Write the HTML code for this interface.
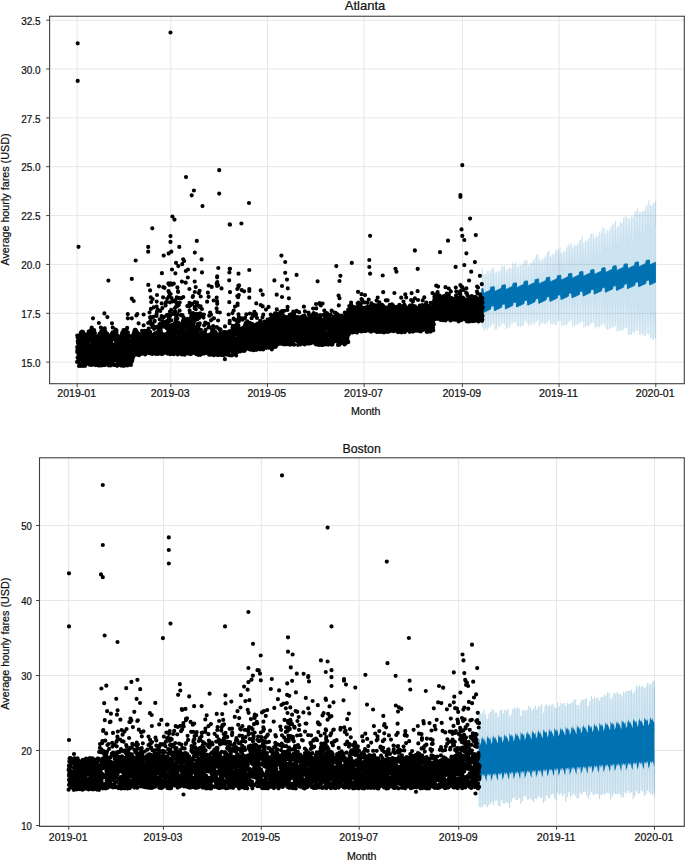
<!DOCTYPE html>
<html><head><meta charset="utf-8"><title>Forecast</title><style>html,body{margin:0;padding:0;background:#fff;overflow:hidden}svg{display:block;position:absolute;left:0;top:0}text{stroke:#111;stroke-width:.22px}</style></head><body>
<svg width="685" height="860" viewBox="0 0 685 860" font-family="'Liberation Sans', sans-serif" fill="#111">
<rect width="685" height="860" fill="#fff"/>
<path d="M77.2 16.25V383.7M170.8 16.25V383.7M267.4 16.25V383.7M364.1 16.25V383.7M462.4 16.25V383.7M559.1 16.25V383.7M655.8 16.25V383.7M49.6 362.1H684.3M49.6 313.3H684.3M49.6 264.4H684.3M49.6 215.6H684.3M49.6 166.7H684.3M49.6 117.9H684.3M49.6 69H684.3M49.6 20.2H684.3" stroke="#e6e6e6" stroke-width="1" fill="none"/>
<path d="M481.8 289L482 268.7L482.8 268.6L483 288.7L483.4 294.1L483.6 274.3L484.4 273.9L484.6 293.4L485 293.2L485.2 274.5L486 274.1L486.2 292.5L486.6 292.4L486.8 271.2L487.5 270.8L487.8 291.7L488.1 291.5L488.4 271.3L489.1 270.9L489.4 290.8L489.7 290.7L490 273.4L490.7 270.1L490.9 287.1L491.3 287L491.5 269.3L492.3 269.1L492.5 286.8L492.9 286.7L493.1 268.2L493.9 268L494.1 286.4L494.5 291.8L494.7 273.1L495.5 272.7L495.7 291.1L496.1 290.9L496.3 271.8L497 271.4L497.3 290.2L497.7 290.1L497.9 271.5L498.6 271.1L498.9 289.4L499.2 289.2L499.5 271L500.2 270.6L500.5 288.5L500.8 288.4L501.1 268.3L501.8 264.9L502 284.8L502.4 284.7L502.6 266.9L503.4 266.8L503.6 284.5L504 284.4L504.2 266L505 265.8L505.2 284.2L505.6 289.5L505.8 270.9L506.6 270.5L506.8 288.8L507.2 288.6L507.4 268.7L508.1 268.3L508.4 288L508.7 287.8L509 268L509.7 267.5L510 287.1L510.3 286.9L510.6 268.8L511.3 268.4L511.6 286.3L511.9 286.1L512.2 264.9L512.9 261.5L513.1 282.5L513.5 282.4L513.7 264.6L514.5 264.4L514.7 282.2L515.1 282.1L515.3 262.8L516.1 262.6L516.3 281.9L516.7 287.2L516.9 267.2L517.7 266.7L517.9 286.5L518.3 286.3L518.5 265.6L519.2 265.2L519.5 285.7L519.8 285.5L520.1 265.6L520.8 265.1L521.1 284.8L521.4 284.6L521.7 265L522.4 264.5L522.6 284L523 283.8L523.2 264.7L524 261.3L524.2 280.2L524.6 280.1L524.8 260.3L525.6 260.1L525.8 279.8L526.2 279.6L526.4 260.6L527.2 260.4L527.4 279.1L527.8 284.4L528 265.6L528.7 265.1L529 283.5L529.4 283.2L529.6 263.8L530.3 263.3L530.6 282.3L530.9 282L531.2 263.3L531.9 262.8L532.2 281.2L532.5 280.9L532.8 260.1L533.5 259.6L533.7 280L534.1 279.7L534.3 261.3L535.1 257.9L535.3 275.9L535.7 275.8L535.9 254.5L536.7 254.3L536.9 275.3L537.3 275.2L537.5 255.3L538.3 255L538.5 274.7L538.9 279.9L539.1 259.6L539.8 259.1L540.1 279L540.4 278.7L540.7 260.9L541.4 260.4L541.7 277.8L542 277.6L542.3 258.8L543 258.3L543.3 276.7L543.6 276.4L543.9 258.1L544.6 257.6L544.8 275.5L545.2 275.3L545.4 257.7L546.2 254.2L546.4 271.5L546.8 271.3L547 252.4L547.8 252.2L548 270.8L548.4 270.7L548.6 251.1L549.4 250.8L549.6 270.2L550 275.4L550.2 257L550.9 256.4L551.2 274.5L551.5 274.3L551.8 254.3L552.5 253.7L552.8 273.4L553.1 273.1L553.4 254.8L554.1 254.3L554.3 272.2L554.7 272L554.9 251.4L555.7 250.9L555.9 271.1L556.3 270.8L556.5 251.4L557.3 247.9L557.5 267L557.9 266.9L558.1 249.9L558.9 249.6L559.1 266.4L559.5 266.2L559.7 247.5L560.4 247.2L560.7 265.8L561 271L561.3 252.9L562 252.4L562.3 270.1L562.6 269.9L562.9 251.5L563.6 250.9L563.9 269L564.2 268.8L564.5 251.8L565.2 251.3L565.4 267.9L565.8 267.7L566 248.6L566.8 248.1L567 266.8L567.4 266.6L567.6 246.7L568.4 243.2L568.6 262.8L569 262.7L569.2 245.8L570 245.5L570.2 262.3L570.6 262.1L570.8 243.4L571.5 243.1L571.8 261.7L572.1 266.9L572.4 247.5L573.1 246.9L573.4 266.1L573.7 265.8L574 244.7L574.7 244.2L575 265L575.3 264.7L575.6 246L576.3 245.4L576.5 263.9L576.9 263.6L577.1 244.7L577.9 244.2L578.1 262.8L578.5 262.5L578.7 243.7L579.5 240.2L579.7 258.8L580.1 258.6L580.3 239.9L581.1 239.6L581.3 258.2L581.7 258.1L581.9 236.5L582.6 236.1L582.9 257.6L583.2 262.9L583.5 243.7L584.2 243.1L584.5 262L584.8 261.8L585.1 240.7L585.8 240.2L586 260.9L586.4 260.7L586.6 240.9L587.4 240.3L587.6 259.8L588 259.5L588.2 238.7L589 238.1L589.2 258.7L589.6 258.4L589.8 237.4L590.6 233.9L590.8 254.6L591.2 254.5L591.4 233.2L592.1 232.8L592.4 253.9L592.8 253.8L593 234.3L593.7 234L594 253.2L594.3 258.4L594.6 238.1L595.3 237.5L595.6 257.5L595.9 257.2L596.2 235.7L596.9 235.1L597.1 256.2L597.5 256L597.7 236.4L598.5 235.8L598.7 255L599.1 254.7L599.3 232.6L600.1 232L600.3 253.8L600.7 253.5L600.9 233.4L601.7 229.8L601.9 249.7L602.3 249.5L602.5 227.9L603.2 227.5L603.5 248.9L603.8 248.8L604.1 229.1L604.8 228.7L605.1 248.2L605.4 253.4L605.7 233.7L606.4 233.1L606.7 252.5L607 252.2L607.3 230.3L608 229.6L608.2 251.3L608.6 251L608.8 231.1L609.6 230.5L609.8 250L610.2 249.7L610.4 227.1L611.2 226.5L611.4 248.8L611.8 248.5L612 227L612.8 223.4L613 244.7L613.4 244.5L613.6 224L614.3 223.6L614.6 244L614.9 243.8L615.2 220.7L615.9 220.3L616.2 243.2L616.5 248.5L616.8 227.6L617.5 227L617.7 247.5L618.1 247.2L618.3 226.2L619.1 225.6L619.3 246.3L619.7 246L619.9 222.2L620.7 221.5L620.9 245L621.3 244.8L621.5 223.4L622.3 222.7L622.5 243.8L622.9 243.5L623.1 220.2L623.8 216.6L624.1 239.7L624.5 239.5L624.7 216.4L625.4 216L625.7 239L626 238.8L626.3 217.5L627 217.1L627.3 238.3L627.6 243.5L627.9 218.2L628.6 217.6L628.8 242.5L629.2 242.2L629.4 220.3L630.2 219.6L630.4 241.2L630.8 240.9L631 217.1L631.8 216.4L632 239.8L632.4 239.5L632.6 217.6L633.4 216.9L633.6 238.4L634 238.1L634.2 215.4L634.9 211.8L635.2 234.1L635.5 233.9L635.8 211L636.5 210.5L636.8 233.2L637.1 233L637.4 208.5L638.1 208.1L638.4 232.3L638.7 237.5L639 212.6L639.7 211.9L639.9 236.4L640.3 236L640.5 212.6L641.3 211.9L641.5 234.9L641.9 234.6L642.1 212L642.9 211.3L643.1 233.5L643.5 233.2L643.7 210.9L644.5 210.2L644.7 232.1L645.1 231.8L645.3 209.4L646 205.8L646.3 227.8L646.6 227.6L646.9 205.1L647.6 204.7L647.9 226.9L648.2 226.7L648.5 200.6L649.2 200.1L649.4 226L649.8 231.2L650 205.5L650.8 204.8L651 230.1L651.4 229.7L651.6 206L652.4 205.3L652.6 228.7L653 228.3L653.2 203.4L654 202.7L654.2 227.2L654.6 226.9L654.8 202.7L655.5 202L655.6 226L655.6 226L655.6 200.5L655.6 200.5L655.6 226L655.6 312.9L655.6 339.5L655.6 339.5L655.6 312.9L655.6 312.9L655.5 337.9L654.8 337.9L654.6 312.9L654.2 312.8L654 339.7L653.2 339.7L653 312.8L652.6 312.8L652.4 338.5L651.6 338.5L651.4 312.7L651 312.7L650.8 337.9L650 337.9L649.8 312.7L649.4 308.1L649.2 334.6L648.5 334.4L648.2 307.8L647.9 307.7L647.6 333.7L646.9 333.5L646.6 307.3L646.3 307.2L646 334.2L645.3 336.7L645.1 309.6L644.7 309.6L644.5 336.2L643.7 336.2L643.5 309.6L643.1 309.6L642.9 334.3L642.1 334.3L641.9 309.6L641.5 309.6L641.3 335.1L640.5 335.1L640.3 309.6L639.9 309.6L639.7 334.5L639 334.5L638.7 309.6L638.4 305L638.1 330.7L637.4 330.5L637.1 304.7L636.8 304.6L636.5 330.9L635.8 330.7L635.5 304.3L635.2 304.3L634.9 331.5L634.2 334L634 306.7L633.6 306.7L633.4 332.2L632.6 332.3L632.4 306.8L632 306.8L631.8 334.5L631 334.6L630.8 306.8L630.4 306.8L630.2 334.7L629.4 334.8L629.2 306.9L628.8 306.9L628.6 334.7L627.9 334.8L627.6 307L627.3 302.4L627 327.8L626.3 327.7L626 302.1L625.7 302.1L625.4 328.3L624.7 328.1L624.5 301.8L624.1 301.7L623.8 328L623.1 330.5L622.9 304.2L622.5 304.3L622.3 330.2L621.5 330.2L621.3 304.4L620.9 304.4L620.7 330.4L619.9 330.4L619.7 304.5L619.3 304.5L619.1 330.7L618.3 330.8L618.1 304.6L617.7 304.6L617.5 331.7L616.8 331.8L616.5 304.8L616.2 300.2L615.9 326.2L615.2 326L614.9 300L614.6 299.9L614.3 327.6L613.6 327.4L613.4 299.7L613 299.7L612.8 325.4L612 327.9L611.8 302.2L611.4 302.2L611.2 327.8L610.4 327.9L610.2 302.4L609.8 302.4L609.6 329L608.8 329.1L608.6 302.6L608.2 302.6L608 329.8L607.3 329.9L607 302.8L606.7 302.8L606.4 328.5L605.7 328.6L605.4 303L605.1 298.4L604.8 324.9L604.1 324.8L603.8 298.3L603.5 298.2L603.2 324.4L602.5 324.3L602.3 298L601.9 298L601.7 323.5L600.9 326L600.7 300.6L600.3 300.6L600.1 327.2L599.3 327.3L599.1 300.8L598.7 300.9L598.5 326.8L597.7 326.9L597.5 301.1L597.1 301.1L596.9 327L596.2 327.1L595.9 301.3L595.6 301.4L595.3 328.8L594.6 328.9L594.3 301.6L594 297.1L593.7 322.3L593 322.2L592.8 297L592.4 296.9L592.1 323.1L591.4 323L591.2 296.8L590.8 296.8L590.6 323.6L589.8 326.2L589.6 299.4L589.2 299.5L589 325.5L588.2 325.6L588 299.7L587.6 299.8L587.4 325.8L586.6 325.9L586.4 300L586 300.1L585.8 326.5L585.1 326.6L584.8 300.3L584.5 300.4L584.2 328.3L583.5 328.4L583.2 300.7L582.9 296.2L582.6 321.2L581.9 321.2L581.7 296.1L581.3 296.1L581.1 323.1L580.3 323.1L580.1 296L579.7 296L579.5 321.9L578.7 324.5L578.5 298.7L578.1 298.7L577.9 325L577.1 325.1L576.9 299L576.5 299.1L576.3 324.1L575.6 324.2L575.3 299.4L575 299.5L574.7 326.1L574 326.2L573.7 299.8L573.4 299.9L573.1 326.3L572.4 326.5L572.1 300.2L571.8 295.7L571.5 320.3L570.8 320.2L570.6 295.6L570.2 295.6L570 321.7L569.2 321.7L569 295.6L568.6 295.6L568.4 321L567.6 323.6L567.4 298.3L567 298.4L566.8 325.1L566 325.2L565.8 298.8L565.4 298.9L565.2 324.8L564.5 325L564.2 299.2L563.9 299.3L563.6 325.5L562.9 325.7L562.6 299.6L562.3 299.7L562 325.8L561.3 326L561 300.1L560.7 295.6L560.4 321.3L559.7 321.3L559.5 295.6L559.1 295.6L558.9 320.8L558.1 320.8L557.9 295.6L557.5 295.7L557.3 322.5L556.5 325.2L556.3 298.4L555.9 298.5L555.7 325.2L554.9 325.3L554.7 298.9L554.3 299L554.1 323.4L553.4 323.6L553.1 299.4L552.8 299.5L552.5 324.6L551.8 324.8L551.5 299.9L551.2 300L550.9 323.9L550.2 324.1L550 300.4L549.6 296L549.4 319.8L548.6 319.8L548.4 296L548 296L547.8 322.6L547 322.6L546.8 296.1L546.4 296.1L546.2 322.5L545.4 325.2L545.2 299L544.8 299.1L544.6 323.5L543.9 323.7L543.6 299.5L543.3 299.6L543 323.1L542.3 323.3L542 300.1L541.7 300.2L541.4 323.5L540.7 323.7L540.4 300.6L540.1 300.8L539.8 326.2L539.1 326.4L538.9 301.2L538.5 296.8L538.3 320.1L537.5 320.1L537.3 296.9L536.9 296.9L536.7 322.1L535.9 322.1L535.7 297L535.3 297.1L535.1 322.7L534.3 325.4L534.1 299.9L533.7 300.1L533.5 322.9L532.8 323.2L532.5 300.5L532.2 300.7L531.9 324.9L531.2 325.2L530.9 301.2L530.6 301.3L530.3 324.4L529.6 324.6L529.4 301.8L529 301.9L528.7 325.9L528 326.2L527.8 302.4L527.4 298L527.2 323L526.4 323L526.2 298.1L525.8 298.2L525.6 320.7L524.8 320.7L524.6 298.4L524.2 298.4L524 323.2L523.2 326L523 301.3L522.6 301.5L522.4 326.1L521.7 326.3L521.4 302L521.1 302.1L520.8 326.5L520.1 326.8L519.8 302.7L519.5 302.8L519.2 326.1L518.5 326.4L518.3 303.4L517.9 303.5L517.7 326.1L516.9 326.3L516.7 304L516.3 299.6L516.1 321.7L515.3 321.8L515.1 299.8L514.7 299.9L514.5 322.3L513.7 322.3L513.5 300.1L513.1 300.2L512.9 321.7L512.2 324.5L511.9 303.1L511.6 303.3L511.3 324.4L510.6 324.7L510.3 303.9L510 304L509.7 327.5L509 327.8L508.7 304.6L508.4 304.8L508.1 327.7L507.4 328L507.2 305.4L506.8 305.5L506.6 328.7L505.8 328.9L505.6 306.1L505.2 301.7L505 324.5L504.2 324.6L504 302L503.6 302L503.4 323.4L502.6 323.5L502.4 302.3L502 302.4L501.8 322.3L501.1 325.1L500.8 305.4L500.5 305.6L500.2 327.1L499.5 327.4L499.2 306.2L498.9 306.4L498.6 326.1L497.9 326.4L497.7 307L497.3 307.2L497 328.8L496.3 329.1L496.1 307.8L495.7 308L495.5 329.8L494.7 330.1L494.5 308.6L494.1 304.2L493.9 323.6L493.1 323.7L492.9 304.5L492.5 304.6L492.3 324.8L491.5 324.9L491.3 304.9L490.9 305L490.7 325L490 327.8L489.7 308.1L489.4 308.3L489.1 327.5L488.4 327.8L488.1 308.9L487.8 309.1L487.5 330L486.8 330.3L486.6 309.8L486.2 310L486 328.3L485.2 328.6L485 310.7L484.6 310.9L484.4 330.6L483.6 330.9L483.4 311.5L483 307.2L482.8 326.5L482 326.6L481.8 307.5Z" fill="#0072B2" fill-opacity="0.2" stroke="#0072B2" stroke-opacity="0.2" stroke-width="0.22" stroke-linejoin="bevel"/>
<path d="M481.8 288.7L482.2 288.6L482.6 288.6L483 288.5L483.4 293.5L483.8 293.3L484.2 293.1L484.6 292.9L485 292.7L485.4 292.5L485.8 292.3L486.2 292.1L486.6 291.9L487 291.7L487.3 291.6L487.7 291.4L488.1 291.2L488.5 291L488.9 290.8L489.3 290.6L489.7 290.4L490.1 290.2L490.5 290L490.9 287.1L491.3 287.1L491.7 287L492.1 286.9L492.5 286.9L492.9 286.8L493.3 286.7L493.7 286.7L494.1 286.6L494.5 291.5L494.9 291.4L495.3 291.2L495.7 291L496.1 290.8L496.5 290.6L496.9 290.4L497.3 290.2L497.7 290L498 289.8L498.4 289.7L498.8 289.5L499.2 289.3L499.6 289.1L500 288.9L500.4 288.7L500.8 288.5L501.2 288.3L501.6 288.1L502 285.2L502.4 285.2L502.8 285.1L503.2 285L503.6 285L504 284.9L504.4 284.8L504.8 284.8L505.2 284.7L505.6 289.6L506 289.5L506.4 289.3L506.8 289.1L507.2 288.9L507.6 288.7L508 288.5L508.3 288.3L508.7 288.1L509.1 287.9L509.5 287.7L509.9 287.6L510.3 287.4L510.7 287.2L511.1 287L511.5 286.8L511.9 286.6L512.3 286.4L512.7 286.2L513.1 283.3L513.5 283.3L513.9 283.2L514.3 283.1L514.7 283.1L515.1 283L515.5 282.9L515.9 282.9L516.3 282.8L516.7 287.7L517.1 287.6L517.5 287.4L517.9 287.2L518.3 287L518.7 286.8L519 286.6L519.4 286.4L519.8 286.2L520.2 286L520.6 285.8L521 285.7L521.4 285.5L521.8 285.3L522.2 285.1L522.6 284.9L523 284.7L523.4 284.5L523.8 284.3L524.2 281.4L524.6 281.4L525 281.3L525.4 281.2L525.8 281.2L526.2 281.1L526.6 281L527 281L527.4 280.9L527.8 285.8L528.2 285.7L528.6 285.5L529 285.3L529.4 285.1L529.7 284.9L530.1 284.7L530.5 284.5L530.9 284.3L531.3 284.1L531.7 283.9L532.1 283.8L532.5 283.6L532.9 283.4L533.3 283.2L533.7 283L534.1 282.8L534.5 282.6L534.9 282.4L535.3 279.5L535.7 279.5L536.1 279.4L536.5 279.3L536.9 279.3L537.3 279.2L537.7 279.1L538.1 279.1L538.5 279L538.9 283.9L539.3 283.7L539.7 283.6L540 283.4L540.4 283.2L540.8 283L541.2 282.8L541.6 282.6L542 282.4L542.4 282.2L542.8 282L543.2 281.9L543.6 281.7L544 281.5L544.4 281.3L544.8 281.1L545.2 280.9L545.6 280.7L546 280.5L546.4 277.6L546.8 277.6L547.2 277.5L547.6 277.4L548 277.4L548.4 277.3L548.8 277.2L549.2 277.1L549.6 277.1L550 282L550.4 281.8L550.7 281.7L551.1 281.5L551.5 281.3L551.9 281.1L552.3 280.9L552.7 280.7L553.1 280.5L553.5 280.3L553.9 280.1L554.3 279.9L554.7 279.8L555.1 279.6L555.5 279.4L555.9 279.2L556.3 279L556.7 278.8L557.1 278.6L557.5 275.7L557.9 275.7L558.3 275.6L558.7 275.5L559.1 275.5L559.5 275.4L559.9 275.3L560.3 275.2L560.7 275.2L561 280.1L561.4 279.9L561.8 279.8L562.2 279.6L562.6 279.4L563 279.2L563.4 279L563.8 278.8L564.2 278.6L564.6 278.4L565 278.2L565.4 278L565.8 277.9L566.2 277.7L566.6 277.5L567 277.3L567.4 277.1L567.8 276.9L568.2 276.7L568.6 273.8L569 273.8L569.4 273.7L569.8 273.6L570.2 273.5L570.6 273.5L571 273.4L571.4 273.3L571.7 273.3L572.1 278.2L572.5 278L572.9 277.9L573.3 277.7L573.7 277.5L574.1 277.3L574.5 277.1L574.9 276.9L575.3 276.7L575.7 276.5L576.1 276.3L576.5 276.1L576.9 276L577.3 275.8L577.7 275.6L578.1 275.4L578.5 275.2L578.9 275L579.3 274.8L579.7 271.9L580.1 271.9L580.5 271.8L580.9 271.7L581.3 271.6L581.7 271.6L582.1 271.5L582.4 271.4L582.8 271.4L583.2 276.3L583.6 276.1L584 275.9L584.4 275.8L584.8 275.6L585.2 275.4L585.6 275.2L586 275L586.4 274.8L586.8 274.6L587.2 274.4L587.6 274.2L588 274.1L588.4 273.9L588.8 273.7L589.2 273.5L589.6 273.3L590 273.1L590.4 272.9L590.8 270L591.2 269.9L591.6 269.9L592 269.8L592.4 269.7L592.8 269.7L593.1 269.6L593.5 269.5L593.9 269.5L594.3 274.4L594.7 274.2L595.1 274L595.5 273.9L595.9 273.7L596.3 273.5L596.7 273.3L597.1 273.1L597.5 272.9L597.9 272.7L598.3 272.5L598.7 272.3L599.1 272.2L599.5 272L599.9 271.8L600.3 271.6L600.7 271.4L601.1 271.2L601.5 271L601.9 268.1L602.3 268L602.7 268L603.1 267.9L603.4 267.8L603.8 267.8L604.2 267.7L604.6 267.6L605 267.6L605.4 272.5L605.8 272.3L606.2 272.1L606.6 272L607 271.8L607.4 271.6L607.8 271.4L608.2 271.2L608.6 271L609 270.8L609.4 270.6L609.8 270.4L610.2 270.2L610.6 270.1L611 269.9L611.4 269.7L611.8 269.5L612.2 269.3L612.6 269.1L613 266.2L613.4 266.1L613.8 266.1L614.1 266L614.5 265.9L614.9 265.9L615.3 265.8L615.7 265.7L616.1 265.7L616.5 270.6L616.9 270.4L617.3 270.2L617.7 270.1L618.1 269.9L618.5 269.7L618.9 269.5L619.3 269.3L619.7 269.1L620.1 268.9L620.5 268.7L620.9 268.5L621.3 268.3L621.7 268.2L622.1 268L622.5 267.8L622.9 267.6L623.3 267.4L623.7 267.2L624.1 264.3L624.5 264.2L624.8 264.2L625.2 264.1L625.6 264L626 264L626.4 263.9L626.8 263.8L627.2 263.8L627.6 268.7L628 268.5L628.4 268.3L628.8 268.2L629.2 268L629.6 267.8L630 267.6L630.4 267.4L630.8 267.2L631.2 267L631.6 266.8L632 266.6L632.4 266.4L632.8 266.3L633.2 266.1L633.6 265.9L634 265.7L634.4 265.5L634.8 265.3L635.1 262.4L635.5 262.3L635.9 262.3L636.3 262.2L636.7 262.1L637.1 262.1L637.5 262L637.9 261.9L638.3 261.9L638.7 266.8L639.1 266.6L639.5 266.4L639.9 266.2L640.3 266.1L640.7 265.9L641.1 265.7L641.5 265.5L641.9 265.3L642.3 265.1L642.7 264.9L643.1 264.7L643.5 264.5L643.9 264.4L644.3 264.2L644.7 264L645.1 263.8L645.5 263.6L645.8 263.4L646.2 260.5L646.6 260.4L647 260.4L647.4 260.3L647.8 260.2L648.2 260.2L648.6 260.1L649 260L649.4 260L649.8 264.9L650.2 264.7L650.6 264.5L651 264.3L651.4 264.2L651.8 264L652.2 263.8L652.6 263.6L653 263.4L653.4 263.2L653.8 263L654.2 262.8L654.6 262.6L655 262.4L655.4 262.3L655.4 282.4L655 282.5L654.6 282.7L654.2 282.9L653.8 283.1L653.4 283.3L653 283.5L652.6 283.7L652.2 283.9L651.8 284L651.4 284.2L651 284.4L650.6 284.6L650.2 284.8L649.8 285L649.4 280L649 280.1L648.6 280.2L648.2 280.2L647.8 280.3L647.4 280.4L647 280.4L646.6 280.5L646.2 280.6L645.8 283.4L645.5 283.6L645.1 283.8L644.7 284L644.3 284.2L643.9 284.4L643.5 284.6L643.1 284.8L642.7 284.9L642.3 285.1L641.9 285.3L641.5 285.5L641.1 285.7L640.7 285.9L640.3 286.1L639.9 286.3L639.5 286.4L639.1 286.6L638.7 286.8L638.3 281.9L637.9 281.9L637.5 282L637.1 282.1L636.7 282.1L636.3 282.2L635.9 282.3L635.5 282.3L635.1 282.4L634.8 285.3L634.4 285.5L634 285.7L633.6 285.8L633.2 286L632.8 286.2L632.4 286.4L632 286.6L631.6 286.8L631.2 287L630.8 287.2L630.4 287.3L630 287.5L629.6 287.7L629.2 287.9L628.8 288.1L628.4 288.3L628 288.5L627.6 288.7L627.2 283.7L626.8 283.8L626.4 283.8L626 283.9L625.6 284L625.2 284L624.8 284.1L624.5 284.2L624.1 284.2L623.7 287.1L623.3 287.3L622.9 287.5L622.5 287.7L622.1 287.9L621.7 288.1L621.3 288.2L620.9 288.4L620.5 288.6L620.1 288.8L619.7 289L619.3 289.2L618.9 289.4L618.5 289.6L618.1 289.7L617.7 289.9L617.3 290.1L616.9 290.3L616.5 290.5L616.1 285.5L615.7 285.6L615.3 285.7L614.9 285.7L614.5 285.8L614.1 285.9L613.8 285.9L613.4 286L613 286.1L612.6 289L612.2 289.1L611.8 289.3L611.4 289.5L611 289.7L610.6 289.9L610.2 290.1L609.8 290.3L609.4 290.5L609 290.6L608.6 290.8L608.2 291L607.8 291.2L607.4 291.4L607 291.6L606.6 291.8L606.2 292L605.8 292.1L605.4 292.3L605 287.4L604.6 287.4L604.2 287.5L603.8 287.6L603.4 287.6L603.1 287.7L602.7 287.8L602.3 287.8L601.9 287.9L601.5 290.8L601.1 291L600.7 291.2L600.3 291.4L599.9 291.6L599.5 291.7L599.1 291.9L598.7 292.1L598.3 292.3L597.9 292.5L597.5 292.7L597.1 292.9L596.7 293L596.3 293.2L595.9 293.4L595.5 293.6L595.1 293.8L594.7 294L594.3 294.2L593.9 289.2L593.5 289.3L593.1 289.3L592.8 289.4L592.4 289.5L592 289.5L591.6 289.6L591.2 289.7L590.8 289.7L590.4 292.6L590 292.8L589.6 293L589.2 293.2L588.8 293.4L588.4 293.6L588 293.8L587.6 294L587.2 294.1L586.8 294.3L586.4 294.5L586 294.7L585.6 294.9L585.2 295.1L584.8 295.3L584.4 295.5L584 295.6L583.6 295.8L583.2 296L582.8 291.1L582.4 291.1L582.1 291.2L581.7 291.3L581.3 291.3L580.9 291.4L580.5 291.5L580.1 291.5L579.7 291.6L579.3 294.5L578.9 294.7L578.5 294.9L578.1 295L577.7 295.2L577.3 295.4L576.9 295.6L576.5 295.8L576.1 296L575.7 296.2L575.3 296.4L574.9 296.5L574.5 296.7L574.1 296.9L573.7 297.1L573.3 297.3L572.9 297.5L572.5 297.7L572.1 297.9L571.7 292.9L571.4 293L571 293L570.6 293.1L570.2 293.2L569.8 293.2L569.4 293.3L569 293.4L568.6 293.4L568.2 296.3L567.8 296.5L567.4 296.7L567 296.9L566.6 297.1L566.2 297.3L565.8 297.4L565.4 297.6L565 297.8L564.6 298L564.2 298.2L563.8 298.4L563.4 298.6L563 298.8L562.6 298.9L562.2 299.1L561.8 299.3L561.4 299.5L561 299.7L560.7 294.7L560.3 294.8L559.9 294.9L559.5 294.9L559.1 295L558.7 295.1L558.3 295.1L557.9 295.2L557.5 295.3L557.1 298.2L556.7 298.3L556.3 298.5L555.9 298.7L555.5 298.9L555.1 299.1L554.7 299.3L554.3 299.5L553.9 299.7L553.5 299.8L553.1 300L552.7 300.2L552.3 300.4L551.9 300.6L551.5 300.8L551.1 301L550.7 301.2L550.4 301.3L550 301.5L549.6 296.6L549.2 296.6L548.8 296.7L548.4 296.8L548 296.8L547.6 296.9L547.2 297L546.8 297L546.4 297.1L546 300L545.6 300.2L545.2 300.4L544.8 300.6L544.4 300.7L544 300.9L543.6 301.1L543.2 301.3L542.8 301.5L542.4 301.7L542 301.9L541.6 302.1L541.2 302.2L540.8 302.4L540.4 302.6L540 302.8L539.7 303L539.3 303.2L538.9 303.4L538.5 298.4L538.1 298.5L537.7 298.5L537.3 298.6L536.9 298.7L536.5 298.7L536.1 298.8L535.7 298.9L535.3 298.9L534.9 301.8L534.5 302L534.1 302.2L533.7 302.4L533.3 302.6L532.9 302.8L532.5 303L532.1 303.1L531.7 303.3L531.3 303.5L530.9 303.7L530.5 303.9L530.1 304.1L529.7 304.3L529.4 304.5L529 304.6L528.6 304.8L528.2 305L527.8 305.2L527.4 300.2L527 300.3L526.6 300.4L526.2 300.4L525.8 300.5L525.4 300.6L525 300.6L524.6 300.7L524.2 300.8L523.8 303.7L523.4 303.9L523 304L522.6 304.2L522.2 304.4L521.8 304.6L521.4 304.8L521 305L520.6 305.2L520.2 305.4L519.8 305.5L519.4 305.7L519 305.9L518.7 306.1L518.3 306.3L517.9 306.5L517.5 306.7L517.1 306.9L516.7 307L516.3 302.1L515.9 302.2L515.5 302.2L515.1 302.3L514.7 302.4L514.3 302.4L513.9 302.5L513.5 302.5L513.1 302.6L512.7 305.5L512.3 305.7L511.9 305.9L511.5 306.1L511.1 306.3L510.7 306.4L510.3 306.6L509.9 306.8L509.5 307L509.1 307.2L508.7 307.4L508.3 307.6L508 307.8L507.6 307.9L507.2 308.1L506.8 308.3L506.4 308.5L506 308.7L505.6 308.9L505.2 303.9L504.8 304L504.4 304.1L504 304.1L503.6 304.2L503.2 304.3L502.8 304.3L502.4 304.4L502 304.5L501.6 307.3L501.2 307.5L500.8 307.7L500.4 307.9L500 308.1L499.6 308.3L499.2 308.5L498.8 308.7L498.4 308.8L498 309L497.7 309.2L497.3 309.4L496.9 309.6L496.5 309.8L496.1 310L495.7 310.2L495.3 310.3L494.9 310.5L494.5 310.7L494.1 305.8L493.7 305.8L493.3 305.9L492.9 306L492.5 306L492.1 306.1L491.7 306.2L491.3 306.2L490.9 306.3L490.5 309.2L490.1 309.4L489.7 309.6L489.3 309.7L488.9 309.9L488.5 310.1L488.1 310.3L487.7 310.5L487.3 310.7L487 310.9L486.6 311.1L486.2 311.2L485.8 311.4L485.4 311.6L485 311.8L484.6 312L484.2 312.2L483.8 312.4L483.4 312.6L483 307.6L482.6 307.7L482.2 307.7L481.8 307.8Z" fill="#0072B2" stroke="#0072B2" stroke-width="1" stroke-linejoin="round"/>
<path d="M77.2 352h0M77.3 350.4h0M77.2 347.1h0M77.1 361.9h0M77.6 337.4h0M77.3 335.6h0M77.6 357.7h0M77.7 341.2h0M78.2 346.2h0M77.7 337h0M78.1 358.1h0M78.3 353.4h0M78 336.4h0M78.2 337.4h0M78 343h0M78 337.9h0M78 361.6h0M78.6 349h0M78.4 360.8h0M78.7 358.5h0M78.5 356h0M79 340.9h0M78.6 358.5h0M78.8 356.3h0M78.8 357.6h0M79.2 337.6h0M79.2 359.3h0M79.4 357.4h0M79.2 358.9h0M79 365.9h0M79.3 344.7h0M79 356.2h0M79.5 358h0M79 356.6h0M79.2 356.9h0M79.5 354.1h0M79.8 339.5h0M80 364.4h0M79.7 365.4h0M79.5 341.1h0M80.1 347h0M79.8 341.9h0M80 342.5h0M80.2 339.2h0M79.8 352.2h0M80.4 344h0M80.2 352h0M80 337.6h0M80.6 344.3h0M80.3 347.8h0M80.3 364h0M80.6 358.7h0M80.4 334.5h0M81.1 350h0M80.5 351.5h0M81.1 347.8h0M80.9 332.6h0M81.1 355.2h0M81.5 347.9h0M80.8 365.8h0M81.4 340.7h0M80.9 363.8h0M81 336.6h0M81.5 343.3h0M81.2 337.4h0M81.7 365.2h0M81.8 358.4h0M81.6 347h0M82.1 337.9h0M81.9 340.2h0M82.2 333.9h0M82.1 337.7h0M82.1 357.5h0M82.5 340.2h0M82 331.5h0M81.9 333.7h0M82.3 349.5h0M82.6 363.4h0M82.1 358.6h0M82.7 359.4h0M82.9 341.2h0M82.4 361.5h0M82.9 339.8h0M83 345.5h0M83.2 334.1h0M82.9 346.7h0M82.9 366h0M83 350.9h0M83 341.1h0M83.1 332.2h0M83.5 360.1h0M83.4 348.3h0M82.9 333.2h0M83.2 357.9h0M83.6 352.4h0M83.3 360.3h0M83.5 349.3h0M83.8 349.3h0M83.8 346.2h0M84 339.9h0M84.2 338.6h0M83.6 358.2h0M83.7 357.6h0M83.8 340.6h0M84.3 364.7h0M84.2 338.4h0M84 342.8h0M84.3 365.3h0M84.1 348.2h0M84.1 340.4h0M84.7 362.6h0M84.5 355.1h0M84.4 334.1h0M84.5 351.4h0M85 365.8h0M84.8 344.3h0M85.2 347.3h0M85.2 357h0M85.3 341.2h0M85 344.6h0M85.2 346.1h0M85.3 364.1h0M85.2 358.5h0M85.3 347.7h0M85.6 339.1h0M85.3 337.5h0M85.5 354.2h0M85.7 361.9h0M86.1 351.5h0M85.8 348.2h0M85.6 345.2h0M86 352.4h0M86 362.9h0M86.2 349.3h0M85.9 350.2h0M85.9 364h0M86.4 345.3h0M86 363.1h0M86.7 341.5h0M86.6 358.2h0M86.6 352.5h0M86.3 361.5h0M86.6 363.1h0M86.8 347.5h0M87.2 351.7h0M86.5 335.5h0M86.8 337.4h0M87 356.2h0M86.8 345.2h0M86.7 334.7h0M87.3 362.6h0M86.9 361.3h0M87.2 343.9h0M87.6 349.9h0M87.7 339h0M87.4 345.5h0M87.7 356.6h0M87.8 334.4h0M87.4 336.5h0M87.8 337.9h0M88 349.7h0M87.5 362.1h0M87.8 355.2h0M87.9 360.1h0M88.4 360.8h0M88.4 335.9h0M88.6 355.2h0M88.2 337.3h0M88.1 353h0M88.7 346.6h0M88.8 346.7h0M88.6 331.6h0M88.3 334h0M88.3 347.2h0M88.8 341.2h0M88.6 359.9h0M89.1 357.5h0M89.1 352h0M89.2 348.8h0M89.2 335.6h0M89.4 337.5h0M89.4 334.2h0M89 339.1h0M89.1 341.1h0M89.8 358h0M89.6 362.5h0M89.5 340h0M89.3 364.6h0M89.7 357.6h0M89.5 357.3h0M90.1 340.5h0M90.2 349.3h0M89.9 353.5h0M90.2 357.3h0M89.9 352.1h0M89.7 332.8h0M90.4 349.3h0M90.1 345h0M90.4 356.1h0M90.1 332.7h0M90.7 330.4h0M90.2 361.8h0M90.7 349.1h0M90.6 337h0M90.5 335.1h0M91.1 347h0M90.7 354.5h0M91.1 349.5h0M91.4 361h0M91.2 365h0M90.7 356.8h0M91.3 332.7h0M91.1 355.1h0M91.1 353.6h0M91.7 358h0M91.7 346.4h0M91.7 361.3h0M91.9 340.7h0M91.4 344.6h0M92 360.2h0M92 350.1h0M91.8 336.9h0M92.3 363.9h0M91.6 338h0M91.7 353.3h0M92.4 351.8h0M92.5 343.9h0M92 346h0M92.5 340.5h0M92.5 336.4h0M92.5 357.8h0M92.4 341.1h0M92.3 348.9h0M92.7 334.1h0M93 355.5h0M92.6 344.3h0M93.1 334.4h0M92.5 358.2h0M93.1 358.4h0M92.9 354.1h0M93.1 364.7h0M92.9 359.6h0M93.1 346.9h0M93 342.8h0M93.3 332.1h0M93.6 343.4h0M93.8 348h0M93.9 350.6h0M94 346.7h0M94 353.6h0M93.6 339.7h0M93.8 344.4h0M94 347.5h0M93.9 346.7h0M94.4 356.5h0M94.3 342h0M94.5 356.9h0M94.3 361.1h0M94.1 330.1h0M94.3 362.3h0M94 352.4h0M94.8 334.1h0M94.4 331.5h0M94.9 333.3h0M95 354.3h0M94.5 336h0M95 339.3h0M95.1 355.5h0M94.9 360.6h0M95.2 362.1h0M95.2 358.8h0M95.5 341.8h0M95.6 347.6h0M95 345.4h0M95.4 336.3h0M95.2 363.1h0M95.7 341.5h0M95.3 357.4h0M95.8 365.1h0M95.4 353.4h0M95.9 348.5h0M96.1 342.1h0M95.6 344.9h0M95.7 342.1h0M96.2 351.8h0M96.1 357.7h0M96.3 350.2h0M95.9 348.1h0M96.2 363.9h0M96.7 357.7h0M96.2 350h0M96.3 360.7h0M96.6 348.7h0M96.4 362.2h0M96.9 360.4h0M96.5 362.9h0M97 339.8h0M97.1 339.4h0M96.6 363.4h0M96.7 354.4h0M97.2 363.5h0M96.9 358.6h0M97.1 352.7h0M97.4 365h0M97.6 362.9h0M97.3 349.4h0M97.2 343h0M97.3 355.6h0M97.4 359.2h0M97.9 353.1h0M97.9 359.2h0M97.6 364.7h0M97.7 352.5h0M97.8 353.5h0M97.6 341.2h0M98.4 354.6h0M97.8 354.5h0M97.9 352.5h0M98.2 346.4h0M98.1 347.9h0M98.1 342.4h0M98.4 355.9h0M98.4 338.2h0M98.6 365.4h0M98.8 339.9h0M98.8 336.6h0M98.9 335.5h0M98.5 361.7h0M98.7 352.8h0M98.7 359.6h0M98.9 344.2h0M99.3 351.6h0M99.1 365h0M99.2 362.5h0M99.1 346.6h0M99.4 363.7h0M99.4 356.2h0M99.6 345h0M99.7 334.7h0M99.9 351.5h0M99.3 336.7h0M99.7 360.1h0M99.6 333.6h0M99.8 365.3h0M100 356.9h0M100.4 344.7h0M100 353.9h0M100.5 341.8h0M100.2 338.4h0M100.5 346.6h0M100.2 347.6h0M100.1 358.8h0M100.2 362.2h0M100.3 350.2h0M100.4 337.1h0M100.9 348.4h0M100.6 356.5h0M100.9 340.5h0M101.2 351.2h0M101.1 339.2h0M101.4 365.3h0M101 333.4h0M101.5 344.2h0M100.9 362.8h0M101 355.3h0M101.3 331.1h0M101.2 354.5h0M101.9 351.9h0M101.8 352h0M102 359.7h0M101.5 356.4h0M101.9 363.8h0M101.7 355.6h0M102.2 356.1h0M101.9 354.5h0M102 332.6h0M101.7 351.2h0M102 346.8h0M102.2 334.4h0M101.9 337.8h0M102.2 359h0M102 340.3h0M102.7 365.2h0M102.8 339.1h0M102.3 336.7h0M102.5 332.6h0M102.7 329.5h0M102.7 352h0M103.2 343h0M103.1 353.6h0M103.2 357.3h0M103 358.5h0M103 329.7h0M103.5 346.4h0M103.7 353.7h0M103.3 350h0M103.5 340.8h0M103.4 332.7h0M103.4 331.3h0M103.9 342.8h0M103.7 335.7h0M103.7 360.6h0M103.6 342.1h0M103.5 344.3h0M104 343.4h0M104.4 333.2h0M104.5 339.7h0M104.5 350.9h0M104.3 347.9h0M104.3 332.8h0M104.5 330.9h0M104.4 356h0M104.6 335.2h0M104.5 361.9h0M104.8 356.3h0M104.4 345.9h0M105 365h0M104.7 336.3h0M104.5 335.8h0M105.2 331.1h0M104.9 339.9h0M105.2 363.9h0M104.9 355h0M104.9 360.1h0M105.1 360.5h0M105.5 357.8h0M105.1 352.3h0M105.4 343.1h0M105.4 349h0M105.4 340.7h0M105.8 335h0M105.9 349.1h0M105.7 347.2h0M105.7 356.4h0M105.8 344.6h0M105.9 360.6h0M106.1 354.7h0M105.8 348.8h0M106.3 354h0M105.9 354.6h0M106.3 346.3h0M106.8 355.4h0M106.7 336.5h0M106.2 345.9h0M106.3 351.2h0M106.4 336.2h0M106.4 353.1h0M106.6 345.9h0M106.5 341.2h0M107.2 333.7h0M107 363.7h0M107 361.2h0M106.8 360.8h0M107 349.8h0M107.2 352.6h0M107 348.5h0M107.4 342.9h0M107.8 354.1h0M107.7 338.7h0M107.2 346.3h0M107.7 361.6h0M107.4 342.9h0M107.6 357.8h0M108.2 352h0M107.8 350h0M107.9 356.8h0M108 353.5h0M107.7 353h0M107.9 351h0M108.2 361.9h0M107.9 358.6h0M108.7 365.3h0M108.3 355.1h0M108.5 349h0M108.2 351.3h0M108.6 358h0M108.8 342.6h0M108.6 362.2h0M108.9 356.4h0M109 363h0M108.6 347.7h0M108.6 336.1h0M109.5 342.1h0M109.1 336.6h0M109.2 341.6h0M108.9 360.8h0M109.4 360.9h0M109.8 361h0M109.4 347.4h0M109.8 348.1h0M109.5 350.1h0M109.8 344h0M109.9 352.6h0M109.7 359.4h0M109.9 359.4h0M109.8 352.6h0M109.9 346.7h0M110.3 343.3h0M110.4 347h0M110.3 353h0M110.2 347.4h0M110 349.6h0M110.5 365.5h0M110.8 347.7h0M110.8 340.3h0M110.7 357.5h0M111 360.6h0M111.1 335.3h0M111 341.8h0M110.7 365.3h0M110.9 355.2h0M111 355.8h0M111.3 336.9h0M111.2 345.2h0M111 343.6h0M111.5 362.7h0M111.5 357h0M111.3 334.7h0M111.8 357.1h0M111.2 343.7h0M111.4 346.6h0M111.3 336.9h0M111.9 363.5h0M111.5 337.5h0M111.7 347.8h0M111.9 348.7h0M112 349.1h0M111.9 333.8h0M112.5 353.7h0M112.5 334.1h0M112.4 363.8h0M112 344.8h0M112.7 364.6h0M112.6 332.4h0M112.8 347.8h0M113 364.4h0M112.5 337.8h0M112.8 363.9h0M112.7 347.6h0M112.6 356.9h0M112.8 356.3h0M113 356.8h0M112.8 356.3h0M113.2 354.8h0M113.4 339.2h0M113.6 356.6h0M113.7 352.6h0M113.6 352h0M113.3 353.6h0M113.8 345.5h0M113.2 364h0M113.9 335.2h0M114 332.2h0M113.5 359.7h0M114 359.9h0M113.6 332.6h0M113.7 355.3h0M113.8 352.8h0M114.2 360.3h0M113.8 338.9h0M114.4 356.9h0M114.2 333.5h0M114.7 345.4h0M114.4 349h0M114.1 358h0M114.3 338.9h0M114.2 358.6h0M114.8 357h0M114.4 364.9h0M114.8 355.7h0M115.2 343.5h0M114.9 344.9h0M115.4 353.3h0M115.1 335.8h0M115.3 331.4h0M115.6 356.5h0M115.2 354.8h0M115.4 345.6h0M115.5 329.5h0M115.5 343.1h0M115.4 348.2h0M115.4 349.5h0M116 336.5h0M116.1 347.4h0M116.1 347.9h0M115.7 347.4h0M116.3 336.3h0M116.3 341.3h0M115.9 337.4h0M116 365.2h0M116.6 337.7h0M116 342.7h0M116.1 331.3h0M116.5 341h0M116.8 360.2h0M116.6 338.5h0M116.5 332.6h0M116.5 330.3h0M116.8 342.4h0M116.9 353.8h0M117.2 344.8h0M117 338.4h0M116.8 336.9h0M117.1 365.8h0M116.9 350.9h0M116.9 347.8h0M117.6 362.9h0M117.1 346.1h0M117.3 350.9h0M117.6 344.8h0M117.6 337.6h0M117.8 335.9h0M117.5 362.8h0M117.9 343.9h0M117.7 345.9h0M118.2 361.4h0M118.1 362.8h0M118.1 351.9h0M118.2 343.2h0M117.8 346.8h0M118.1 364.5h0M118.5 351h0M118.7 350.5h0M118.7 361h0M118.8 351.5h0M118.5 357.9h0M118.4 355.1h0M118.9 348.6h0M118.7 352.9h0M119 354.9h0M118.7 354.2h0M119.1 346.1h0M119.2 353.4h0M119.2 350.7h0M118.9 364h0M119.6 348.9h0M119.3 359.4h0M119.4 343.6h0M119.4 346.4h0M119.5 358h0M119.4 339.4h0M119.6 346h0M119.7 351h0M120 341.8h0M119.7 353.8h0M120.2 351h0M119.8 355.5h0M119.9 346.9h0M119.7 356.1h0M120 353.1h0M119.9 338h0M120.4 360.8h0M119.9 356.4h0M120.5 339.6h0M120.2 343.2h0M120.8 350h0M120.4 347.1h0M121 357.7h0M121 354.1h0M120.7 336.7h0M121.1 343h0M121.1 357.5h0M121.2 363h0M120.7 347.9h0M121.4 353.7h0M120.9 365.5h0M121.1 356.1h0M121.2 350.2h0M121.2 353.5h0M121.2 363.9h0M121.5 361h0M121.7 354.9h0M121.6 343.6h0M121.7 352.1h0M121.5 347.6h0M121.9 365.7h0M122.2 355.4h0M121.9 342.9h0M122.4 351.9h0M121.9 335.5h0M122 333.8h0M121.9 337.2h0M122.4 332.5h0M122.3 360.9h0M122.2 340.4h0M122.3 349.8h0M122.6 350.3h0M122.4 332.3h0M123.1 362.1h0M122.6 346.8h0M122.5 338.7h0M122.6 363.3h0M123.3 363.5h0M122.8 354.3h0M122.7 344.4h0M123 346.7h0M123.6 341.6h0M123.4 356.7h0M123.2 362.3h0M123.5 337.4h0M123.5 344.3h0M123.6 362.5h0M123.5 330h0M123.4 359.7h0M123.8 348.4h0M123.5 356.8h0M123.8 336.8h0M124.2 337.4h0M123.7 341.3h0M124 365.8h0M124.2 361.6h0M124 335.1h0M124.4 358.3h0M124.2 359h0M124.3 359.6h0M124.2 349.3h0M124.4 330.2h0M124.5 347.1h0M125 341.8h0M124.9 363.1h0M124.5 338.1h0M124.6 351.2h0M124.8 331.6h0M125.1 344.1h0M125.2 334.6h0M125.2 332.2h0M125.3 360h0M125 355h0M125.1 349.4h0M125.7 352.2h0M125.1 357.7h0M125.9 330.1h0M125.4 343.1h0M126 348.3h0M125.6 350.3h0M125.5 339.6h0M125.9 338.2h0M125.7 359h0M126.4 339.9h0M126.3 365.1h0M126 341.5h0M125.8 364.8h0M126 359h0M126 344.2h0M126.4 341.8h0M126.8 344.8h0M126.5 354.7h0M126.7 364h0M126.4 347.2h0M126.9 343.9h0M127 354.6h0M126.8 351.1h0M126.6 348.2h0M126.7 350.9h0M127.3 359.4h0M127.4 349.4h0M126.9 328.5h0M126.9 359.8h0M127.4 341.6h0M127.1 362.7h0M127.4 365.4h0M127.1 334.1h0M127.9 344.1h0M128 357.4h0M127.9 332.4h0M127.8 334h0M128.1 359.7h0M127.6 356h0M127.9 343.2h0M127.7 344.5h0M128.1 361.7h0M127.9 346h0M128.4 336.6h0M128.4 347.3h0M128.5 339.4h0M128.6 353.7h0M128.7 354.3h0M128.7 345.1h0M128.9 357.2h0M128.4 338.1h0M128.4 360.3h0M129.1 357.1h0M128.7 354.3h0M128.6 352.3h0M128.8 346.2h0M129.2 361h0M129 364h0M129.6 363.4h0M129.4 354.1h0M129.4 360.8h0M129.1 361.6h0M129.9 336.1h0M129.8 345.2h0M129.6 347.4h0M129.7 351.3h0M129.5 344.4h0M129.7 363.2h0M129.7 353.3h0M130.2 344.7h0M130.3 364.4h0M130.2 362.6h0M129.9 347.5h0M129.9 352.7h0M130.3 360.9h0M130.3 364.3h0M130.2 360.4h0M130.2 345.2h0M130.9 361.3h0M130.5 341.3h0M130.9 358.3h0M130.6 353.3h0M130.7 352.9h0M130.8 350h0M130.9 355.3h0M130.9 364.9h0M131.3 356.5h0M130.8 352.8h0M131.4 341.2h0M131.5 361.9h0M131.2 342h0M131.7 350.1h0M131.8 336.5h0M131.8 359h0M131.9 360.3h0M132 343.4h0M131.6 348.3h0M132.1 350.8h0M131.7 360.5h0M131.9 355.8h0M131.8 346.6h0M132.1 361.1h0M132 350.5h0M131.8 361.7h0M132.3 336.1h0M132.4 359.6h0M132.4 346.5h0M132.6 338.3h0M132.6 341.3h0M132.2 345.1h0M133 339.1h0M133.1 357h0M133 353.8h0M133.2 345.4h0M133.2 357.1h0M133.2 338h0M133.1 339h0M132.8 355.5h0M133.1 335.2h0M133.1 349.3h0M133.4 346h0M133.6 333.8h0M133.6 349.6h0M133.4 341.1h0M133.8 354h0M133.4 335.9h0M133.4 337.1h0M133.8 333.2h0M133.7 338h0M134 342.8h0M133.8 351.1h0M134.3 333.3h0M133.8 335.7h0M133.8 338.3h0M134.6 353h0M134.4 332.2h0M134 338.8h0M134.4 334.2h0M134.5 349.7h0M134.4 331h0M135 349.3h0M134.9 329.8h0M134.4 340.6h0M135.2 339.5h0M135.3 339.4h0M134.6 336.1h0M135.1 340.6h0M135.5 329.9h0M135.6 341h0M134.8 343.9h0M135.2 347h0M135.2 348.1h0M135.4 345.4h0M135.3 336.4h0M135.9 354.6h0M135.4 347.7h0M135.5 342.3h0M135.8 336.1h0M135.5 335h0M136.1 336.4h0M136 350.4h0M135.8 350.9h0M136.2 330.9h0M136.2 347.9h0M136.6 346.5h0M136.6 333.1h0M136 351.9h0M136.4 331.7h0M136.8 354h0M136.2 334.8h0M137 337.5h0M136.8 338.1h0M136.7 346.3h0M137.1 341.6h0M136.6 345.8h0M137.3 353.9h0M136.7 340.1h0M136.9 339.6h0M136.8 348.5h0M137.6 342.4h0M137 346.6h0M137 353.2h0M137.7 337.5h0M137.9 336.7h0M137.2 332.3h0M137.4 345.2h0M137.3 352.9h0M137.8 345.5h0M137.5 338.4h0M138.1 343.5h0M137.5 348.1h0M138.4 340.8h0M138.1 337.5h0M138.3 347.2h0M138.6 344h0M138.7 333.8h0M138.1 349.8h0M138.6 353.7h0M138.6 339.6h0M138.7 350.6h0M138.4 335h0M138.8 355.2h0M139 334.8h0M138.7 334.3h0M139.3 352.4h0M139.3 347h0M138.8 336h0M139.4 341.7h0M138.8 343.9h0M139.5 344.7h0M139.2 339.3h0M139.3 352.6h0M139.1 350.9h0M139.7 352.1h0M139.3 341.8h0M139.7 348.3h0M139.6 341.4h0M139.5 337.3h0M140.1 352.7h0M140.1 353.7h0M139.7 354.5h0M139.8 341.7h0M139.9 341.9h0M140 336.8h0M140.3 335.2h0M140 354.6h0M140.5 351.6h0M140.6 348.3h0M140.8 337.5h0M140.4 341.6h0M140.9 342.6h0M140.6 354.1h0M140.8 336.3h0M140.8 342.3h0M141.2 348.7h0M140.9 334.3h0M140.6 344.3h0M140.8 348.9h0M141.2 351.9h0M141.3 341.3h0M141 347.5h0M141.4 338.6h0M141.3 342.3h0M141.2 344.7h0M141.9 334.2h0M141.2 340.9h0M141.9 341.5h0M141.8 344.6h0M141.4 342.3h0M142.2 339.8h0M141.8 343.7h0M142.1 350h0M141.7 349.9h0M142.1 330.8h0M142.1 340.5h0M142.3 344.2h0M142.4 343.6h0M142.2 346.6h0M142.6 342h0M142.3 343.2h0M142.4 344.2h0M142.9 340.5h0M142.6 348.4h0M142.9 348h0M143.1 348h0M142.9 344.2h0M143.2 341.9h0M143.3 353.3h0M143.4 332.2h0M143 353.3h0M143.5 343.1h0M143.1 341h0M143.7 345.5h0M143.7 343.3h0M143.3 347.6h0M143.3 349.3h0M144 339h0M143.7 346.3h0M143.4 349.5h0M143.6 352.4h0M143.6 347.7h0M143.9 339.2h0M144.2 342.1h0M143.8 348h0M144 342.7h0M144.6 333.8h0M144.2 343.8h0M144.5 350.5h0M144.3 346.6h0M144.2 331.4h0M144.3 338.1h0M144.6 340.9h0M144.7 337.1h0M144.7 347.9h0M144.5 338h0M145.2 354.5h0M144.6 330.8h0M145.2 337.4h0M145.3 337.4h0M144.8 340.7h0M145.2 349.2h0M145.2 340h0M145.7 335.9h0M145.4 335.8h0M145.3 347.8h0M145.5 340.3h0M145.9 348h0M145.6 346.3h0M146 339.8h0M145.8 337.9h0M145.8 339.4h0M145.5 341.4h0M145.7 347.1h0M145.9 334.2h0M146 352.5h0M146.5 333.5h0M146.2 349.2h0M146.5 342.6h0M146.5 349.9h0M146.8 340.8h0M146.3 338h0M147 346.8h0M146.6 338.8h0M147 348.6h0M146.8 341.5h0M146.7 345.6h0M146.8 330.9h0M146.8 332.9h0M146.9 332.9h0M147.3 331.8h0M147.1 349.3h0M146.9 344.8h0M147.3 335.2h0M147.7 331.3h0M147.5 332.6h0M147.6 351.2h0M147.5 352.5h0M147.4 342h0M147.6 338.1h0M147.6 331.7h0M147.9 331.7h0M147.8 338h0M148.1 336.8h0M147.9 350.6h0M147.7 348.6h0M147.9 341.1h0M148.2 336.7h0M148.3 346.1h0M148.6 328.7h0M148.2 350.3h0M148.9 351h0M148.6 340.6h0M148.8 348.8h0M148.9 351.6h0M148.8 342h0M148.5 352.6h0M149.3 331.4h0M148.9 340.7h0M148.9 339.1h0M149 338.1h0M149.3 340.9h0M149.3 348.8h0M149.2 336.4h0M149.2 353.2h0M149.4 340.3h0M149.8 337.3h0M149.5 339h0M149.6 348.5h0M149.8 351.6h0M149.8 348.5h0M149.6 342.4h0M150 348.8h0M149.9 346.9h0M150.2 332.1h0M150.3 336.2h0M150.4 339h0M150.3 349.3h0M150 351.1h0M150.5 351.7h0M150.7 348.3h0M150.1 339.9h0M150.2 349.3h0M150.4 349.5h0M151 351h0M150.9 342.3h0M151.2 337.6h0M151.1 344.2h0M151.3 341.9h0M151.1 353.4h0M151.3 335.3h0M150.9 349.4h0M151.3 347.5h0M151.5 346.7h0M151.2 337.5h0M151.2 344.2h0M151.1 352.2h0M151.2 341.6h0M151.4 342.4h0M151.7 349.6h0M151.6 339.6h0M152 338.3h0M152.3 337.3h0M152 337.4h0M152.1 350h0M152.1 345.1h0M151.8 346h0M152.1 354h0M151.9 337.7h0M152.2 353.9h0M152.1 339.6h0M152.5 337.5h0M152.8 350.7h0M152.3 340.4h0M153 350.9h0M152.4 351.5h0M152.9 334.9h0M153 344.9h0M152.6 345.4h0M153.1 344.4h0M152.7 353.3h0M152.9 349.8h0M152.8 341.4h0M153.1 336.5h0M153.1 340.1h0M153.8 344.4h0M153.6 348.8h0M153.3 349.6h0M153.8 351.9h0M153.7 335.7h0M153.5 340.4h0M153.9 347.8h0M153.6 350.8h0M153.8 353.1h0M153.6 346.4h0M154.4 343.7h0M154 335.1h0M154.4 337.7h0M153.9 345.6h0M154.6 338.4h0M154.5 340.7h0M154.5 337.9h0M154.9 339.5h0M154.4 346.6h0M154.7 352.8h0M154.4 344.7h0M154.9 339h0M154.9 340.4h0M155.2 333.1h0M154.6 339.4h0M155.4 348.3h0M155.3 348h0M154.9 341h0M155.4 333.5h0M155.5 346.7h0M155.6 333.3h0M155.1 333.7h0M155.4 349.1h0M155.8 349.6h0M155.5 350.1h0M155.9 353.9h0M156.1 338.1h0M156.2 351.3h0M156.1 349.6h0M155.7 341.4h0M155.7 341h0M155.8 346.3h0M156.3 351h0M156.1 334.5h0M156.6 335.9h0M156 333.8h0M156.3 341.5h0M156.3 352.3h0M156.7 342.1h0M156.7 350.1h0M156.7 350.6h0M156.6 339.4h0M156.6 348.3h0M156.8 348.6h0M156.8 336.2h0M157 344.3h0M156.9 347.4h0M157 341h0M157.5 348.9h0M157.3 349.8h0M157 335.8h0M157 352h0M157.3 345.5h0M157.2 346.1h0M158 343.7h0M158.1 338.2h0M157.4 333.2h0M158.2 341.6h0M158 336.2h0M158.2 351.7h0M157.9 354h0M158.1 335.9h0M158.4 332.7h0M157.9 348.7h0M158.3 328.5h0M158.2 351.2h0M158.1 350.5h0M158.4 344.4h0M158.2 331.2h0M158.9 332.8h0M159 333.5h0M158.8 344.9h0M159 344.2h0M159 332.2h0M159.1 328.7h0M158.7 345.4h0M159.4 337h0M159.1 338.9h0M159.6 346.2h0M159.5 332.9h0M159.3 336.7h0M159.2 350.3h0M159.8 350.8h0M159.2 338.9h0M159.6 337.7h0M159.5 343.6h0M159.7 335.3h0M159.8 346.1h0M159.8 337h0M160 339h0M160.3 353.4h0M159.9 346.6h0M160.4 350.3h0M160.5 335.8h0M160.6 346.7h0M160 338.6h0M160.5 345.4h0M160.1 352.9h0M160.8 344.5h0M160.4 348.6h0M160.3 336.7h0M160.5 344.7h0M160.8 330.8h0M160.7 339h0M160.6 347.6h0M161.1 341.5h0M160.7 336.4h0M160.8 341.2h0M160.9 345h0M161.6 350.4h0M160.9 350.1h0M161.7 349.9h0M161.8 337.5h0M161.7 336.6h0M161.9 340.1h0M161.8 333.7h0M161.5 344h0M161.7 354.1h0M161.6 334h0M162.2 340.9h0M162.2 350.5h0M162.1 339.4h0M162.3 339.4h0M161.8 337.4h0M162.5 340h0M162.4 339.1h0M162.2 341.5h0M162.6 337.8h0M162.4 342.8h0M162.9 348.4h0M163 353.7h0M162.4 346.9h0M162.4 337.7h0M162.5 349.5h0M163.2 352.1h0M162.9 336.4h0M163 338.1h0M163.3 344.6h0M163.3 345h0M163.6 348.9h0M163.5 345.3h0M163.7 345.6h0M163.5 343.1h0M163.6 349.2h0M163.4 338h0M164 334.5h0M163.4 337.8h0M163.7 345.6h0M163.6 343.5h0M163.8 349.2h0M164 343.3h0M164.1 351.7h0M164.3 343.9h0M164.3 340.9h0M164 348.9h0M163.9 336.3h0M164.5 343.8h0M164.3 341.1h0M164.8 338h0M164.9 348.2h0M164.6 335.9h0M165 346.9h0M164.8 341.8h0M165.1 341.1h0M164.8 349.1h0M165 338.1h0M165 340.3h0M164.8 345.1h0M164.9 342.7h0M165.3 346.8h0M165.5 335.8h0M165.1 345h0M165.1 337.9h0M165.6 334.8h0M165.6 345.9h0M165.8 342.1h0M165.7 338.6h0M165.7 340.1h0M165.6 339.3h0M165.6 343h0M165.8 347.7h0M166.1 350.1h0M166.2 347.8h0M166.5 351.3h0M166.6 353h0M166.2 345.4h0M166.3 342.3h0M166.5 343.5h0M166.2 341.4h0M166.5 334.2h0M166.4 344.6h0M166.6 342h0M167 350.1h0M166.9 334.3h0M167.2 345.4h0M167.2 351.3h0M166.9 343h0M167.4 338.8h0M167.4 336.2h0M167.2 351.9h0M167.5 345.2h0M167.1 339.8h0M167.6 346.3h0M167.5 333.5h0M167.6 353.6h0M167.2 345h0M167.9 350.5h0M167.5 345.6h0M167.6 341.3h0M167.9 334.7h0M167.5 348.5h0M168.2 346.1h0M168.4 339.7h0M168.2 331.2h0M168.5 342.6h0M168.6 340.8h0M168.2 337.3h0M168.4 333.1h0M168.8 344.2h0M168.8 343.1h0M168.9 341.8h0M168.6 341.5h0M168.4 347.3h0M169.1 331.1h0M168.7 346.4h0M168.5 338.3h0M168.8 351.6h0M168.9 339.9h0M168.9 341.9h0M169.2 340.5h0M169.2 334.1h0M169.5 331.9h0M169.2 339.7h0M169.6 329.4h0M169.4 331.8h0M169.8 332.9h0M169.8 349.6h0M170 352.1h0M170.1 354.2h0M170 328.9h0M169.7 336.3h0M170.3 337h0M169.9 343.9h0M170.4 335.7h0M169.9 348.9h0M169.9 333.1h0M170 332.3h0M170.1 338.5h0M170.6 349.5h0M170.3 336.8h0M170.4 338.7h0M170.2 353.1h0M170.3 343.6h0M170.7 331.3h0M170.4 347.4h0M171.3 349.9h0M171 347.3h0M170.8 346.7h0M171.3 343.5h0M171.3 341.2h0M171.5 344.5h0M171.5 337.1h0M171.3 351.8h0M171.6 336.7h0M171.7 342.2h0M171.2 349.2h0M171.8 334h0M171.6 340.3h0M171.9 333.4h0M171.5 337.8h0M172.2 329.7h0M171.9 339.2h0M171.7 340.8h0M171.8 345h0M172.1 348.9h0M172.5 345.6h0M172 332.1h0M172.2 336h0M172.7 352.1h0M172.1 349.6h0M172.8 347.8h0M172.5 336.2h0M172.3 347.1h0M172.6 343.3h0M172.8 344.6h0M173 335.2h0M173.1 339.1h0M173.3 346.9h0M173.4 343.2h0M173.2 344.9h0M173.5 342.8h0M173.2 349.6h0M173.5 350.8h0M173.3 342.7h0M173.4 351.3h0M173.6 351.6h0M173.6 348.7h0M173.8 349.7h0M173.8 335.8h0M173.8 340.5h0M173.5 354.2h0M173.7 343h0M174 341.2h0M173.8 351.7h0M174.4 349.5h0M173.9 346h0M174.6 343.4h0M174.3 342.1h0M174.7 343.4h0M174.6 334.4h0M174.8 337.7h0M174.4 332.1h0M174.5 335.4h0M174.9 337.9h0M174.5 339.3h0M174.8 348.2h0M174.8 350.7h0M174.6 334.4h0M174.8 347.9h0M175.2 349.5h0M175.2 347.3h0M175.4 342.1h0M175 347.6h0M175 351.5h0M175.7 346.1h0M175.3 352.8h0M175.8 333.6h0M175.8 352.3h0M176 352.4h0M175.5 347.6h0M175.6 332.5h0M175.7 343.1h0M176 339.5h0M176 343.2h0M176.1 349.5h0M175.9 333.6h0M176.6 345.9h0M176.1 333.5h0M176.4 337.8h0M176.2 340.1h0M176.3 342.6h0M176.4 349.6h0M176.4 343.3h0M176.8 343.7h0M176.9 341.9h0M176.7 351.2h0M176.7 351.4h0M177.1 348.4h0M177 348.1h0M177.3 353.3h0M177.5 350.7h0M176.9 349.7h0M177.2 341.9h0M177.2 333.4h0M177.6 347.1h0M177.3 354.2h0M177.6 347.6h0M177.2 351.6h0M177.4 347.3h0M177.9 333.7h0M177.6 353h0M178 339.9h0M177.9 331.1h0M177.7 337.4h0M178.3 340.8h0M178.4 340.2h0M177.9 354.5h0M178.2 352.1h0M178.2 333h0M178.8 347.7h0M178.5 349.1h0M178.3 343.2h0M178.3 337.2h0M178.5 350.5h0M178.5 339.6h0M178.7 348.9h0M178.7 339h0M178.7 344.2h0M179.2 337.3h0M178.9 351.3h0M179.1 338.8h0M179.5 345.6h0M179.5 345.7h0M179.3 349.3h0M179.3 341.8h0M179.3 345.4h0M179.3 337.2h0M179.3 335.6h0M179.9 348.8h0M179.8 331.6h0M180.2 336.1h0M179.7 343.8h0M179.8 349.3h0M180.3 347.6h0M180.5 344.2h0M180 352.7h0M180.3 343.3h0M180.1 337.9h0M180 342.6h0M180.8 351.7h0M180.5 340.2h0M180.4 346.9h0M180.6 352h0M180.6 337.3h0M180.4 342h0M180.8 344.7h0M180.8 333.4h0M180.8 346.7h0M181.3 351.7h0M181.1 349h0M181.5 343.5h0M181.1 333.1h0M181.2 333.6h0M181.4 346.2h0M181.6 353.8h0M181.8 337.3h0M181.3 332.1h0M181.9 349h0M181.3 345.5h0M182 352.4h0M182.1 354.4h0M181.9 354.5h0M181.7 331.7h0M182 341.8h0M181.9 348.3h0M181.9 342.8h0M182 336.9h0M182.3 344h0M182.3 347.7h0M182.7 340.8h0M182.1 331.9h0M182.2 350.5h0M182.6 348h0M182.3 341.1h0M183.1 343h0M182.9 348.8h0M183.2 346.4h0M183.2 352h0M183.1 353.4h0M183.1 345.9h0M183.5 338.5h0M182.9 330.2h0M183.3 343.8h0M183.2 346.8h0M183.6 335.4h0M183.8 340.7h0M183.1 338.6h0M183.7 341.2h0M183.9 343.4h0M183.4 350.3h0M184 343.1h0M184 340.3h0M184 342.4h0M183.9 347.1h0M184.3 343.9h0M183.8 353.3h0M184.4 344.1h0M184.2 345.2h0M184 348.4h0M184.8 350.5h0M184.5 349.2h0M184.3 338.9h0M184.7 354.7h0M184.9 349h0M184.6 346h0M184.8 350h0M185 345.2h0M185.2 352.1h0M184.7 339.3h0M185.2 337.8h0M184.9 334.6h0M185.4 334.4h0M185 352.6h0M185.1 332.5h0M185.4 351.2h0M185.8 352.5h0M185.1 349.5h0M185.3 343.8h0M185.5 334.2h0M185.8 348.2h0M185.8 342h0M186.1 340h0M185.9 343.1h0M186.3 335.2h0M186 335.6h0M186.2 339.2h0M186 342.5h0M186 353.5h0M186 337.7h0M186.5 340.4h0M186.2 332.2h0M186.7 345.9h0M186.8 337.2h0M186.9 349.2h0M186.9 335.5h0M187 349.8h0M187.2 345.3h0M186.6 340.8h0M187.1 341.2h0M186.9 341.3h0M187.4 352.9h0M187.4 334.1h0M186.9 345.1h0M187.3 352.2h0M187 340.9h0M187.1 349.1h0M187.8 340.4h0M187.6 333.2h0M187.3 336.8h0M187.9 338.4h0M187.6 333.9h0M187.9 340.7h0M188 344.5h0M187.6 334.1h0M188.3 343.3h0M187.9 331.4h0M188.2 341.4h0M188.2 339.6h0M188.6 344.4h0M188.3 331.7h0M188.6 340.8h0M188.2 346.4h0M188.6 348.2h0M188.5 337.4h0M189 342.6h0M188.6 351.6h0M188.9 333.2h0M188.6 337.7h0M188.8 333.8h0M189.4 352.8h0M188.7 346.5h0M189.3 341.4h0M189 353.7h0M188.9 351h0M189 334.9h0M189.3 337.3h0M189.5 335.3h0M189.3 351.8h0M189.4 336.7h0M189.5 342.1h0M189.7 352.9h0M189.5 343h0M189.8 345.1h0M190 341.1h0M190.2 337.1h0M190.3 342.6h0M190 346.9h0M190.2 335.5h0M190.4 340.1h0M190.1 341.2h0M190.4 353.1h0M190.8 354.1h0M190.6 340.1h0M190.6 334.5h0M190.3 342.6h0M190.8 333.4h0M191.1 347h0M191.1 351.2h0M190.6 338.2h0M190.9 338.3h0M190.7 351.5h0M191.4 341h0M190.9 333h0M191.5 336h0M191.3 353.8h0M191 342.6h0M191.8 334.1h0M191.3 340.4h0M191.4 342.2h0M191.5 339.6h0M191.4 331.8h0M191.6 335h0M192.2 348.2h0M191.7 345.5h0M191.6 336.9h0M192.1 336.4h0M192.1 351h0M192.3 336.7h0M192 333.9h0M192 344.2h0M192.7 345.4h0M192.8 334h0M192.3 353.1h0M192.6 345.5h0M192.6 340.5h0M193.1 341.4h0M192.9 339.3h0M192.7 352.4h0M192.6 348.5h0M193.2 347.8h0M192.9 344.3h0M193.1 331h0M192.9 343.8h0M193.5 334.5h0M193.6 347h0M193.2 347.2h0M193.4 342.1h0M193.6 336.3h0M193.5 333.9h0M193.4 347.5h0M193.6 335.2h0M193.7 350.8h0M193.9 347.8h0M194 336.6h0M194.2 346h0M194.1 336.4h0M193.7 339.5h0M194 351.7h0M194.1 352.5h0M194.6 336.4h0M194.5 343.6h0M194.5 332.5h0M194.2 332.2h0M194.9 343.5h0M194.6 350.1h0M194.6 337.1h0M194.6 335.6h0M195 344.9h0M194.8 350.7h0M194.6 348.6h0M195.2 349.6h0M194.7 343.6h0M194.9 335.5h0M195.3 348.4h0M195.1 343.5h0M195.6 339.6h0M195.5 333.4h0M195.1 344.4h0M195.8 353.8h0M196 349.9h0M195.3 335.7h0M195.9 351.3h0M195.5 350.2h0M195.5 352.4h0M195.9 336h0M196.3 343.5h0M196.4 336.3h0M196.3 347.6h0M196 351.6h0M196.5 335h0M196.5 347.5h0M196.3 347.4h0M196.2 344.4h0M196.3 349.4h0M196.8 335.7h0M196.8 348h0M196.6 346.8h0M196.5 344h0M197.2 343.8h0M196.7 341.6h0M197.2 351.6h0M197.2 332.2h0M197.3 336.8h0M197.1 354.4h0M197.6 349.5h0M197.2 347.5h0M197.4 354h0M197.4 341.8h0M197.7 350.6h0M197.8 335.8h0M197.7 346.9h0M197.6 334.2h0M198 340.7h0M198 339.3h0M197.9 337.8h0M197.8 353.2h0M198.3 341.6h0M198.1 336.6h0M198.6 354.9h0M198 337.1h0M197.9 347.1h0M198.1 338.1h0M198.2 346.6h0M198.2 344.1h0M198.4 349.3h0M198.3 350.7h0M198.4 347.6h0M199.1 344.2h0M198.6 339.6h0M199.1 336.1h0M198.8 337.1h0M199 340.6h0M199 336.9h0M199.1 348.9h0M199.4 345h0M199 350.9h0M199.5 333.8h0M199.4 335.2h0M199.6 342.7h0M199.6 337.9h0M199.9 349.5h0M200 338.6h0M199.7 344.9h0M199.6 351.2h0M199.8 343.1h0M200.2 335.2h0M200.2 354.8h0M199.9 339.5h0M200.2 335.2h0M199.9 349.8h0M200.6 353.4h0M200.7 353h0M200.6 337.7h0M200.3 341.3h0M200.3 352.3h0M200.7 354.6h0M200.8 338.9h0M200.7 335.1h0M200.8 349.5h0M201.1 346.1h0M201 346.5h0M201.2 342.5h0M201.1 341.5h0M201 349.4h0M201.3 348h0M201.6 344.8h0M201.7 335.2h0M201.8 353.8h0M201.8 353.7h0M201.5 347h0M201.5 340.8h0M201.5 339.2h0M202.1 353h0M202 341.7h0M201.9 334h0M201.9 348.4h0M201.8 335h0M202.2 346.1h0M202.2 334.4h0M202.5 334.8h0M202.4 353.1h0M202.2 337.7h0M202.4 350.4h0M202.2 341.7h0M202.6 332.9h0M202.7 349.1h0M202.6 335.9h0M202.5 347.4h0M202.5 344.8h0M203 350.6h0M202.6 350h0M202.8 337.7h0M203.2 337.5h0M203.3 340.6h0M203.1 343h0M203 338.9h0M203.1 337.3h0M203.3 343.9h0M203.5 347.6h0M203.8 351.6h0M203.7 346.8h0M203.5 352h0M204.1 339.5h0M203.7 334.6h0M204 350.8h0M203.9 351.2h0M204.2 339.5h0M203.8 341.1h0M204 349.5h0M204.1 353.6h0M203.9 348.9h0M204.5 349.9h0M204.6 350.8h0M204.2 339.5h0M204.5 343.9h0M204.5 351.9h0M204.6 336h0M204.5 335.2h0M205 331.6h0M205.2 335.5h0M205.1 352.5h0M205.1 338.6h0M205 333.5h0M204.8 347.8h0M204.9 339.4h0M205.1 340.9h0M205 345.9h0M205 342.1h0M205.6 329.8h0M205.2 343.7h0M205.5 345.9h0M205.6 347.4h0M205.8 351.4h0M205.4 347.9h0M206 347.6h0M205.8 338.2h0M205.8 345h0M206.2 339.3h0M205.7 345.9h0M206.5 344.3h0M206.2 346.7h0M206.7 348.1h0M206.4 339.7h0M206.5 347.7h0M206.5 339.9h0M206.5 343.4h0M206.3 344.8h0M206.9 346.8h0M206.4 342.3h0M207 341.4h0M206.7 352.8h0M206.9 342h0M207.2 346h0M206.9 344.3h0M207.2 349.1h0M207.1 346.4h0M207.3 349.5h0M207.2 345.7h0M207.5 342.1h0M207.3 336h0M207.8 338.1h0M207.4 352.5h0M207.4 335.7h0M207.6 343.1h0M207.9 347.7h0M208.1 351.3h0M207.8 336.2h0M207.8 341.6h0M208.4 350.9h0M207.8 335h0M208.1 351.7h0M208.6 350h0M208.3 353.3h0M208.4 344.2h0M208.7 343.3h0M208.6 351.5h0M208.5 348.7h0M208.7 346h0M209 338.6h0M208.6 345.8h0M209.2 342.9h0M209.3 347.8h0M209.1 354.7h0M209.1 347.9h0M208.9 349.3h0M209.4 335.2h0M209.3 345.5h0M209 339.6h0M209.3 344.3h0M209.4 346.7h0M209.7 348.5h0M209.2 351.3h0M209.3 337.6h0M209.8 352.3h0M209.8 342.2h0M209.7 344.6h0M209.8 344h0M209.6 334.7h0M210 337.7h0M210.4 335.8h0M210.4 344.1h0M210.5 348.8h0M210.4 334.4h0M210.1 339.7h0M210.3 349.3h0M210.8 337.7h0M210.3 334.3h0M210.9 337h0M211.1 343.5h0M210.8 340.2h0M210.7 354.7h0M211 337.2h0M210.8 349h0M211 344.6h0M210.9 349.5h0M210.9 353.7h0M210.9 338h0M211.7 346h0M211.1 339.7h0M211.1 334.4h0M211.5 352.2h0M211.7 339.5h0M211.7 337.3h0M211.6 354.2h0M211.8 336.7h0M212.1 348h0M211.7 346.1h0M212 336.6h0M211.7 332.9h0M211.8 343.1h0M212.3 350h0M212.6 341.4h0M212.1 352.4h0M212.8 350.8h0M212.7 347.3h0M212.7 352.6h0M212.8 332.3h0M212.7 349.5h0M213 340.9h0M212.5 354.3h0M212.6 336h0M213.1 339.1h0M212.7 346.5h0M212.7 339.2h0M213.2 331.5h0M213.2 343.3h0M212.9 341.4h0M213.3 344.9h0M213.6 336.6h0M213.2 334h0M213.8 339.8h0M213.9 355.2h0M213.9 348.8h0M213.4 335.7h0M214.1 341.9h0M214 334h0M213.6 329.7h0M214 334.6h0M214.3 333.4h0M214.4 333.5h0M214.4 336h0M214 333.8h0M214.6 354.3h0M214 332.7h0M214.5 342.2h0M214.7 336.1h0M214.2 350h0M214.5 348.6h0M214.8 351.4h0M215 335.3h0M215.2 335.3h0M214.5 352.5h0M214.6 350.2h0M215.4 340.4h0M215.4 334.8h0M215.1 348.5h0M214.9 337.1h0M214.9 340.1h0M215.1 332.4h0M215 336.7h0M215.2 345.9h0M215.2 352.8h0M215.4 351.5h0M215.7 338.4h0M215.7 348.5h0M215.8 333h0M215.5 332.1h0M215.9 333.6h0M216.4 337.1h0M215.7 339.1h0M216.5 339h0M216.3 343.7h0M216 339.4h0M216.7 337.2h0M216.2 352.3h0M216.3 339.5h0M216.8 336.4h0M216.6 333.8h0M216.7 352.4h0M216.4 338.3h0M217.1 345.2h0M216.5 353.8h0M217.2 342.8h0M217 345.5h0M217.2 348.2h0M217.2 342.8h0M217.3 354.3h0M217 351.1h0M217.5 348.8h0M217 352.1h0M217.1 341.2h0M217.2 348.4h0M217.5 354.9h0M217.9 347.9h0M218 337.5h0M218.1 355.1h0M217.9 351.5h0M218 352.9h0M218 337.9h0M217.7 347h0M217.9 341.8h0M218.5 350.1h0M218.1 338.3h0M218.3 343.7h0M218.1 344.7h0M218.1 335.2h0M218.6 350.1h0M218.7 342.5h0M218.4 347.5h0M218.4 340.9h0M219 344.2h0M218.6 347.6h0M219.2 349.5h0M219.2 343.8h0M219.1 353.5h0M219.5 337.6h0M219.4 349.2h0M219.1 341.7h0M219.3 345.4h0M219 352.2h0M219.2 345.5h0M219.4 353h0M219.9 337.9h0M219.5 353.4h0M220.1 349h0M219.5 350h0M220.1 350.6h0M220.3 342.3h0M220.3 354.6h0M219.9 335.4h0M219.7 349.7h0M220.4 343.7h0M219.8 338.8h0M220.3 348.1h0M220.6 342.1h0M220.5 341.2h0M220.5 345.5h0M220.2 338.4h0M220.4 335h0M220.6 345.8h0M221.2 346.9h0M220.5 333.1h0M220.7 336.4h0M221.2 334.9h0M221.3 353.8h0M221.1 354.9h0M221.3 335.7h0M221.4 346.5h0M221.3 334.7h0M221.3 343.5h0M221.5 340.3h0M221.5 349.4h0M221.9 339.6h0M221.5 336.1h0M222 352.9h0M221.9 345.4h0M222 349.3h0M221.8 353.7h0M222.3 334.9h0M222 338h0M222 341.3h0M222.3 344h0M222.1 334.6h0M221.9 334.5h0M222.5 351.3h0M222.1 350.7h0M222.5 351.4h0M222.6 335.3h0M222.7 333h0M222.3 343.9h0M223.1 352.4h0M222.8 339.5h0M223.2 347.7h0M223.1 346.8h0M223.1 344.4h0M223.2 351.2h0M223.5 348.5h0M223.6 352.6h0M223.5 341.8h0M223 348.2h0M223.2 348.1h0M223.7 353.4h0M223.8 334.7h0M223.5 334.6h0M223.5 344.7h0M223.3 355.2h0M223.4 351.2h0M223.7 354.3h0M223.7 334.3h0M223.6 332h0M224 334.4h0M224 353.8h0M223.9 348.9h0M224.2 352.7h0M224.1 352.1h0M224.5 353h0M224.7 343.7h0M224.8 343.3h0M224.4 333.1h0M224.7 351.3h0M225.1 346.1h0M224.6 343.4h0M224.5 334.4h0M224.9 338.3h0M224.8 342.8h0M225.2 353.5h0M224.9 343.9h0M225.2 332.1h0M225.6 339.8h0M225.1 346.6h0M225.7 345.7h0M225.1 340.7h0M225.3 350.2h0M225.6 339.5h0M225.5 340.1h0M225.7 342.7h0M226.1 343.1h0M225.6 338.3h0M225.6 346.6h0M225.9 354.4h0M226 332.7h0M225.8 340.4h0M226.4 334.5h0M226.1 334h0M226.4 340.1h0M226.7 334.7h0M226.3 345h0M226.7 336.6h0M226.8 346.8h0M226.3 347.1h0M226.8 336.8h0M226.7 348.6h0M226.5 354.4h0M226.7 353.2h0M226.7 351.8h0M226.8 341.3h0M226.9 339.8h0M226.8 351.9h0M227 340.5h0M227.1 349.5h0M227.5 337h0M227.5 334.7h0M227.8 332.2h0M227.4 341.9h0M227.7 333.9h0M228 347.5h0M227.7 341.4h0M228.1 340.3h0M227.6 338.2h0M227.9 348.5h0M228.3 344h0M228.2 353.3h0M228 336.2h0M228 351.6h0M227.9 340.1h0M228.7 339.6h0M228.4 335.1h0M228.9 347.3h0M228.7 344.7h0M228.4 338.8h0M229 344.4h0M228.5 351.6h0M228.9 354.9h0M228.9 351.1h0M228.8 336.7h0M228.7 350.9h0M228.7 345h0M229.2 349.5h0M228.8 336.1h0M229.4 341.2h0M229 334.9h0M229.4 337.9h0M229.6 355.2h0M229.4 335.2h0M229.9 346.4h0M229.8 348.2h0M229.8 331h0M230.1 332.4h0M229.6 350.1h0M229.8 350.7h0M230.2 336.7h0M229.7 347.4h0M230.5 334.2h0M229.8 333.7h0M230.4 345.4h0M230.2 335.1h0M230 334.1h0M230.5 333.8h0M230.9 345.4h0M230.3 344.1h0M230.9 344.4h0M230.5 340.4h0M230.6 347.3h0M231.2 350.8h0M230.7 346h0M231 332.2h0M231 340.5h0M231.1 336.6h0M231 342.3h0M231.1 344.5h0M231 337.2h0M231.3 347.2h0M231.6 334.3h0M231.3 349.1h0M231.9 332.9h0M231.4 351h0M231.5 342.3h0M231.8 347.1h0M231.9 345.3h0M232.2 331.9h0M231.7 348.7h0M232 340.4h0M232.1 350.9h0M232.6 339.1h0M231.9 355.4h0M232.1 342.6h0M232.8 349.1h0M232.1 342.9h0M232.8 330.7h0M232.8 340.7h0M232.8 348.2h0M232.9 334.7h0M233.1 342.6h0M232.5 327.8h0M232.6 332.7h0M232.9 329.9h0M233 344.6h0M233.5 331.4h0M232.9 325.8h0M232.9 330.8h0M233 353.5h0M233 329.5h0M233.8 341.4h0M233.6 350.8h0M233.8 343.2h0M233.3 351.5h0M234 345.6h0M233.5 339.4h0M234 332.3h0M233.6 343.2h0M233.7 351.7h0M234 341.7h0M234 344.6h0M234.2 334.7h0M234.2 353.8h0M234.2 351.2h0M234 342h0M234.1 350h0M234.3 349.9h0M234.9 334.7h0M234.3 338.4h0M234.7 345.5h0M235.1 353h0M234.5 341.3h0M234.9 331.5h0M235.3 347.8h0M234.9 342.6h0M235.4 331.6h0M235.4 344.1h0M235.4 347.9h0M235.2 350.9h0M235.7 328.9h0M235.6 325.7h0M235.3 353.9h0M235.3 328h0M235.6 341.8h0M235.3 342.4h0M235.8 352.2h0M235.7 326.1h0M236.1 326.2h0M236 345h0M235.8 331.1h0M236.1 331h0M236 345h0M236.1 325.6h0M236 339h0M236.2 328.3h0M236.3 350.9h0M236.2 355.4h0M236.2 341.1h0M236.7 324.2h0M236.6 327.5h0M236.5 329.5h0M237 342.9h0M237 342.1h0M237.3 325.6h0M236.8 351.3h0M236.9 342.6h0M236.8 338.4h0M237.5 348.9h0M236.9 339.8h0M237.2 348.1h0M237.6 327.4h0M237.2 331.3h0M237.8 341h0M237.6 323.2h0M237.8 334.4h0M237.6 338.6h0M237.5 335h0M237.9 351.9h0M238 351.4h0M238.4 325.4h0M238.4 326.9h0M237.8 351.1h0M237.9 348.4h0M238.2 328h0M238.7 344.2h0M238.8 349.1h0M238.1 343.9h0M238.8 335h0M238.5 337.2h0M238.4 325.9h0M238.9 350.7h0M238.9 328.4h0M239.2 335.2h0M238.7 330.5h0M238.6 342.9h0M239 330h0M238.8 333.6h0M239.5 340.1h0M239.4 346h0M239.1 335.2h0M239.1 335.7h0M239.4 350h0M239.2 336.8h0M239.6 349.2h0M239.4 342.5h0M240.1 332.6h0M239.6 348.2h0M240.2 348.9h0M239.6 331.2h0M239.9 350.5h0M240.3 332.7h0M240 349.4h0M239.8 349h0M240.2 337.6h0M240.4 331.2h0M240.3 346.5h0M240.4 330.3h0M240.7 350.6h0M240.4 351.3h0M240.6 343.8h0M240.4 350.8h0M240.9 336.7h0M240.7 334.9h0M240.5 348.2h0M241.3 343.3h0M241.3 333.4h0M241.3 333.7h0M241.5 334.4h0M241.3 335.2h0M241.6 337.8h0M241.1 337.9h0M241.1 340.8h0M241.6 344.7h0M241.3 330.4h0M241.4 328.8h0M241.7 350.5h0M241.4 329.7h0M242.2 350.6h0M241.5 348.3h0M241.9 343.8h0M241.6 342.7h0M242 340.5h0M242.4 332.7h0M242.1 343.1h0M242.3 346.2h0M242.4 349.3h0M242.2 339h0M242.1 343.3h0M242.5 341.8h0M242.6 328.2h0M242.4 337.8h0M242.5 344.3h0M242.9 344.9h0M243.1 345.3h0M243 343.1h0M243.1 343.1h0M243.4 337.1h0M242.8 345.1h0M243.4 342.3h0M243.4 346.9h0M243.4 333.1h0M243.2 328.1h0M243.4 339.7h0M243.8 350.1h0M243.8 339.1h0M243.7 348.4h0M243.5 329.8h0M243.6 346.2h0M244.1 339.9h0M243.8 339.1h0M244.2 344.9h0M243.9 341.3h0M244.2 350.9h0M244.1 348.2h0M244.6 327.9h0M244.7 338h0M244.1 334.3h0M244.8 343.1h0M244.6 328.4h0M244.3 335.8h0M244.7 325.9h0M244.7 337.9h0M244.6 345.8h0M245.1 343.3h0M245 348.9h0M244.7 326.5h0M245.4 336.5h0M245 326.9h0M245.6 341.2h0M245.6 347.7h0M245.3 349.7h0M245.1 343.6h0M245.8 325.8h0M245.1 327.2h0M245.8 324.2h0M245.8 339.7h0M245.5 324h0M245.6 340.7h0M246.1 347.5h0M245.9 345.8h0M246 340.9h0M245.8 323h0M246 324.5h0M245.9 331.1h0M245.9 348.6h0M246.1 340.2h0M246.6 343.4h0M246.2 337.6h0M246.5 345.9h0M246.7 348.4h0M246.7 326.5h0M247 334.9h0M246.4 343.5h0M247.1 331.5h0M246.7 329.3h0M247.3 333.6h0M247.4 335.7h0M246.7 346.5h0M247.1 325.1h0M247.2 321.3h0M247.2 332.2h0M247.7 329.4h0M247.3 331.8h0M247.8 348.3h0M247.6 344.2h0M248 336h0M247.6 345.1h0M248.1 338h0M247.9 334.4h0M247.8 336.2h0M247.8 334h0M248.1 347.4h0M248.5 332.7h0M248 339.9h0M248.1 345.5h0M248.2 331.9h0M248.5 332.6h0M248.8 340.6h0M248.3 328.2h0M248.8 342.1h0M248.6 331.9h0M248.3 332.8h0M248.8 338.3h0M248.4 334.7h0M248.9 326.3h0M249.2 335.5h0M248.8 339.9h0M248.9 329.4h0M248.8 345.3h0M249.5 334.7h0M249 342.8h0M249.7 332.6h0M249.1 333h0M249.2 345.3h0M249.5 337.2h0M249.7 324.3h0M249.9 335.4h0M249.7 328.6h0M249.8 328.7h0M249.7 322.9h0M250.1 338h0M249.8 349.5h0M250.4 340.4h0M250 348.1h0M250.4 334.3h0M250 342.3h0M250.1 336.8h0M250.7 334.3h0M250.7 330.8h0M250.9 339.7h0M250.8 345.8h0M250.8 349.7h0M250.7 342.4h0M250.5 345.3h0M250.9 329.2h0M250.8 332.4h0M251.2 328.3h0M250.7 328h0M251 327.5h0M251 348.1h0M251.6 345.7h0M251.4 327.8h0M251.1 337h0M251.8 330.5h0M251.1 344.5h0M251.7 335.4h0M252 328.6h0M251.3 333.8h0M252 328.5h0M251.9 326.4h0M251.7 340.1h0M252 346.4h0M252.3 332.3h0M252 348.7h0M252.3 347.3h0M251.9 346.8h0M252 346.6h0M252.1 323.9h0M252.2 336.7h0M252.3 334h0M252.9 340.8h0M253 327.4h0M252.8 326h0M252.7 326.4h0M252.5 348.3h0M253 337.9h0M253.3 350.2h0M253.4 338h0M253.4 333.4h0M253.5 330.6h0M253.4 336h0M253.6 342.4h0M253 338.6h0M253.4 342h0M253.6 349.4h0M253.6 346.3h0M253.9 346.4h0M253.7 332.1h0M253.4 335.8h0M253.8 335.4h0M254.3 335.4h0M253.8 328.9h0M253.8 343.8h0M254.1 342.8h0M254.5 333.8h0M254.4 341.1h0M254.6 331.4h0M254.1 327.9h0M254.2 325.5h0M254.6 349.8h0M254.9 342.8h0M254.7 333h0M254.4 328h0M255.1 343.6h0M255 332.5h0M254.8 335.5h0M255.2 327.3h0M255.3 342.1h0M255.1 332.3h0M254.9 347.7h0M255.4 347.4h0M255.2 346h0M255.3 325.6h0M255.7 329.3h0M255.7 348h0M255.3 336.3h0M255.5 328.8h0M255.3 345.6h0M255.9 341.5h0M255.8 335.8h0M255.9 324.7h0M256.3 334.2h0M256.3 332.7h0M255.8 330.8h0M256.3 328.7h0M256.3 341.1h0M256.4 349.7h0M256.1 325.3h0M256.2 338.2h0M256.7 334.9h0M256.2 326.3h0M256.5 333.8h0M256.5 330.8h0M256.5 344.5h0M257 327.5h0M256.6 346.9h0M256.6 338.4h0M257.4 336.1h0M257.5 324h0M257 349.6h0M257.2 325.9h0M257.3 336.6h0M257.6 327.1h0M257.3 344.2h0M257.8 339.7h0M257.2 330.8h0M257.8 329.3h0M257.4 335.4h0M257.6 330.5h0M257.5 332.5h0M257.7 328.7h0M258.3 339.8h0M257.9 339.3h0M258 345.3h0M258.5 348.4h0M258.1 323.4h0M258.6 346.4h0M258.4 342h0M258.6 337.2h0M258.7 346.6h0M258.6 328.9h0M258.4 332.6h0M258.8 324.1h0M258.9 324.5h0M259.2 342.5h0M258.6 326.1h0M259.2 324.8h0M259.4 327h0M258.8 338.2h0M259 343.7h0M259.2 328.2h0M259.5 324.4h0M259.6 333.7h0M259.1 336.5h0M259.7 348.9h0M259.9 327.9h0M259.4 339.4h0M259.5 330.1h0M259.9 322.1h0M259.4 340.6h0M260 337.8h0M260.1 334.1h0M259.7 341.1h0M260.2 326.7h0M260.4 326.4h0M260.1 341.9h0M260.6 341.8h0M260.4 349.3h0M260.7 334.6h0M260.3 321.4h0M260.8 334.7h0M260.3 320.8h0M260.7 332.1h0M260.6 323.4h0M261 333.8h0M260.7 345.2h0M260.9 336.9h0M261 340.1h0M261.1 327.4h0M261.4 330.5h0M261.3 338.5h0M261.3 327.9h0M261.7 338.8h0M261.3 328.3h0M261.4 332.4h0M261.2 339.4h0M261.8 332.1h0M262 346.2h0M261.4 341.6h0M262.1 345.2h0M262.2 333.9h0M261.5 340.2h0M262.2 331.9h0M261.7 345.1h0M262 328.8h0M262.4 344.4h0M262.1 345.4h0M262 330.5h0M262.2 334.8h0M262.5 342.2h0M262.4 336.1h0M262.7 338.9h0M263 338.6h0M262.9 343.8h0M262.4 347.6h0M263.2 328.4h0M263.1 335.2h0M263.2 342.5h0M263 330.5h0M262.8 338h0M263.2 349.5h0M263.1 345.3h0M263.6 325h0M263.1 331.9h0M263.2 332.9h0M263.6 337.4h0M263.7 344.6h0M263.3 347.3h0M263.6 345.1h0M263.6 329.8h0M263.5 324.4h0M264.1 330.9h0M263.8 336.2h0M263.6 332.4h0M264.3 337.8h0M264.1 343.3h0M264.4 321.6h0M264 345.8h0M264 338.2h0M264.3 346.3h0M264.1 325h0M264.3 339h0M264.8 326.1h0M264.6 346.5h0M264.6 339.1h0M264.5 337.9h0M265 336.4h0M264.7 328.1h0M264.6 323.7h0M265.2 341.7h0M265.3 334.9h0M265.1 333.4h0M265.6 344.8h0M265.5 343.9h0M265.8 342.4h0M265.3 343.6h0M265.4 332.6h0M265.3 345.6h0M266 337.7h0M265.5 346.7h0M265.7 328.4h0M266.2 334.7h0M266 336.4h0M266.3 347.8h0M265.7 335.9h0M266 345.7h0M266.4 345.7h0M266.3 324.4h0M266 344h0M266.8 344.7h0M266.7 347.4h0M266.7 342.5h0M266.8 336.3h0M266.3 325.4h0M266.8 324.8h0M267.2 342h0M266.5 322.9h0M266.6 328.6h0M266.9 332.2h0M267.3 344.3h0M267.5 346.1h0M267.4 323.1h0M266.9 334.3h0M267.6 319.6h0M267.4 336.5h0M267.2 337.2h0M267.5 340.3h0M267.7 331.3h0M268 341.1h0M267.8 341.1h0M267.8 339.7h0M267.8 329.5h0M267.5 327h0M267.8 324h0M268.1 321.7h0M268.4 344.8h0M268 321.6h0M268.2 320h0M267.9 331.2h0M268.4 332.5h0M268.5 330.5h0M268.6 342.4h0M268.5 337.2h0M268.6 347.6h0M268.8 326.9h0M268.9 336h0M268.7 326.2h0M269.2 334.2h0M269.2 337.8h0M269.3 343.5h0M269.3 327.6h0M269.5 326.5h0M269 331.6h0M269.1 339.8h0M269 338.1h0M269.5 330.5h0M269.9 345.8h0M269.8 322.6h0M270 318.8h0M269.4 325.8h0M269.9 334.9h0M269.8 344.9h0M269.7 339.1h0M269.7 337h0M269.9 319h0M270.3 347.9h0M270 328.5h0M270.2 333.9h0M270.1 331.3h0M270.3 327.2h0M270.1 337.5h0M270.8 329.8h0M270.4 322.3h0M270.3 338.1h0M270.9 318.4h0M271 334.5h0M270.4 345h0M271 335h0M270.6 345.3h0M271.1 342.3h0M271.4 327h0M271.2 347.4h0M271.1 331.8h0M271.6 330.9h0M271.4 346.1h0M271.1 344.6h0M271.2 347.8h0M271.9 337.1h0M271.3 320.6h0M271.8 349.5h0M271.9 319.3h0M271.5 343.2h0M271.6 342.1h0M272.1 335.9h0M271.8 319.7h0M272 334.8h0M272.5 321.5h0M272.5 324.3h0M272.6 327.5h0M272.6 330.6h0M272.5 332.4h0M272.5 325.7h0M272.2 329.6h0M272.8 338.1h0M272.4 340.4h0M273 324h0M272.5 322.7h0M273.1 322.5h0M272.7 328.5h0M272.8 341h0M273 326.5h0M273.5 331h0M273.5 324.8h0M273 332h0M273.5 322.8h0M273.3 345.7h0M273.8 339h0M273.6 325.7h0M273.7 343.7h0M273.7 343.4h0M274 341.8h0M273.4 325.7h0M274.1 346h0M274.3 326.1h0M274 346.9h0M274.2 329.4h0M274.4 321.2h0M274.1 332.2h0M273.9 334.1h0M274.2 330.7h0M274 336.3h0M274.4 319h0M274.9 321.5h0M274.9 333.9h0M275 324.3h0M274.6 338.3h0M274.5 346h0M275 331.9h0M274.9 346h0M275.4 318h0M275.3 332.8h0M274.8 333h0M275.3 345.8h0M274.9 325.6h0M275.5 333.2h0M275.7 337.8h0M275.6 321.5h0M275.3 347h0M275.3 338.3h0M275.3 316.9h0M275.3 328.4h0M275.5 325.4h0M275.7 342.6h0M276 339.2h0M275.9 346.5h0M276 337.3h0M275.8 346h0M276.4 330.2h0M276.5 334.3h0M276.1 341.1h0M276.3 325.5h0M276.2 330.7h0M276.4 341.9h0M276.5 340.1h0M276.5 327.2h0M276.6 325.6h0M276.6 330.6h0M277 329.4h0M276.8 330.9h0M277.3 337.3h0M277.2 321.8h0M277.2 334.2h0M277.1 331.7h0M277.4 315.4h0M277.2 317.8h0M277 335.7h0M277.1 335h0M277.3 344.3h0M277.3 337.6h0M277.4 323.2h0M277.5 333.2h0M277.7 330.3h0M277.9 344.3h0M277.7 320.1h0M277.9 336.1h0M277.7 322.4h0M277.9 338.5h0M278.2 342.4h0M278.1 318.2h0M278.4 324.6h0M278.2 337.8h0M278.6 343.3h0M278.8 341.7h0M278.4 325.9h0M278.7 324.8h0M278.9 341.8h0M279.1 341.7h0M278.5 340h0M279.1 339.8h0M279.3 321h0M279.3 337.2h0M279 333.3h0M279.3 338.4h0M278.9 313.8h0M279.6 343.6h0M279.1 325.4h0M279.3 323.8h0M279.1 333.2h0M279.2 326.4h0M279.2 338.5h0M279.8 337.8h0M280 321.3h0M279.5 336.8h0M279.8 314.4h0M280.2 324.8h0M280.1 327.4h0M280 319.6h0M280.2 343.3h0M280.3 322.1h0M279.9 318.4h0M280.4 328.5h0M280.5 316h0M280.4 312h0M280.9 332.8h0M280.4 324.8h0M281 341.1h0M281.1 328.8h0M280.4 320.8h0M280.8 330.4h0M281.2 340.7h0M281.2 321.6h0M281.3 322.6h0M281.2 331.4h0M280.8 314.4h0M280.9 341.9h0M281.2 339.7h0M281.6 314.6h0M281.3 319.9h0M281.2 331.8h0M281.3 325.9h0M282 311.1h0M281.4 337.8h0M281.5 336.2h0M282.2 315.4h0M281.8 317.9h0M282.2 338.1h0M282.2 314.4h0M281.7 343.8h0M281.9 327.7h0M282.6 339.2h0M282.3 342.6h0M282.6 335.7h0M282.7 332h0M282.7 314.9h0M282.8 319.6h0M282.9 320h0M282.8 315.1h0M282.8 333.1h0M282.6 328.7h0M283.3 328.7h0M283 325.1h0M282.8 334.5h0M283.4 331h0M283.5 324.9h0M283 322h0M283.5 320.1h0M283.7 340h0M283.2 330.1h0M283.5 336.4h0M283.9 338.7h0M283.7 339h0M283.3 343.2h0M283.6 329.7h0M283.6 342.9h0M283.7 316.2h0M284.2 343.6h0M284.4 320.8h0M284.5 338.3h0M283.8 329.5h0M284.2 327.9h0M284.1 330.8h0M284.3 316.8h0M284 341.9h0M284.4 334.6h0M284.2 343h0M284.4 344.4h0M284.9 328.2h0M284.6 340.6h0M284.5 335h0M284.9 330.5h0M284.8 329.4h0M284.8 339.2h0M285.4 323.2h0M285.5 328.6h0M284.9 322.9h0M284.9 324h0M285.6 332.6h0M285 332.6h0M285.6 335.3h0M285.8 324.6h0M285.8 325.5h0M285.8 332.3h0M285.8 327.8h0M285.7 323.9h0M285.7 325.2h0M285.7 330.9h0M286 340.1h0M286.2 320.3h0M286.3 328.7h0M286.4 335.9h0M286.5 323.5h0M286.6 332.2h0M286.3 317.8h0M286.7 337.9h0M286.9 344.2h0M286.3 341.9h0M286.7 344.1h0M287.1 336.3h0M286.4 332.7h0M286.9 317h0M286.6 328.7h0M286.9 333.5h0M287.1 323.3h0M286.8 341h0M287.1 335.2h0M286.9 337.8h0M287 334.1h0M287.1 325.7h0M287.6 339.9h0M287.9 335.1h0M287.4 335.4h0M287.3 318.5h0M287.4 323h0M287.8 320.2h0M288.2 321.7h0M288.1 333.3h0M287.7 339.6h0M287.9 342.6h0M288 328.7h0M288.5 344.1h0M288.6 321.8h0M288.1 342.3h0M288.5 341.6h0M288.8 317.7h0M288.4 337.8h0M288.3 338.4h0M288.8 317.1h0M288.8 342.2h0M289 339.9h0M288.8 328.6h0M288.6 324.2h0M289.4 335.1h0M288.8 320.8h0M288.9 323.1h0M289.3 344.5h0M289 321.1h0M289.6 318.5h0M289.4 342.4h0M289.2 328.1h0M289.2 327h0M289.3 340.3h0M290 315.5h0M289.6 329.9h0M289.8 314.8h0M289.6 330.1h0M290 331.3h0M290.2 336.1h0M290 331.5h0M290.4 328h0M290.5 339.2h0M290.2 341.6h0M290.4 339.3h0M290.7 337.6h0M290.3 328.2h0M290.6 344.6h0M290.6 337.1h0M290.5 328.5h0M291.1 343.6h0M290.8 325.4h0M290.6 316.9h0M291 337.5h0M290.6 341.8h0M290.7 327.2h0M291.1 327.7h0M290.9 314.3h0M291 316.3h0M291.3 336.6h0M291.2 341.1h0M291.4 322.3h0M291.6 322.3h0M291.4 317.2h0M291.3 325.5h0M291.6 334h0M291.9 323h0M291.9 343.3h0M291.6 327.6h0M292 322.3h0M292.1 317.7h0M292.2 318.4h0M292.5 337.9h0M292.2 337h0M292.6 329.5h0M292 343.4h0M292.8 328.4h0M292.4 324.7h0M292.7 324.1h0M292.2 342.9h0M292.4 322.4h0M293 324.7h0M293.1 342.2h0M293.1 320.7h0M292.9 335.7h0M293.3 332.7h0M293.3 326.7h0M293.3 311.7h0M292.9 343.1h0M293.3 344h0M293.7 326.2h0M293.3 329.2h0M293.4 336.2h0M293.6 330.5h0M293.8 334.9h0M293.6 344.2h0M294.1 325h0M293.7 315.3h0M293.8 333.5h0M294.1 344.7h0M294.2 335.4h0M294.3 313.7h0M294.5 325h0M294.1 332.6h0M294.5 330h0M294.2 317.7h0M294.2 335.1h0M294.7 323.2h0M294.7 334.2h0M294.9 323.9h0M294.7 340.5h0M294.8 331.2h0M295 329.9h0M294.5 322.7h0M294.5 319.9h0M295.1 322.2h0M295.4 325.5h0M295.1 321.6h0M295.2 318.5h0M295.2 319.9h0M295 335.6h0M295.4 324.3h0M295.1 332.5h0M295.8 337.4h0M295.2 338.6h0M295.5 331.5h0M295.8 340.1h0M295.6 332h0M295.9 337.5h0M295.8 323.7h0M295.8 327h0M296.2 321.5h0M296.2 322.9h0M295.9 332.5h0M296 323.3h0M296.7 317.2h0M296.4 333.4h0M296.2 339.8h0M296.8 329.5h0M296.5 329.2h0M296.3 326.2h0M296.9 325.9h0M296.7 325.3h0M296.5 338.7h0M296.8 330.7h0M297.3 340.1h0M297 324.7h0M296.8 340.4h0M297 326.7h0M297.5 320h0M297.5 317.2h0M297.3 319.4h0M297.3 326.7h0M297.4 321.4h0M297.8 321.2h0M297.6 341.3h0M298 338.8h0M297.6 336.6h0M297.6 321.1h0M297.9 328.6h0M298 344.8h0M298.2 321.7h0M297.9 319h0M298.4 342.3h0M298.5 317.7h0M298.2 332.9h0M298.7 328.4h0M298.3 323.3h0M298.2 317h0M298.5 331.5h0M298.5 323.2h0M298.7 340.1h0M298.9 321.7h0M298.8 341.4h0M299.1 341.3h0M298.8 332.9h0M299.4 329.4h0M299.4 341.7h0M299.5 330.6h0M299.2 337.5h0M299 318.5h0M299.3 334.2h0M299.1 319h0M299.4 319.5h0M299.3 331h0M300 322.7h0M299.3 327.3h0M299.4 341.6h0M300.1 341.7h0M299.9 331.5h0M300 342.8h0M299.7 334.1h0M300.4 336.9h0M300.1 341.3h0M300.5 326.2h0M299.9 320.6h0M300.4 335.5h0M300.6 343.4h0M300.5 331.5h0M300.5 344.4h0M300.8 334.6h0M300.7 331h0M300.7 343.9h0M300.6 341.1h0M301.1 322.3h0M301.3 321.7h0M300.8 342.3h0M300.7 328.3h0M300.8 331.2h0M300.9 343.9h0M301.4 333.5h0M301.5 317h0M301.4 333.2h0M301.6 335.8h0M301.3 341.6h0M301.9 334.2h0M301.9 326.2h0M301.4 336.7h0M301.5 330.3h0M301.7 328.7h0M302.2 320.4h0M302.2 336.7h0M302.2 321.4h0M301.9 332.4h0M302.4 343.2h0M302.3 323.7h0M302.6 317.8h0M302.6 320.4h0M302.2 316.3h0M302.8 320.7h0M302.4 339.6h0M303 318.3h0M303 341.8h0M302.9 333.2h0M302.6 339.4h0M302.6 339.6h0M303.2 338h0M303.3 326h0M302.8 320.6h0M303.1 342.3h0M303.2 317.9h0M303.1 319.6h0M303.6 339.8h0M303.6 337.2h0M303.2 324.9h0M303.5 343.3h0M303.4 320.2h0M303.5 325.6h0M303.9 328.2h0M303.6 317.6h0M304.1 335h0M303.7 322.9h0M304.1 327.5h0M303.9 338.7h0M303.9 343.6h0M304.1 326.6h0M304.4 318.9h0M304.4 315.6h0M304.6 316.1h0M304.7 344.4h0M304.6 328.9h0M304.8 337.3h0M304.8 332.3h0M304.6 325.6h0M305.1 327.8h0M304.9 333.7h0M304.9 338.9h0M305.3 326.6h0M305.3 319.3h0M305.5 318.4h0M305 322.9h0M305.3 332.6h0M305.3 319.3h0M305 333.7h0M305.5 338.9h0M305.2 317.5h0M305.6 333.1h0M305.4 323.1h0M305.8 329h0M306.2 336.8h0M305.9 325.5h0M306 324.9h0M306.4 343.2h0M305.8 324.5h0M306.1 332.3h0M305.9 320h0M306.4 327.3h0M306.2 318.6h0M306.1 324.4h0M306.6 337.4h0M306.2 319.6h0M307 335.8h0M306.8 341.4h0M307.1 333.6h0M306.8 339h0M306.7 339.8h0M307.2 340.4h0M307.2 340.3h0M306.8 337.4h0M307.3 340.8h0M307.1 327.4h0M307.2 321.1h0M307.5 324.8h0M307.6 342.2h0M307.3 324.3h0M307.4 323.7h0M307.4 329.9h0M308 318.7h0M307.6 325.7h0M307.6 343.5h0M307.8 340h0M308.1 335.7h0M307.9 336.6h0M307.9 338.5h0M307.9 324h0M308.3 327.7h0M308.1 335.3h0M308 328.3h0M308.6 326.2h0M308.8 341.7h0M308.2 320.1h0M308.3 321.6h0M308.8 338.1h0M308.6 324.5h0M308.9 331.6h0M308.9 330.7h0M309.3 341.8h0M309.3 328.3h0M309 314.7h0M308.8 343.6h0M309 323.7h0M309 336.7h0M309.1 326.2h0M309.1 331h0M309.3 321.5h0M309.6 333.1h0M309.4 329.4h0M309.3 342.7h0M309.5 334.5h0M309.8 328.9h0M309.6 326.1h0M309.7 341.3h0M309.7 324.3h0M310.2 317.6h0M309.8 331.6h0M310.1 338.4h0M310.6 321.2h0M310.3 329.4h0M310.1 339.9h0M310.6 321.2h0M310.5 321.5h0M310.9 343.2h0M310.7 319.3h0M310.6 321h0M310.8 327.9h0M311.2 329.5h0M310.5 342.1h0M311.3 331.9h0M311 318.9h0M311 317h0M311 336.4h0M311.5 340.5h0M311 336.4h0M311.6 336.4h0M311.7 332.6h0M311.5 319.8h0M311.6 333.8h0M311.3 329.4h0M311.9 323h0M312 334h0M312.1 330.8h0M311.9 320.3h0M312.2 317.5h0M312.3 340.9h0M312.2 339.1h0M312.1 333h0M312.5 334.6h0M312.2 341.8h0M312.6 338.9h0M312.7 330.6h0M312.3 318.6h0M312.9 314.4h0M312.6 325.6h0M312.4 338.6h0M313 329.5h0M312.7 319.1h0M312.8 335.5h0M312.7 315.4h0M313 340.6h0M313.2 319.4h0M313.2 331.3h0M313.1 318.3h0M313.3 342.1h0M313.4 342.3h0M313.5 331.2h0M313.7 315.9h0M313.9 340.6h0M313.6 341h0M313.3 322.3h0M313.4 324.6h0M313.8 325.5h0M313.7 341.3h0M314.2 335.2h0M313.9 330.7h0M314.5 323.8h0M314 335.4h0M314.4 320.3h0M313.9 317.8h0M314.4 339.5h0M314.2 331.6h0M314.8 315.5h0M314.6 315.9h0M314.7 322.6h0M314.6 323h0M314.5 316.8h0M314.6 326.7h0M314.6 333.9h0M315.1 319.3h0M315.4 340.7h0M315.1 337.7h0M315.5 318.9h0M315.5 337.3h0M315.3 314.6h0M315.1 330.3h0M315.8 327.9h0M315.5 343.8h0M315.8 336h0M316 322.9h0M316 321.3h0M316 320.3h0M315.5 343.6h0M315.5 323h0M316.3 325.1h0M315.7 319.9h0M316 315h0M316 319.7h0M316.1 344.5h0M316.6 330.1h0M316.2 314.1h0M316.1 329.1h0M316.8 334.7h0M316.4 317.9h0M316.4 332.1h0M316.7 322.8h0M316.5 341.4h0M317 322.2h0M317 332.1h0M316.9 321.3h0M316.7 344h0M317.3 331.5h0M316.8 332.1h0M316.9 330h0M316.9 334.5h0M317.6 326.8h0M317.2 339.9h0M317.4 332.1h0M317.5 323.5h0M317.6 334.4h0M318 333.6h0M317.8 333.3h0M317.7 343.5h0M317.9 322.4h0M317.9 332h0M318.2 332.4h0M318.3 319h0M318 319.5h0M318.2 324.6h0M317.9 340.6h0M318.7 321.5h0M318.2 336.9h0M318 331h0M318.8 323.9h0M318.4 322.3h0M318.3 330.7h0M318.4 324.9h0M318.5 330.6h0M318.8 344.9h0M319.2 327h0M319 332.5h0M319.1 344.2h0M319.5 344.1h0M319.5 332.5h0M319.5 339.9h0M319.3 338.4h0M319.7 336.1h0M319.3 331.3h0M319.2 343.2h0M319.9 338.6h0M319.3 333.4h0M319.9 326.8h0M320 333.3h0M319.5 335.6h0M319.7 330.7h0M319.7 339.1h0M320 326.4h0M319.9 319h0M319.9 319.9h0M320.1 315.2h0M319.9 315.5h0M320.6 318.7h0M320.4 322.1h0M320.4 318.1h0M320.5 339h0M320.8 325h0M320.7 336.4h0M320.6 321.6h0M320.9 339.9h0M321.3 344.3h0M320.9 328h0M320.8 330.1h0M321.1 341.4h0M321.3 344.9h0M321.5 340.1h0M321 336.5h0M321 329.5h0M321.6 335.8h0M321.1 328.1h0M321.3 319.4h0M321.5 319.6h0M321.6 328.5h0M322 340h0M322.1 338.6h0M321.6 329h0M322.1 328.2h0M321.6 323.9h0M321.7 331.8h0M322.5 328.6h0M322.3 320.1h0M322 343.4h0M322.3 331.8h0M322.2 341.4h0M322.4 334.7h0M322.4 319.9h0M322.4 340.6h0M322.7 321.9h0M322.5 323h0M323 322.6h0M322.9 335.3h0M322.8 345h0M322.7 325.9h0M323.2 320.9h0M322.9 324.8h0M323 336.5h0M323 333.7h0M323.4 336.6h0M323.3 319.6h0M323.5 314.9h0M323.2 335.8h0M323.5 327h0M324 331.5h0M323.8 325.3h0M324.1 333.9h0M323.9 325.2h0M323.9 325.1h0M323.6 339.5h0M324 332.1h0M323.9 324.7h0M323.8 321.9h0M323.9 320.8h0M324.6 338.6h0M324.2 320.2h0M324.8 341.7h0M324.2 331.9h0M324.8 330.6h0M324.3 338.7h0M324.6 337.5h0M324.5 339h0M324.5 332.4h0M325.1 325.8h0M325 336.8h0M325.2 337h0M325.2 338.8h0M324.8 343.7h0M324.9 338.4h0M325.7 333.2h0M325.2 318.1h0M325.2 339.4h0M325.2 316.8h0M325.4 312.6h0M325.5 342.8h0M325.8 338.3h0M325.5 340.2h0M325.8 317.2h0M325.6 316.6h0M326.2 326.8h0M326.1 327.5h0M325.8 333h0M326 344.5h0M326.2 315h0M326.1 328h0M326.4 339.5h0M326.6 314.9h0M326.3 322.4h0M326.4 325.1h0M326.9 313.1h0M326.3 316.4h0M327.1 337.3h0M327.2 342.3h0M326.6 314.9h0M327.2 338.3h0M327.4 327.6h0M327.1 333.1h0M327.4 336.1h0M327.5 336.4h0M327.4 314h0M327.4 327.9h0M327.7 334.2h0M327.1 338h0M327.6 320.6h0M327.4 318.7h0M328 323.7h0M327.4 336.8h0M327.8 344.3h0M328.2 339.9h0M328.2 338.4h0M328.4 337.8h0M328.1 339.6h0M328.3 344.6h0M327.9 336.1h0M327.9 340.3h0M328 340.8h0M328.4 334.5h0M328.5 327h0M328.6 325.1h0M329 330.8h0M328.7 339.7h0M328.5 321.5h0M328.9 333.7h0M329.2 342.4h0M329.2 337h0M329 331.6h0M329 332.7h0M328.9 320.8h0M329.2 332.8h0M329 337.2h0M329.1 337.8h0M329.7 323.6h0M329.5 319.9h0M329.2 334.2h0M329.2 316.3h0M329.6 327.3h0M329.9 332.4h0M329.6 320.7h0M329.8 319.6h0M329.6 339h0M330.2 342.7h0M330 339.2h0M330.4 327h0M330.3 324.5h0M329.9 319.4h0M330.2 334h0M330.5 337.5h0M330.5 320.5h0M330.5 325.2h0M330.3 320.4h0M330.4 330.4h0M331 334.7h0M330.5 340.8h0M330.9 326h0M330.7 341.3h0M330.6 314.5h0M331.2 330.4h0M331.4 332.4h0M331.5 333.4h0M331.4 323.2h0M331.5 344.6h0M331.7 325.6h0M331.8 344.5h0M331.3 332.3h0M331.9 321.1h0M331.5 319.6h0M331.9 320.8h0M331.5 342.6h0M332.2 324.7h0M332.1 342.6h0M332 341h0M332.1 343.6h0M331.9 342.5h0M332 318.8h0M332.4 344.4h0M332.6 327.2h0M332.2 329.8h0M332.5 327.9h0M332.4 324.6h0M332.5 343.6h0M332.3 321.5h0M332.9 322.5h0M333.1 336.9h0M332.6 335.9h0M333.2 334.8h0M333 339.1h0M333.2 334.7h0M333.1 317.9h0M332.8 341.1h0M332.9 333.1h0M333.3 332.7h0M333.4 342h0M333.1 331.9h0M333.6 320.2h0M333.7 335h0M333.6 326.5h0M333.8 316.7h0M333.8 340.5h0M333.5 337.8h0M333.6 338.1h0M333.7 328.5h0M334.3 328.2h0M334.2 329.3h0M334.2 321.6h0M334.2 321h0M334.6 329.4h0M334.6 327.5h0M334.8 316.5h0M334.3 337.3h0M334.3 318.3h0M334.5 321.6h0M334.5 326.7h0M334.9 339.7h0M335.1 338h0M335.2 334.3h0M335.1 328.9h0M335.1 332.2h0M335 321.1h0M334.9 331.5h0M335.2 324.4h0M334.9 325.6h0M335.3 319.9h0M335.4 332.8h0M335.3 334.6h0M335.7 339.6h0M335.6 331.1h0M336 340.5h0M335.6 332.7h0M335.5 328.2h0M335.5 317h0M336 332.9h0M336.3 322.4h0M335.9 322.3h0M336.4 332.1h0M336.4 317.8h0M336.3 324h0M336.2 330h0M336.6 319.2h0M336.7 339.9h0M336.5 319.9h0M336.8 336.4h0M336.6 336.8h0M336.7 313.7h0M337.2 314.7h0M336.9 316.6h0M337.1 327.3h0M337.1 327.7h0M337.2 319.5h0M336.9 341.4h0M337.4 334.1h0M337.1 331.8h0M337.1 326.7h0M337.5 320.5h0M337.7 336.5h0M337.3 321.5h0M337.7 328.2h0M337.6 320.9h0M337.9 320.5h0M337.7 340.5h0M337.6 315h0M338 334h0M338.1 315.1h0M337.8 338.6h0M338 345h0M338.5 322.1h0M338.6 315.6h0M338.4 324.9h0M338.8 336.9h0M338.6 320.4h0M338.5 341.7h0M338.7 316.7h0M338.7 339.3h0M338.5 326.1h0M339 337.8h0M339 337.6h0M339.2 320.1h0M339 317.5h0M338.8 327.4h0M339.2 332.8h0M339 332.2h0M339.2 328.6h0M339.2 337.2h0M339.4 342.7h0M339.5 344.7h0M339.6 325.9h0M339.3 338.8h0M339.3 326.8h0M340 332.7h0M340.1 338.4h0M339.7 334.7h0M339.9 336.4h0M339.7 344.3h0M340.1 340h0M339.8 333.4h0M340.5 338.4h0M340.1 337.3h0M340.6 325.1h0M340.2 317.7h0M340.2 336.8h0M340.2 322.5h0M340.4 324.2h0M340.7 322.7h0M340.4 322.4h0M341 336.2h0M340.6 336.8h0M340.8 338.1h0M340.9 330.4h0M341.3 329h0M340.7 337.2h0M341 339.1h0M341.3 318.7h0M341 329h0M341.1 320.7h0M341.3 315.7h0M341.6 317.7h0M341.5 327.9h0M341.9 342.8h0M341.3 339.6h0M342 326.5h0M341.8 333.7h0M341.9 339.9h0M342.2 317h0M342 319.8h0M341.7 325.8h0M342.2 317.8h0M342.3 318.6h0M341.9 326.8h0M342.4 333.9h0M342 337.5h0M342.1 326.7h0M342.5 323.6h0M342.4 336.4h0M343 331.4h0M342.5 318h0M342.6 335.3h0M342.7 334.1h0M343.2 328.7h0M342.8 337.3h0M343.3 340h0M343.3 329h0M343 340.2h0M343.6 320h0M343 327h0M343.6 321.6h0M343.8 322.9h0M343.9 333h0M343.5 317.6h0M343.7 323.8h0M343.3 327.6h0M343.9 333.9h0M343.9 318.5h0M343.8 337.7h0M344 334.8h0M343.8 332.3h0M343.9 332.5h0M343.9 326.9h0M344.5 343.9h0M344.2 339.5h0M344.4 342.2h0M344.6 340.8h0M344.4 329.3h0M344.3 324.2h0M344.7 331.5h0M345 327.4h0M344.5 339.4h0M344.6 344.5h0M345.3 337h0M345.3 338.4h0M344.7 339.7h0M345.2 317.4h0M345.3 340.9h0M345.3 327.4h0M345 315.4h0M345.7 335.9h0M345.8 322.3h0M345.6 343.5h0M345.4 342.3h0M345.4 323h0M345.9 335.8h0M346 340.5h0M345.9 335.3h0M345.8 339.3h0M346.1 321.3h0M345.9 321h0M345.9 330.3h0M346.1 320.3h0M346.5 320.3h0M346.7 323.8h0M346.7 338.8h0M346.2 323.6h0M346.7 331.2h0M346.8 328.2h0M346.3 325.6h0M346.4 337.3h0M346.9 328.6h0M346.6 332.1h0M346.7 324.2h0M347 334.1h0M347.1 323.3h0M347 313.6h0M347.3 335.5h0M347.4 318.7h0M347.5 337.2h0M347.2 336h0M347.1 340.8h0M347.2 316h0M347.3 341.4h0M347.8 331.3h0M348 329.3h0M348 327.2h0M347.5 340.2h0M348 313.5h0M348.3 342.1h0M347.8 316.3h0M347.9 324.4h0M348.3 314.5h0M348 321.4h0M348.6 323.3h0M348.1 309.9h0M348.1 332h0M348.6 311.1h0M348.8 321.1h0M348.8 328.6h0M348.7 315.5h0M349.1 327.5h0M348.4 316.6h0M348.5 332.7h0M349.2 320.7h0M348.7 334.6h0M348.7 331.1h0M349.2 333.4h0M349.2 315.8h0M349.6 328.8h0M349 310.9h0M349.7 313.5h0M349.5 325.7h0M349.3 306.2h0M350 331h0M350 330.4h0M349.9 321.7h0M349.6 324.5h0M349.6 322.1h0M350 332.7h0M349.7 312.1h0M350.3 323.2h0M350.4 318.7h0M350.1 323.2h0M350.3 331.4h0M350.6 321.8h0M350 312.6h0M350.4 327.8h0M350.5 320.6h0M350.3 330.2h0M350.9 313.8h0M351.1 307.3h0M350.7 324.8h0M350.7 317.4h0M351.2 327.3h0M350.9 312.2h0M351.4 312.1h0M351.5 322.3h0M351 314.1h0M351.3 309.3h0M351.3 311.9h0M351.2 325.9h0M351.4 321.6h0M351.4 317.8h0M351.9 314.4h0M351.4 320.1h0M352 324.7h0M351.5 312.7h0M351.9 314.8h0M351.6 305.6h0M352.3 329.2h0M352.1 308.9h0M351.9 309.8h0M352.2 332.3h0M352.3 318.1h0M352.3 309.7h0M352 328.1h0M352.7 311.5h0M352.5 313.5h0M352.7 332.4h0M352.5 328h0M352.9 324.7h0M352.5 326h0M353 311h0M352.6 312.5h0M353 328.7h0M353.2 318.5h0M353 318.2h0M353.1 307.3h0M353.2 312.2h0M353.4 328.8h0M353.3 320.8h0M353.5 312.9h0M353.7 308.1h0M353.2 325.9h0M353.6 310.4h0M353.7 315.2h0M354.1 318.4h0M354 308h0M353.6 314.2h0M354.1 307.1h0M353.9 316.4h0M354.3 309.7h0M354.5 314.8h0M354 312.5h0M354.1 325.8h0M354.1 318.6h0M354.3 320.1h0M354.8 322.3h0M354.7 316.7h0M354.7 308.4h0M354.8 329.2h0M354.6 320.8h0M355 332h0M354.8 310h0M354.9 322.3h0M355.2 317.6h0M355.4 313.9h0M355 326.8h0M355.3 309.5h0M355.3 326.1h0M355.3 321.2h0M355.6 311.3h0M355.3 321.4h0M355.9 323.4h0M355.5 331.2h0M355.7 329h0M355.4 330.2h0M356.1 327.2h0M356 319.6h0M355.9 316.8h0M355.9 331h0M355.9 319.3h0M355.8 307.9h0M356.4 318.5h0M356.5 332.2h0M356 307.4h0M356.1 322.2h0M356.7 320.5h0M356.7 311.9h0M356.9 329.3h0M357 332.6h0M356.6 330.2h0M357.1 317.8h0M357.1 331h0M356.7 317.5h0M357.4 316h0M356.7 326.1h0M356.9 322h0M357.5 319.8h0M357.5 321.8h0M357.3 321.8h0M357.7 322.1h0M357.2 326.6h0M357.8 323.6h0M358 330.2h0M357.3 323.8h0M357.6 318h0M357.6 317h0M357.6 303.3h0M358.1 320.1h0M357.8 311.7h0M358.3 308.9h0M358 328.2h0M357.9 317h0M358.2 324h0M358.2 320.2h0M358.7 302.5h0M358.7 313.4h0M358.5 321.3h0M358.5 322.8h0M359 321.2h0M358.6 305.1h0M358.9 318h0M358.9 308.3h0M358.7 310.3h0M358.6 315.2h0M359.4 326.7h0M359.2 311.8h0M359 313.7h0M359.1 310.3h0M359 323.1h0M359.1 315.9h0M359.4 326.5h0M359.8 305h0M359.8 309.1h0M359.8 305h0M359.6 321.8h0M359.7 313.7h0M359.4 328.6h0M360 311.9h0M359.6 330.7h0M360.2 331.1h0M360 313.1h0M360.5 327.4h0M360.6 305.3h0M360.2 330.7h0M360.7 310.1h0M360.4 322.3h0M360.8 316.2h0M360.2 314.6h0M360.3 329.9h0M360.8 323.2h0M360.7 313.8h0M360.7 307h0M361 315.7h0M361.3 320.5h0M361.2 331.5h0M361.3 312.2h0M361.1 324.5h0M360.8 313.8h0M361.3 328.1h0M361.2 321.7h0M361.8 319.7h0M361.6 331.1h0M361.6 318.1h0M361.9 330.5h0M361.4 317.8h0M361.9 330h0M362.1 319.3h0M362 317.2h0M362 309.2h0M362.2 331h0M361.8 314.7h0M361.9 313.3h0M362.5 325.6h0M362.4 317.5h0M362 329h0M362 309h0M362.8 318.4h0M362.7 313.4h0M362.6 331.2h0M362.5 330.3h0M362.7 327.5h0M363.1 322.4h0M362.6 329.6h0M362.8 317.9h0M363.3 316.7h0M362.9 329.7h0M363.1 315.8h0M363.5 307.8h0M363.5 317.1h0M363.6 324.2h0M363.5 312.6h0M363.9 330.2h0M363.5 313.4h0M363.5 311.7h0M363.6 318.3h0M363.4 314.2h0M363.9 330.5h0M364 314h0M363.9 317h0M364 310.7h0M363.8 320.2h0M364.1 316.5h0M364.4 314.8h0M364.4 312.8h0M364.7 312.1h0M364.4 327.8h0M364.7 326.5h0M364.3 308.1h0M364.4 312.3h0M364.9 309.2h0M365 316h0M364.9 327.4h0M364.9 331h0M364.7 325h0M365.2 330.4h0M364.7 327.5h0M364.9 311.6h0M365.3 324.1h0M365 318.9h0M365 316.4h0M365.4 314.8h0M365.6 318.9h0M365.8 326.6h0M365.5 313.9h0M365.3 316.8h0M365.8 309.4h0M365.7 314.8h0M366.2 314.5h0M365.8 316.9h0M365.9 327.5h0M366.3 307.6h0M366.1 330.8h0M366.2 308.5h0M366.2 323h0M366.4 307.7h0M366.2 313.9h0M366.4 323.1h0M366.7 308.2h0M366.3 321.4h0M366.3 328h0M367 329.2h0M367 316.9h0M366.9 324.5h0M366.8 312.2h0M366.7 319.8h0M366.7 328.6h0M367.2 326h0M366.9 316.6h0M367.1 306.8h0M367.1 306.9h0M367.4 327.7h0M367.8 319.2h0M367.8 326h0M367.6 320.2h0M367.8 320.7h0M367.5 311.8h0M367.4 319.9h0M367.8 315.5h0M367.8 328.2h0M368.2 308.6h0M367.6 320.4h0M368.4 320.8h0M368.3 320.3h0M368.3 318h0M368.7 318.7h0M368.5 320.7h0M368.8 313.7h0M368.2 306.6h0M368.6 321.3h0M368.2 330.2h0M369 313.9h0M368.4 326.1h0M369.2 325.5h0M368.6 318.4h0M369.3 311h0M368.8 324.2h0M369 330.6h0M369.5 311.1h0M369.5 322h0M369.3 322h0M369.2 306.5h0M369.1 322.9h0M369.3 323.9h0M369.3 307.9h0M369.7 327.9h0M369.6 325.2h0M369.7 309.5h0M369.6 322.9h0M369.7 330.7h0M369.7 311.7h0M370.2 330.4h0M370.4 313.3h0M369.8 308.6h0M369.9 319.9h0M370.6 316.3h0M370.2 328.9h0M370.1 306.8h0M370.5 314h0M370.5 306.2h0M370.9 323.5h0M370.3 307.4h0M370.6 325.6h0M371 315.1h0M371.2 317h0M371 331.7h0M370.8 326.8h0M371.4 304.7h0M371.4 331.2h0M371.5 303.3h0M371.1 305h0M371.1 309.2h0M371.2 311.7h0M371.2 318.4h0M371.3 306.1h0M371.3 321.2h0M371.5 305h0M371.8 315.8h0M371.8 320.1h0M371.8 327.8h0M371.6 312.2h0M372.3 307.9h0M371.7 316.8h0M372.4 320.1h0M371.9 329.4h0M372.1 319.1h0M372.7 324.3h0M372.7 311.8h0M372.2 312.1h0M372.6 330.8h0M372.3 326h0M372.4 325.9h0M372.9 330.7h0M372.7 323.8h0M372.6 315h0M372.8 323.6h0M372.7 315.6h0M372.8 316.1h0M373 314.5h0M372.9 315.7h0M373.2 309.7h0M373.6 310.8h0M373.4 322.8h0M373.4 328.9h0M373.6 326.7h0M373.7 321.7h0M373.7 328.8h0M373.8 328.3h0M373.8 319.8h0M373.6 308.4h0M373.7 323h0M373.7 320.8h0M374.2 324.9h0M374 320.4h0M374.1 328.4h0M374.4 318.7h0M374.7 308.8h0M374.7 311.7h0M374.1 321.7h0M374.3 305.1h0M374.2 308.7h0M374.7 326.4h0M374.8 309.2h0M374.7 326.7h0M375 322.1h0M374.5 320.4h0M374.9 324.8h0M375.1 318.5h0M375.3 331h0M375.3 318.3h0M375.3 319.6h0M375.5 326.4h0M375.3 318.6h0M375.4 331.2h0M375.5 313.2h0M375.6 325.7h0M375.7 325.8h0M375.5 312.1h0M375.8 308h0M376 308.5h0M375.9 320.4h0M375.8 308.7h0M376.3 309.9h0M376.1 319.1h0M375.8 307.3h0M376.6 312.3h0M376.4 330.9h0M376.1 316.6h0M376.2 325.3h0M376.3 322.7h0M376.2 330.8h0M376.7 317.8h0M376.7 314.3h0M376.7 331.8h0M377.2 312.1h0M376.9 311.1h0M377.2 307.8h0M376.9 323.4h0M377.3 314.4h0M376.9 324.2h0M377 325h0M377.3 307.1h0M377.2 318.9h0M377.4 311.4h0M377.7 305.1h0M377.4 327.1h0M377.3 310.9h0M378 310.7h0M377.9 311.4h0M377.9 325.2h0M377.7 322.7h0M377.9 331.9h0M378.2 309.5h0M377.9 307h0M378.5 323.6h0M377.9 326h0M378.4 309.7h0M378.1 308.5h0M378.2 329.8h0M378.5 307h0M378.1 309.5h0M378.9 322.4h0M378.3 318.9h0M378.4 318.8h0M379.1 315.7h0M378.8 324.6h0M378.7 320.5h0M379 311.9h0M379.1 330.9h0M379.5 316.5h0M379 312.8h0M379 326.5h0M379.2 314.5h0M379.7 321h0M379.4 329.1h0M379.2 310h0M379.9 314.7h0M379.4 316.5h0M379.8 323.9h0M379.9 315.8h0M379.8 329h0M380.2 322.8h0M380.4 317.7h0M380 314.8h0M379.9 329.6h0M380.3 329.3h0M380.1 309.5h0M380.4 311.8h0M380.3 325.3h0M380.6 330.3h0M380.8 321.8h0M380.2 332h0M380.5 319.3h0M380.7 319.6h0M380.6 329.8h0M380.8 322.5h0M380.7 320.3h0M380.8 319.4h0M381.3 323.5h0M381.5 330.6h0M381.2 330h0M381 306h0M381.5 323.4h0M381.6 317.8h0M381.7 318.7h0M381.4 305.8h0M381.2 315.4h0M381.8 323.3h0M381.4 322.9h0M381.7 306.5h0M382.1 304.9h0M382.3 311.9h0M381.8 310.4h0M381.8 328.5h0M382 307.6h0M382 329.2h0M382.1 313.5h0M382.4 331.8h0M382.2 312.5h0M382.5 322.2h0M382.6 315.3h0M382.6 326h0M382.5 322.1h0M383 315.6h0M382.7 331.1h0M382.8 315.4h0M383.2 312.3h0M382.9 322.8h0M383.3 306.1h0M383.4 330.8h0M382.8 313.1h0M383.1 329.6h0M383.4 322.3h0M383 326.3h0M383.7 311.8h0M383.3 323.5h0M383.9 309h0M383.7 325.5h0M383.3 327.5h0M384 326.2h0M384.1 330.4h0M383.6 322.6h0M383.9 323.2h0M384.1 309.6h0M384.5 311.8h0M384 332.4h0M384.4 310.2h0M384.7 321.8h0M384.7 313.1h0M384 312.7h0M384.2 321.2h0M384.8 313h0M384.8 328.3h0M384.5 315.5h0M384.6 326.8h0M384.5 320.6h0M384.7 324.6h0M385.2 322.3h0M384.8 318.3h0M385.2 312.5h0M385.3 318.2h0M385.2 311.2h0M385.2 326.6h0M385.1 326h0M385.4 307.7h0M385.5 324.4h0M385.2 327.7h0M385.2 323.5h0M385.9 318.1h0M385.6 316.8h0M385.8 308.9h0M386.1 312.7h0M385.8 312.7h0M386.4 328.8h0M386.1 314.2h0M386.3 326.8h0M386.4 309.1h0M386.4 315.3h0M386.5 325.9h0M386.5 322.5h0M386.3 324.2h0M386.2 310.7h0M386.5 331.5h0M386.8 312.8h0M386.4 318.9h0M386.8 319.9h0M386.7 328.6h0M387.2 317.7h0M387.3 327.3h0M387.4 325.9h0M386.9 326h0M386.9 314.4h0M387.5 307.7h0M387.2 315.8h0M387.4 319.4h0M387.6 312.7h0M387.8 311.7h0M387.6 332h0M387.6 325.4h0M387.9 310.4h0M387.8 318.3h0M388.1 312.6h0M387.8 316.7h0M387.9 329.8h0M387.6 330.8h0M387.8 317.3h0M387.9 329.7h0M388.3 317.8h0M388.1 319.5h0M388.4 323.8h0M388.5 311.9h0M388.9 330h0M388.6 323.7h0M388.5 331.1h0M389 326.8h0M388.5 327h0M389.2 316.5h0M388.6 323.7h0M389.1 328h0M389.4 314.9h0M388.8 322.8h0M389.3 331.4h0M389.3 330.1h0M389.4 331.2h0M389.2 323.3h0M389.8 327.8h0M389.2 325.3h0M389.5 327.6h0M389.3 322.2h0M389.4 324.9h0M389.6 326.8h0M389.7 304.9h0M389.8 324.3h0M390 329.8h0M390.4 307h0M390.1 307.8h0M390.2 327.2h0M390.6 311.5h0M390.1 309.1h0M390.2 320.8h0M390.2 330.9h0M390.5 325h0M390.6 326.5h0M390.4 322.1h0M390.7 313.7h0M391 312.2h0M390.6 317.2h0M391 309.8h0M391.2 315.4h0M391 309.8h0M390.9 308.8h0M391 322.4h0M391.2 328.4h0M391.2 322.1h0M391.3 314.1h0M391.6 311.8h0M391.5 319.3h0M391.4 318.5h0M391.2 330.6h0M391.4 319.6h0M391.9 306.7h0M391.9 316h0M391.8 321.2h0M391.7 327.6h0M392.4 324.5h0M392.4 330.6h0M392.3 323.8h0M392.5 318.3h0M391.9 304.4h0M392.5 329.4h0M392.5 316.9h0M392.3 316.2h0M392.7 314h0M392.6 321.1h0M392.7 317.1h0M393 305.3h0M393.1 325.8h0M393.2 306.8h0M392.8 326.8h0M392.7 315.9h0M392.8 311.3h0M393 316.3h0M392.8 306.4h0M393.3 314.5h0M393.2 319.4h0M393.1 305.6h0M393.3 316.2h0M393.8 310.3h0M393.4 331.2h0M393.9 317.9h0M393.9 330.7h0M394.1 313.1h0M394.1 307.8h0M394 318.7h0M393.8 323.4h0M394.2 323.3h0M394.1 322.3h0M394.4 321.8h0M394.4 324h0M394.1 309.4h0M394.7 313.6h0M394.4 325.2h0M394.2 321h0M394.4 329.3h0M394.9 316.8h0M395 320h0M394.5 322.4h0M395.2 323.8h0M394.7 323.9h0M395.2 318h0M395.1 319.6h0M395 322h0M395.3 325.1h0M395.3 322.3h0M395.3 330.6h0M395.4 324.7h0M395.2 319.7h0M395.9 314.9h0M395.2 314.9h0M395.3 327.1h0M395.7 328.8h0M395.4 312.7h0M395.7 324h0M395.6 326.5h0M396.2 315.2h0M395.8 315.4h0M396.1 329.3h0M396.2 323.4h0M396.2 311.6h0M396.1 322.1h0M396.3 315.7h0M396.5 329.9h0M396.8 306.8h0M396.4 314.9h0M396.9 324.6h0M396.9 313h0M396.9 309h0M397.1 331h0M397.2 324.4h0M397.3 328.7h0M397.2 309.1h0M396.9 326h0M397.2 319h0M397.5 308.8h0M397.6 308.8h0M397.1 323.8h0M397.2 318.8h0M397.4 314.4h0M397.8 319.8h0M397.3 311.6h0M398 326.6h0M397.8 326.2h0M397.7 330.2h0M397.9 324.8h0M397.9 331.6h0M397.9 314.1h0M398.3 307.1h0M397.9 332.1h0M398.1 308.1h0M397.9 310.3h0M398.2 322.6h0M398.1 317.1h0M398.8 315h0M398.3 319.8h0M398.7 307.8h0M398.4 319.9h0M398.4 316h0M398.9 310.8h0M399.1 310.6h0M399 309.8h0M399.4 304.8h0M399.4 324.4h0M399.3 330.6h0M399.4 318.8h0M399.3 320.2h0M399 314.7h0M399.7 318h0M399.6 331.8h0M399.5 309.2h0M399.5 314.6h0M400.1 327.1h0M399.9 307.9h0M400.2 318.6h0M400.2 312.9h0M399.8 324h0M400.1 323.1h0M400 318.8h0M400.2 311h0M400.3 325.7h0M400.3 320.5h0M400.3 310h0M400.7 307h0M400.8 320.2h0M400.3 308.5h0M400.5 320.3h0M400.7 307.7h0M401 324.8h0M400.9 318.2h0M400.7 312.3h0M400.8 312.1h0M401.3 308.8h0M401.2 331.8h0M401.2 312h0M401.4 331.8h0M400.9 320.5h0M401.6 320.8h0M401.2 317.1h0M401.6 314.3h0M401.3 324h0M401.3 325.4h0M401.6 332.3h0M402 314.7h0M402.1 314.3h0M402.1 330.4h0M401.7 329h0M401.7 315h0M402 331.1h0M402 324.8h0M402.2 315.1h0M402.6 312.6h0M402.5 325.3h0M402.2 321.3h0M402.1 321.9h0M402.2 311.5h0M402.4 326h0M402.4 322h0M402.9 325.3h0M402.5 306.2h0M402.5 325.1h0M403 307.9h0M402.7 330.6h0M402.7 318.7h0M402.9 313.6h0M403.3 310.6h0M402.9 323.5h0M403.4 307.1h0M403.3 324.6h0M403.2 323.4h0M403.4 322.1h0M403.5 305.9h0M404 313h0M403.5 317.9h0M403.4 313.5h0M403.6 331.7h0M404.2 316.5h0M404 320.6h0M403.9 308.6h0M404 321h0M404.1 309.2h0M403.9 319.8h0M404.1 305.3h0M404 327.2h0M404.1 308.2h0M404.2 314.1h0M404.9 332.1h0M404.6 330.5h0M404.5 317h0M404.4 304.8h0M405 306.2h0M405.2 318.6h0M404.9 323.6h0M404.9 326.8h0M404.7 310.5h0M405.1 308.5h0M404.9 320.1h0M405.5 330.9h0M405.3 314.2h0M405.3 317.2h0M405.1 316.9h0M405.9 321.7h0M405.6 315.6h0M405.5 322.4h0M406.1 327.6h0M406.1 316.3h0M405.8 316h0M406.3 327.3h0M405.6 314h0M405.7 328.9h0M406.2 312.2h0M406.5 323.5h0M406.3 320.2h0M406 307.1h0M406.5 314.7h0M406.7 328.4h0M406.2 316h0M407 316.2h0M406.6 323.9h0M406.5 314.8h0M406.7 311.6h0M406.8 322.7h0M406.7 330h0M407.2 319.4h0M407.4 323.6h0M406.8 310.7h0M407.5 323.4h0M407.2 329.4h0M407.3 326h0M407.1 317.7h0M407.7 313.7h0M407.9 314.9h0M407.3 327.5h0M408 322.4h0M407.7 322.4h0M407.9 314.8h0M408.1 324.4h0M407.6 308.2h0M408 310.9h0M408.4 330.5h0M407.8 319.8h0M407.9 309h0M408 314.2h0M408 318.3h0M408.3 322.3h0M408.8 319.5h0M408.6 326h0M408.3 317.8h0M408.3 311.1h0M408.4 326h0M408.8 309.8h0M409.2 322.7h0M409 316.1h0M409.3 326.7h0M409.1 320.4h0M409.2 329.3h0M408.8 329h0M409.1 319.7h0M409.6 318.2h0M409.3 329.2h0M409.4 311.4h0M409.6 324.4h0M409.8 326.9h0M409.7 331.8h0M410 319.8h0M409.8 326.1h0M409.7 320h0M410.3 329.1h0M410.3 326.3h0M409.7 328.4h0M410.3 324.6h0M410.1 315.9h0M410 305.6h0M410.3 311h0M410.1 319.7h0M410.5 318.5h0M410.8 310.3h0M410.4 327.4h0M410.9 330.9h0M411 319h0M410.6 326.7h0M411.2 310.3h0M410.7 308.2h0M411.2 315.9h0M410.7 327.1h0M410.9 322.2h0M411 310.3h0M411.3 305.3h0M410.9 319.4h0M411.5 322.1h0M411.7 315.5h0M411.7 312.6h0M411.8 327.3h0M411.7 321.6h0M411.4 307h0M411.7 322.1h0M411.8 315.2h0M411.6 329.2h0M412.1 325.5h0M411.8 314.3h0M412.4 322.1h0M412.3 312.9h0M412.2 310.3h0M412.4 331.5h0M412.7 309.4h0M412.8 310.6h0M412.4 326.9h0M412.9 306.5h0M412.9 317.4h0M412.5 324.3h0M413.1 317.4h0M412.9 310.3h0M413.1 312.8h0M412.5 320h0M412.7 320.9h0M413.1 311.2h0M413 328.5h0M413.4 317.4h0M413.3 331h0M413.5 331.3h0M413.6 306.2h0M413.8 323.3h0M413.4 329.9h0M413.4 313.4h0M413.5 323.1h0M413.4 307.1h0M414.2 326.9h0M413.9 320h0M414 325.4h0M414.2 326.2h0M414.1 321.9h0M414.3 311.2h0M414.1 331h0M414.2 310.6h0M414.2 309.3h0M414.3 307.3h0M414.1 314.9h0M414.9 320h0M414.3 319.3h0M415 306.4h0M414.5 312.6h0M414.6 330h0M414.7 306.5h0M414.8 322.4h0M414.8 320.4h0M415 307h0M414.7 317.7h0M415.4 308.4h0M415.3 310h0M415.3 328.7h0M415.1 315.6h0M415.2 327.8h0M415.5 310.7h0M415.7 320h0M415.4 323.1h0M415.9 324.1h0M415.5 324.5h0M415.9 321.7h0M415.5 309.6h0M416.3 323.2h0M415.8 319.9h0M416.3 315.9h0M416.4 320.2h0M416.6 311.2h0M416.5 324.6h0M416.6 327.4h0M416.6 317.9h0M416.9 322.9h0M416.3 326.5h0M416.9 314.7h0M416.8 324h0M417 317.5h0M417.1 316.8h0M416.6 311.8h0M416.7 330.7h0M416.8 330h0M417 322.2h0M417.4 319.9h0M417.4 326.5h0M417.3 319.9h0M417.1 313.4h0M417.4 329.9h0M417.7 310.3h0M417.6 308.4h0M417.3 321.8h0M417.6 315.8h0M417.8 314.1h0M418.2 315.1h0M417.8 323.2h0M417.7 325.6h0M418.2 316.6h0M418 314.7h0M418.2 321.2h0M418.6 313.6h0M418.2 311.1h0M418.3 313h0M418.1 314.4h0M418.5 326.6h0M418.7 324.7h0M418.4 322.3h0M418.7 322.3h0M418.8 330.3h0M419 311.9h0M419.2 311.1h0M418.8 330.8h0M419.3 330.1h0M419.3 307.6h0M419.1 316h0M419.1 309.8h0M419.4 309.1h0M419.1 330.5h0M419.7 316.3h0M419.7 311.6h0M419.2 318.4h0M419.4 319.7h0M419.6 320h0M419.4 324.7h0M419.8 312.1h0M420.2 312.9h0M420.1 311.4h0M420.3 315.1h0M419.8 305.5h0M420.2 324.1h0M419.9 308.8h0M420.1 308.7h0M420.5 313.9h0M420.1 319.2h0M420.6 331.5h0M420.4 307h0M420.3 331h0M420.7 320h0M421 326.9h0M421.1 327.9h0M421.1 323.6h0M420.8 312.8h0M420.9 321.6h0M421.1 311.6h0M421.5 326.2h0M420.8 311.8h0M421.3 326.4h0M421.3 309.6h0M421.4 318.4h0M421.4 321.2h0M421.8 329.8h0M421.8 312.5h0M421.8 330.6h0M421.6 311.4h0M421.7 309.7h0M422 312.9h0M421.7 312.3h0M422.3 312.6h0M422.3 314.9h0M422.4 314.1h0M422.3 305.2h0M422.1 306.6h0M422.1 309.1h0M422.5 310.4h0M422.7 320h0M422.2 306.8h0M422.5 329.2h0M422.9 326.7h0M423 318.2h0M422.9 329.8h0M422.8 318.7h0M423.2 310.3h0M423 312h0M423.4 309.2h0M423.3 309.6h0M423.1 319.4h0M422.9 328.9h0M423.1 316.7h0M423.7 310.1h0M423.3 328.3h0M423.5 315.5h0M423.3 322.2h0M423.4 307.7h0M423.6 307.2h0M423.9 309h0M423.8 313.6h0M423.8 308.5h0M424 317h0M424.2 322.2h0M424.3 310.2h0M424.4 318.1h0M424.4 306.6h0M424.3 309.6h0M424.4 306.9h0M424.4 327.9h0M424.3 326.9h0M424.5 326.6h0M424.8 328.7h0M424.4 311.3h0M425 310.8h0M424.9 325.1h0M425.2 327.4h0M424.9 309.7h0M425.2 325.5h0M425.1 315.9h0M425.5 310h0M425.4 328.7h0M424.9 320h0M425.6 317.3h0M425.8 314.6h0M425.3 325.1h0M425.2 321.9h0M425.6 324.4h0M425.9 319.1h0M426.1 305.9h0M425.5 319.9h0M425.9 321.4h0M426 326.3h0M425.8 315.8h0M425.8 304.4h0M425.9 327.6h0M426.6 330.2h0M425.9 316.9h0M426.6 318.4h0M426.7 322.2h0M426.2 306.6h0M426.6 316.2h0M426.9 321.2h0M426.4 302.5h0M426.8 323.1h0M426.9 330.6h0M426.6 308.9h0M426.7 331.7h0M426.6 308.4h0M427 324h0M427.5 321.9h0M426.9 321.9h0M427.5 309.6h0M427.1 331.9h0M427.8 316.1h0M427.3 305.6h0M427.4 328.3h0M427.8 307.8h0M427.8 319.1h0M428 325.2h0M428.1 315h0M427.7 328.8h0M428.3 310.2h0M427.6 311.5h0M427.7 307.4h0M428.4 314.1h0M428.4 325.8h0M427.9 314.8h0M428.1 329.8h0M428.7 324.1h0M428.6 307h0M428.5 331.5h0M428.4 319.4h0M428.5 322.8h0M428.3 321.4h0M429 329.7h0M429.1 329.4h0M428.6 313.1h0M428.9 324.6h0M428.7 318.8h0M428.9 327.8h0M429.2 310.7h0M429 314.8h0M429.1 309.5h0M429.8 324.1h0M429.6 326h0M429.7 306.4h0M429.3 313.3h0M429.7 308.7h0M429.7 310.7h0M430.1 322.9h0M430 329.5h0M429.9 311.2h0M429.9 306.1h0M430.4 327.3h0M430.4 309.9h0M429.9 309.4h0M429.9 324.6h0M430.6 316.2h0M430.5 319.6h0M430.5 331.6h0M430.5 313.7h0M430.9 311h0M430.3 315.2h0M430.7 310.5h0M430.5 310.9h0M430.5 310.1h0M431.1 308.3h0M431 315.1h0M431.1 317.1h0M430.9 327.6h0M431 309.1h0M431.6 312h0M431.2 330.2h0M431 308.7h0M431.5 310.3h0M431.8 322.5h0M431.3 323.8h0M431.6 323.1h0M431.4 313.3h0M431.9 315.2h0M431.6 327.1h0M431.8 309.9h0M431.9 307.9h0M431.9 317.9h0M431.9 329.3h0M432.5 323.8h0M432.2 326.2h0M432.2 310.3h0M432.3 321.1h0M432.1 314.9h0M432.5 326.9h0M432.8 318.2h0M432.8 320.5h0M432.9 309.8h0M432.8 327.8h0M433 310.1h0M432.9 323.9h0M432.9 329.1h0M433.2 322.1h0M433.3 330.3h0M433 327.4h0M433.2 315.5h0M433.4 316.6h0M433.5 313.8h0M433.3 307.6h0M433.8 324.4h0M433.4 320.1h0M433.5 303.5h0M433.4 317.9h0M433.6 316.7h0M433.7 307h0M433.8 305.9h0M434.3 313h0M433.6 310.4h0M433.7 316.3h0M434.5 318.2h0M434.2 300.6h0M434.6 304.4h0M434.4 296.8h0M434.7 308.4h0M434.1 305.2h0M434.7 306.9h0M434.7 309h0M434.8 313.9h0M434.3 299.8h0M434.5 312.5h0M435.2 305.1h0M434.8 314.1h0M435.4 317.4h0M434.8 310h0M435.5 313.6h0M435 297.3h0M435.1 306.1h0M435.3 294.8h0M435.4 303h0M435.5 301.9h0M435.2 314.4h0M435.8 309h0M435.8 317h0M435.6 318.9h0M436.1 306.7h0M435.8 306.3h0M435.8 309h0M436.1 299.3h0M435.7 315.5h0M435.7 294.6h0M436.1 301.8h0M436.4 311.7h0M436.6 302.2h0M436.1 297.5h0M436.2 300.6h0M436.4 297h0M436.8 295h0M436.6 301.9h0M436.4 299.5h0M436.7 303.8h0M436.6 295.4h0M436.6 297.4h0M437 298.8h0M437.1 296.9h0M437.4 299.6h0M437.1 297.8h0M437.6 292.2h0M436.9 311.4h0M437.3 295.8h0M437.7 310.2h0M437.6 315.2h0M437.7 297.4h0M437.6 315.6h0M437.6 295.1h0M438.1 306.9h0M437.9 308.8h0M438.2 304.5h0M438.2 317.7h0M437.9 318.8h0M438.4 314.6h0M438.5 318.3h0M438.4 299.8h0M438.4 318.7h0M438.3 303.5h0M438.6 306.5h0M438.6 311.1h0M438.6 307h0M438.8 307.4h0M438.3 308.3h0M439.1 314.3h0M438.7 306.4h0M439.2 298.6h0M438.6 309.5h0M439.1 305.9h0M439.3 317h0M438.9 318.5h0M439.1 316.5h0M439.6 295.5h0M439.6 318h0M439.6 315.7h0M439.3 315.7h0M439.6 298.5h0M439.4 308.6h0M439.6 311.5h0M440 301.4h0M440.2 307.8h0M440.2 317.2h0M440.3 312.3h0M440 308.6h0M440 308h0M440.5 315.2h0M439.8 310.5h0M439.9 298.5h0M440 314.8h0M440 313.7h0M440.7 317.9h0M440.5 319.8h0M440.4 318.7h0M440.4 312.9h0M440.7 317.6h0M440.7 311.1h0M440.8 297.1h0M441.1 317.2h0M441.3 317.8h0M441.1 306.9h0M441.4 313.1h0M441.4 301.2h0M440.9 305.5h0M441.5 300.6h0M441.5 301.7h0M441.2 312.7h0M441.9 316.2h0M441.4 307.7h0M441.4 302.6h0M441.6 308.5h0M442 316.6h0M441.6 298.7h0M441.7 308.5h0M441.8 317.9h0M442.3 306.6h0M441.9 300.7h0M442 314.8h0M441.9 307.5h0M442.4 308.3h0M442.6 300.8h0M442.4 297.6h0M442.5 301.7h0M442.5 310.1h0M442.7 300.7h0M442.4 313.2h0M443.1 302.3h0M443.2 315.4h0M442.8 320.2h0M442.8 320.1h0M442.7 299.7h0M443 307.6h0M443 313.5h0M443.4 318h0M443.5 296.4h0M443.1 318.8h0M443.8 308.3h0M443.6 311.7h0M443.3 308.2h0M443.4 301.8h0M444 308.7h0M444 318h0M443.5 311.5h0M443.6 317.4h0M444 309.7h0M444.4 297.6h0M444.5 296h0M444.5 301.2h0M444.3 315.8h0M444 303.6h0M444.3 319.1h0M444.3 300h0M444.4 297.6h0M444.5 311h0M444.5 307.3h0M444.9 316.8h0M445.1 302.5h0M444.5 319.3h0M444.6 299.2h0M444.8 302.9h0M445.2 310.3h0M445.3 314.6h0M445 308.8h0M445.3 304h0M444.9 317.7h0M445.4 315.7h0M445.3 298.3h0M445.7 317.7h0M445.2 300h0M445.4 320.4h0M445.7 309.8h0M446.1 314.6h0M446 313h0M445.7 304.8h0M446.2 314.4h0M446.1 319h0M446.2 303.1h0M446.1 302.7h0M446.1 303.5h0M446.3 316.7h0M446.5 312.7h0M446.8 297.3h0M446.9 313.8h0M446.7 306.3h0M446.8 293.7h0M447 310.8h0M446.7 311.4h0M447 316.2h0M446.5 297.8h0M447.1 311h0M446.8 294.9h0M447.3 312h0M446.8 303.4h0M447 312h0M447 319.1h0M447.4 300.3h0M447.1 306.6h0M447.2 315h0M447.3 309.9h0M447.8 318.4h0M447.7 312.5h0M448.1 307.9h0M448.2 317.4h0M448.2 307.5h0M448.2 318.5h0M448 309.4h0M447.7 316.3h0M448.2 318.3h0M448.6 301.5h0M448.5 303.3h0M448.2 295.9h0M448.4 305.1h0M448.8 317.3h0M448.9 308h0M448.6 308.8h0M448.3 304.3h0M448.9 314h0M448.8 294.7h0M448.7 307.1h0M448.7 295.8h0M449 316.7h0M449.1 307.3h0M449.2 310.3h0M449.2 312.7h0M449.6 315h0M449.1 318.9h0M449.1 311.5h0M449.7 304.4h0M449.2 314.4h0M449.6 298.8h0M449.3 297.8h0M449.5 314.5h0M450 298.5h0M450 301.6h0M449.9 319h0M450.2 311.7h0M450.2 302.6h0M450 311.8h0M450 316.1h0M449.9 305h0M449.9 303.8h0M450.5 320.5h0M450.7 309.1h0M450.6 299.8h0M450.4 300.1h0M450.9 310h0M450.8 308.7h0M450.6 311.9h0M451 309.5h0M451 299.6h0M450.7 301.9h0M451.3 309.3h0M451.4 309.5h0M450.9 306.3h0M450.9 311h0M451.1 297.9h0M451.7 318.3h0M451.2 298.1h0M451.6 312.3h0M451.4 306h0M451.2 319.2h0M452 299.4h0M452.1 317.9h0M451.5 302.5h0M451.9 304.9h0M451.6 315.5h0M451.8 313.1h0M452.1 316.9h0M451.9 317.9h0M452 310.1h0M452.5 299.4h0M452.1 315.5h0M452.6 313.7h0M452.7 304.6h0M452.3 313.1h0M453 308.5h0M452.7 308.4h0M452.5 299.1h0M453.2 318.7h0M453.1 306.6h0M452.6 310.8h0M453 319.5h0M452.8 301h0M453 305.9h0M453 303.5h0M453.3 309.6h0M453.2 304.9h0M453.7 313.1h0M453.4 310.6h0M453.3 299.5h0M453.9 309.1h0M453.9 303.8h0M453.5 305.9h0M453.7 317.3h0M453.9 316.9h0M454.2 299h0M454.3 317.7h0M454.3 311h0M454.5 315.8h0M454.2 319.5h0M453.9 299.4h0M454.5 298.5h0M454.3 304.9h0M454.2 307.3h0M454.2 310.2h0M454.5 302.4h0M454.3 317.2h0M454.5 308.7h0M454.9 304.4h0M455 319.7h0M455.3 316.1h0M455 306.7h0M454.9 305.1h0M455.3 316h0M455.5 312.2h0M455 314.3h0M455.2 315.4h0M455.3 300.8h0M455.6 300.1h0M455.4 303.7h0M455.6 319.7h0M456.1 308.9h0M455.4 315.1h0M456 318.4h0M456.1 310.1h0M455.5 313.6h0M455.7 305.9h0M456.4 298.3h0M456 295.5h0M456.2 296.7h0M456.4 318.8h0M456.6 309.9h0M456.5 301.7h0M456.2 315.5h0M456.6 308.2h0M456.4 303.3h0M456.7 300.1h0M456.4 306.4h0M456.9 297.3h0M457.2 302.2h0M456.5 314.8h0M457 297.9h0M456.7 315.1h0M456.9 319.2h0M457.1 318.9h0M457.1 302.3h0M457.5 300.3h0M457.3 312h0M457.7 312.1h0M457.6 317.2h0M458 316.7h0M457.9 305.6h0M457.7 303.4h0M458.1 304.6h0M457.9 307h0M457.7 309.5h0M457.9 306.9h0M457.7 310.2h0M458.5 303.7h0M457.8 301.7h0M457.8 300.5h0M458.6 299.7h0M458.6 320.1h0M458.6 321.4h0M458.8 315h0M458.6 310.6h0M458.6 310.4h0M459 319h0M459 318.1h0M459.1 309h0M458.6 302.7h0M458.6 315.8h0M458.8 298.9h0M459.1 319.3h0M459.4 293.7h0M459.1 303.3h0M459.4 304.3h0M459.7 311.5h0M459.7 292.8h0M459.3 317.5h0M459.9 320.5h0M459.8 310.7h0M460.1 305.6h0M459.6 304.7h0M460 298.3h0M459.6 313.9h0M460.3 308h0M459.7 315.8h0M460.3 308.6h0M460 319.3h0M460.1 313.3h0M460.1 310.3h0M460.7 300.7h0M460.8 303.4h0M460.7 305.3h0M460.4 300.3h0M461 299.2h0M460.3 294.2h0M460.9 300.3h0M460.6 297h0M460.6 300.8h0M460.9 304.5h0M460.7 299.1h0M461.3 314h0M461.4 318.1h0M461.1 312.5h0M461.5 318.7h0M461.7 304h0M461.3 313.7h0M461.6 307h0M461.9 316.4h0M461.7 314.2h0M461.6 315.5h0M461.5 318h0M461.7 320h0M461.6 306h0M462 310.7h0M462.1 311h0M462.5 314.5h0M462.1 300.7h0M462.1 318.9h0M462.3 316.2h0M462.7 309.7h0M462.7 318.9h0M462.2 298.2h0M462.9 305.3h0M462.9 312h0M462.5 311.6h0M462.9 297.7h0M463.1 301.5h0M462.9 298.2h0M462.8 298.4h0M463.2 314h0M463 314.3h0M462.9 304.4h0M462.9 312.4h0M463.2 315.3h0M463 315.4h0M463.3 316.8h0M463.6 299.3h0M463.9 309.6h0M463.6 302.8h0M463.3 315.7h0M463.8 307.5h0M464 318.1h0M463.9 298.8h0M464.2 308.9h0M464.3 313.6h0M464.2 306.8h0M463.7 311.7h0M464.2 317.3h0M464.4 311.8h0M463.9 311.4h0M464.4 300.8h0M464.7 306h0M464.9 311.7h0M464.9 304.4h0M464.8 301h0M464.9 319.1h0M464.6 309.5h0M464.9 308.7h0M464.5 309.8h0M465.3 304.4h0M465.4 308.6h0M465 311.8h0M465.3 307.7h0M465.1 308.8h0M465.4 310.3h0M465.1 306.7h0M465.1 307.6h0M465.7 299.8h0M465.7 304.5h0M465.5 318.6h0M465.8 314.5h0M465.4 318.1h0M466 316.9h0M465.8 308.5h0M465.8 314.4h0M466 302.8h0M466.3 303.5h0M466 301.3h0M465.9 303.4h0M466.1 318.8h0M466.7 319.3h0M466.2 301.7h0M466.2 313.8h0M466.8 301.3h0M466.5 320.7h0M466.5 309.9h0M466.8 301.3h0M466.9 321.3h0M466.9 307.3h0M467 316.4h0M467.3 302h0M467.3 312.6h0M467.4 306.5h0M467.2 300.6h0M467.5 295.4h0M467.2 307h0M467.2 316.3h0M467.5 311.1h0M467.6 301.4h0M467.6 304.2h0M468 302.9h0M467.6 321.1h0M468 313.9h0M468.1 304.2h0M468.1 311.5h0M468.2 311.8h0M467.9 300.1h0M468.4 313.4h0M468.4 307.1h0M468.1 303.6h0M468.6 321.3h0M468.1 312.1h0M468.3 304.8h0M468.8 309.1h0M468.8 312.1h0M468.8 314.7h0M468.9 297.8h0M469.2 301.2h0M468.9 314.5h0M468.6 297.3h0M469 308.8h0M469.1 311.1h0M469.1 319.9h0M469.6 315.9h0M468.9 321.5h0M469.5 321.3h0M469.2 302.4h0M469.6 306.3h0M469.2 314.2h0M469.4 303.3h0M469.7 307.5h0M469.8 298.4h0M470 316.5h0M469.6 303h0M469.7 297.4h0M469.7 303.8h0M470.4 315h0M470.4 300.3h0M470.3 315.4h0M470.5 315.4h0M470.3 296.8h0M470 319.4h0M470.4 302.2h0M470.8 311.7h0M470.3 313.8h0M471 298.2h0M471 320.4h0M470.8 311.7h0M471.2 298.1h0M470.7 320.3h0M471.2 312.7h0M471.4 311.3h0M470.9 310.7h0M471.1 316h0M471.3 309.5h0M471 320.6h0M471.1 319.4h0M471.8 319.2h0M471.7 306h0M471.7 296.2h0M471.5 320.2h0M472.1 298.5h0M471.9 319.9h0M471.7 301h0M471.7 312.7h0M471.8 307.7h0M472.4 313.5h0M472.1 321.2h0M472.3 317.7h0M472.4 314.1h0M472.2 316.4h0M472.7 310.6h0M472.8 299.9h0M472.5 320.3h0M472.3 316.1h0M472.8 318.1h0M472.6 306.3h0M473 319h0M472.6 311h0M472.6 297.6h0M472.8 310.1h0M473 302.1h0M473.1 307.1h0M473.5 315.9h0M473.6 320.2h0M473.1 307.1h0M473.7 308.7h0M473.4 310.6h0M473.7 304h0M473.7 313.3h0M473.8 311.9h0M473.4 316.2h0M473.9 300.9h0M473.7 300.2h0M474 318.2h0M473.9 310.1h0M473.7 303.8h0M473.7 304.6h0M474.2 307.8h0M474.1 307.1h0M474.1 300.8h0M474 306.4h0M474.8 319.6h0M474.7 312.3h0M474.3 301.9h0M474.9 305h0M474.4 308.4h0M474.4 321h0M474.8 299.6h0M474.7 311.8h0M475 320.3h0M474.9 314.8h0M474.8 301h0M474.8 298.2h0M475.6 314h0M475.2 313.3h0M475.1 312.7h0M475.1 296.8h0M475.8 318.3h0M475.8 302.3h0M475.7 311.5h0M475.3 306.3h0M476.1 297.6h0M476 316.7h0M476.1 317h0M475.9 314.1h0M476 310.3h0M476 308.9h0M476.4 298.8h0M476.5 316.5h0M475.9 308.5h0M476.5 313.8h0M476 303.8h0M476.1 312.1h0M476.8 313h0M476.7 298.6h0M476.5 319.9h0M476.5 311.3h0M476.9 312.4h0M477.1 304.5h0M477 316.4h0M476.7 311.5h0M476.9 312.7h0M477.3 308.6h0M477.1 304.6h0M477.2 315.8h0M477.5 312.9h0M477.3 312.4h0M477.4 300h0M477.9 318.2h0M477.6 310.7h0M477.8 302.7h0M477.9 317.2h0M477.9 310.8h0M477.6 303.9h0M477.8 299h0M478.1 319.1h0M478.2 315.7h0M478.4 318.1h0M478.3 321.5h0M478.3 312.9h0M478.7 313.2h0M478.4 299.8h0M478.5 304.8h0M478.4 312.2h0M478.6 304h0M478.7 316.1h0M478.4 306h0M478.5 309.8h0M479.1 304.9h0M478.8 306h0M479.3 307.3h0M478.7 298.5h0M479.4 316h0M479.3 319.5h0M479.5 312.6h0M479.1 308.7h0M479.2 318.2h0M479.1 307.3h0M479.7 310h0M479.3 319.5h0M479.6 316.4h0M479.9 320.3h0M479.8 315.9h0M480.2 316.1h0M479.5 302.7h0M480.2 303.4h0M480 320h0M480.3 307.3h0M480.6 305.7h0M480.1 304.7h0M480.1 294.4h0M480.3 318h0M480.6 308.5h0M480.4 297.3h0M480.3 311.8h0M480.5 313.6h0M480.5 296.5h0M480.5 312.5h0M481.1 315.9h0M481 320.2h0M480.7 312.3h0M480.8 312.7h0M481 310.8h0M481.2 306.2h0M481.3 310.6h0M481.2 302h0M481.6 306.1h0M481.3 310.2h0M481.2 313.2h0M481.6 304.8h0M481.8 310.7h0M481.8 313.8h0M481.4 317.7h0M482.2 298h0M482.2 298.9h0M482 320.8h0M481.8 319.7h0M481.8 309.1h0M482 320.4h0M482.1 308.9h0M482.5 315.9h0M482.1 316.5h0M482.7 307.3h0M482.6 302.6h0M482.3 319.7h0M153.2 316.9h0M160.1 327.5h0M159 286.3h0M161.7 303.5h0M161.9 273.2h0M168.2 315.8h0M167.3 326.1h0M158.7 328h0M167.9 323.7h0M165.8 321.9h0M166.9 321h0M167.4 314.9h0M160.5 328.7h0M161.2 325.3h0M156.6 313.9h0M154.7 320.8h0M165.9 303h0M156.5 315.9h0M163.1 297.3h0M165.6 305.4h0M160.3 311h0M150.9 308.9h0M163.3 287.2h0M161.6 316.1h0M159.7 319.3h0M150.9 317h0M166.6 315.3h0M150.8 297.4h0M167.8 327.7h0M152.6 299.1h0M162.5 326.5h0M167 324.2h0M163.8 317.2h0M161.7 303.4h0M156.3 315.2h0M167.2 298.6h0M162.3 308.1h0M164.5 287.8h0M158.8 328.1h0M153.7 307.3h0M156.7 326.8h0M156.6 306.6h0M154.6 321.4h0M166.2 302h0M169 318.2h0M193.5 323.5h0M171.5 298h0M186.8 325.3h0M198.8 293.1h0M194.7 281.6h0M178 291.3h0M171.2 320.4h0M169.4 317.5h0M181 325.2h0M176.2 319.8h0M169.9 311.6h0M179.6 323.9h0M177 306.4h0M198.9 325.1h0M196.1 317.1h0M193 313h0M189.5 302.9h0M185.3 325.5h0M184.2 327.9h0M195.7 287.1h0M192 322.3h0M187.8 277.5h0M169.9 302.3h0M169.5 293.5h0M180.2 328.3h0M169.3 284.8h0M190 326.4h0M190 312.7h0M182.8 321.3h0M176.2 323.9h0M168.9 296.5h0M194.8 302h0M182.9 324.5h0M176.8 297.4h0M192.2 325.2h0M185.9 327.8h0M178.2 322.7h0M183.3 297h0M178.1 291.9h0M181.9 281.6h0M194.8 292h0M195.5 328.3h0M193.1 323h0M168.5 291.1h0M168.4 283.4h0M177 323h0M193.8 322.5h0M198.1 314.4h0M174.3 311.9h0M172.6 301.4h0M195.3 319.5h0M200.7 315.6h0M194.1 316.8h0M195.3 315.8h0M171 329h0M186.9 324.4h0M188.5 323.4h0M190.5 327.3h0M188.8 326.1h0M195.8 309.2h0M170.7 283.3h0M199.6 290.8h0M191 321.3h0M185.8 271h0M173.1 326.8h0M191.2 316.3h0M170.1 315.7h0M168.6 317.6h0M190.3 319.3h0M172.4 327.8h0M181.4 298.2h0M172.4 328.8h0M190.5 305.3h0M199.8 323.3h0M177.4 318.3h0M192.7 297h0M200.9 329.9h0M194.5 319.9h0M191 329.5h0M179.7 302.6h0M182.6 315.4h0M194.8 306.7h0M180.7 315.1h0M177.9 323.2h0M177.4 287.4h0M196.8 305.2h0M187.3 324.2h0M189 329.1h0M185.7 282.7h0M179.4 326h0M199.1 318h0M187.6 318.9h0M176.7 327h0M199.8 306.9h0M176.4 306.2h0M172.7 324.8h0M171.8 284.7h0M168.8 317.5h0M199.3 325.1h0M192 303.9h0M171.2 309.8h0M182.4 315h0M189.4 289h0M200.1 313.4h0M187.9 325.5h0M175.3 300h0M197.4 326.6h0M197.9 329h0M197.1 329.5h0M170.6 294h0M175.9 326.7h0M175.4 273.3h0M196.4 313.9h0M176.3 302.4h0M171.6 328.7h0M188 327.5h0M170.2 327.9h0M186 324.2h0M180.4 326.9h0M183.3 320.1h0M175.6 319.1h0M200.6 306.3h0M173.9 327.3h0M183.8 328.7h0M187.3 306.1h0M195.1 320.3h0M176.6 302.7h0M179.6 310.7h0M200.7 296.5h0M197 302.7h0M178.8 305h0M198.2 305.6h0M176.9 313.3h0M175.7 315h0M176.2 316.2h0M179.1 298.2h0M197.4 315.5h0M189.6 310.6h0M193.8 328.8h0M193.6 317.4h0M171.5 326.1h0M194.7 308.2h0M175 308h0M198.3 328h0M196.8 326.9h0M193.9 326.4h0M169.3 318h0M177.2 314.6h0M183.2 326.8h0M189.5 326.8h0M175.9 328.6h0M197.7 324.1h0M169.1 292.5h0M182.2 264.2h0M200.7 313.9h0M176 262.8h0M174.4 327.8h0M186.8 319.4h0M187.3 319.1h0M174.8 323.2h0M178.7 298h0M193 296.2h0M192.6 320h0M190.1 322h0M173.8 283.7h0M175.1 327.1h0M183.7 317.7h0M175.2 311.7h0M184.2 324.5h0M172.7 314h0M183.9 322.5h0M203.5 317.6h0M209.5 327.3h0M209.3 315.7h0M212.1 329.7h0M213.4 318.3h0M208.6 296.8h0M207.9 292.7h0M213.2 326.1h0M211.7 286.9h0M208.5 327.5h0M205.2 322.5h0M210.1 312.6h0M212.5 330h0M208.2 323.9h0M208.7 285.5h0M207.1 301.7h0M201.9 309h0M203.9 314.5h0M213.7 300.5h0M205.9 323.2h0M211 314.5h0M204.1 325.3h0M211 320.3h0M201.3 316h0M214 318.3h0M209.2 327h0M202 272.4h0M152.4 324.3h0M194.6 315.8h0M166.6 326.9h0M182.8 323.7h0M181.1 329.3h0M187.7 327.1h0M175.5 328.2h0M167.7 325.5h0M151.6 323.8h0M166.8 327.2h0M190 319.5h0M153.8 328.3h0M159.5 324.4h0M160.6 323.5h0M165.7 324h0M166.9 328.3h0M175.8 324.5h0M151.4 324.7h0M186.1 327h0M164.2 326.7h0M162.8 317.1h0M169.8 326.3h0M170.3 325.4h0M185.9 320.3h0M162.8 324.3h0M197.4 319.2h0M198.9 329.5h0M151.3 318h0M190.4 321.3h0M184.9 322.4h0M162.5 321.1h0M189.2 306.3h0M182.1 327.9h0M177.9 326.7h0M169.2 321.2h0M154.5 327.3h0M184.9 324h0M175.8 320.8h0M154.1 328.8h0M157 311.3h0M153.1 326h0M150.3 321h0M185.5 327.4h0M165.4 324.7h0M167.5 315.1h0M237.6 305.2h0M241.7 290.1h0M232.5 313.1h0M235 306.6h0M230 292.2h0M236.8 320.4h0M219.8 312.5h0M239.9 319h0M229.6 323.2h0M244.1 291.3h0M238.8 317.1h0M233.6 318.7h0M233.7 310.5h0M225 326.4h0M242.6 319.7h0M234.5 319.7h0M216.7 327h0M219.8 329.7h0M241.6 318.3h0M238.1 297.2h0M221.5 288.4h0M220.5 329.4h0M256 314.7h0M263.3 314.7h0M251.6 318.2h0M256.3 303.4h0M262.5 317.3h0M249.9 313.5h0M255.7 313.8h0M253.3 316h0M257 318h0M254.4 311.8h0M245.1 317.8h0M252.7 314.4h0M246.3 314.4h0M313.1 308.5h0M299.1 312.2h0M316 304h0M288.9 298.3h0M270.7 314.6h0M319.6 303.2h0M276.4 313.6h0M308.5 312.7h0M331.6 310.6h0M287.6 306.9h0M344.8 312.5h0M322.6 303.5h0M287.4 310h0M313.7 313.1h0M338.8 305.4h0M303.9 306.7h0M276.8 309.4h0M304.9 311.3h0M275 313.3h0M324.3 310.5h0M331.8 311h0M319.1 303.8h0M266 309.6h0M316.3 308.4h0M272.4 315.7h0M320.8 305.5h0M296.6 310.9h0M284.2 310.8h0M334.9 312.5h0M268.6 306.9h0M358 291.8h0M412.9 301.6h0M403.5 301.5h0M351.1 302.7h0M422.7 300.4h0M411.6 293.2h0M361.5 294.2h0M406.2 297.5h0M424.3 297.4h0M417.6 291.2h0M365 295.1h0M376.6 300.6h0M368.7 299.7h0M418 300h0M367.3 302.6h0M362.4 302.4h0M405.3 294.4h0M411.1 300.1h0M430.8 302.8h0M385.8 300.3h0M362 299.5h0M377.7 297.6h0M401.2 297.7h0M387.6 300.3h0M379.4 302.3h0M383.2 292.2h0M361.5 299.1h0M364.6 302.4h0M445.5 287.2h0M477.5 293.3h0M459.3 292.2h0M466.8 293.3h0M455.8 287.6h0M477 291.5h0M460.5 291.2h0M461.7 287h0M477.1 286.5h0M450.8 291.4h0M463.5 289.9h0M456.3 291.6h0M466.2 292.9h0M217.1 301.4h0M217.2 303.8h0M217.3 311.9h0M218.1 285.3h0M217.2 276.4h0M216.7 297.6h0M217.3 282h0M217.2 285.5h0M217.1 286h0M216.7 283.4h0M217.1 277.3h0M218 328.1h0M216.6 308.4h0M218.1 320.5h0M224.9 359.2h0M237.6 303.5h0M239.1 285.4h0M238.5 314.4h0M238.4 286.9h0M238.4 285.7h0M238.8 295h0M238.9 321.2h0M229.4 272.5h0M229.3 302.2h0M229.7 320.9h0M228.6 314.5h0M229.2 280.3h0M77.7 43.3h0M77.7 80.9h0M78.5 246.8h0M170.5 32.5h0M219.2 170.2h0M186 177.1h0M193.9 190.5h0M191.7 195.3h0M219.2 193.6h0M202.5 206.1h0M172.4 216.5h0M174.5 219.6h0M229.7 224.4h0M241.4 223.5h0M152.3 228.3h0M170.5 236.1h0M170.5 241.9h0M196.8 240.9h0M179.3 246.9h0M148.2 246.9h0M148.2 251.7h0M171.3 251.7h0M168.6 253.4h0M163.7 255.6h0M194.8 252.6h0M183.2 259.3h0M184.1 261h0M201.6 259.4h0M178.3 266.1h0M172 269.5h0M188 269.5h0M194.6 269.5h0M218.3 268h0M229.7 268.8h0M135.7 260.5h0M108.4 280.6h0M131.8 278.9h0M148.3 284.9h0M150.1 290.4h0M131.8 298.7h0M133.7 301h0M157 295h0M151.2 302h0M156.7 301.6h0M157.8 309.5h0M104.4 313.4h0M107.4 317.1h0M93 318.3h0M127.8 314.1h0M127.8 318.3h0M131.8 318.3h0M137.3 314.1h0M136.4 315.4h0M143.6 314.5h0M149.5 312.5h0M150.1 317.4h0M98.9 323h0M112 323.3h0M138.6 323.3h0M143.6 325.3h0M148.2 323h0M152.5 327.2h0M91.7 327.5h0M100.9 327.5h0M104.8 328.3h0M112.7 327.5h0M127.2 327.9h0M249 203h0M241.4 223.5h0M230 224.7h0M230 268.8h0M238.5 273.7h0M249.3 270h0M237.3 289h0M237.3 296h0M249.3 289h0M249.3 291h0M249.3 297.7h0M260.7 290.4h0M262.7 294.7h0M260.7 305h0M262.7 306.4h0M281.4 255.6h0M285.2 262h0M285.2 272.8h0M296.6 274.9h0M274.4 280.4h0M287 279.6h0M282 286h0M287.8 288.3h0M276.7 294.7h0M282 297h0M317.6 281.3h0M336.3 266.1h0M340.4 275.8h0M339.5 281h0M338.6 295.6h0M339.5 298.2h0M351.8 262.9h0M370.1 235.8h0M369.3 260h0M369.3 267h0M370.1 273.7h0M382.7 275.5h0M395.5 268.8h0M396.4 271.7h0M394.4 293h0M414.8 250.4h0M417.7 268.8h0M414.8 298.5h0M462.3 165.2h0M460.4 195.2h0M460.4 196.8h0M470.1 218.6h0M461.5 229.4h0M475.8 235.1h0M462.3 235.9h0M464.3 240h0M448 240.7h0M414.9 250.6h0M440 252.2h0M466.4 253.3h0M474.9 262.1h0M464.3 265.1h0M455.6 266.9h0M417.7 269h0M471.2 271.7h0M479.9 275.8h0M469.1 280.5h0M481.8 284.2h0M460.4 285.1h0M462.3 287.2h0M466.4 288.3h0M478 287.5h0M436.2 285.7h0M438.1 286.6h0M448.7 288.5h0M432.5 293.1h0M466.4 293.1h0M414.9 298.3h0" stroke="#000" stroke-width="4.2" stroke-linecap="round" fill="none"/>
<rect x="49.6" y="16.25" width="634.6999999999999" height="367.45" fill="none" stroke="#404040" stroke-width="1.1"/>
<path d="M77.2 383.7v3.4M170.8 383.7v3.4M267.4 383.7v3.4M364.1 383.7v3.4M462.4 383.7v3.4M559.1 383.7v3.4M655.8 383.7v3.4M49.6 362.1h-3.4M49.6 313.3h-3.4M49.6 264.4h-3.4M49.6 215.6h-3.4M49.6 166.7h-3.4M49.6 117.9h-3.4M49.6 69h-3.4M49.6 20.2h-3.4" stroke="#404040" stroke-width="1" fill="none"/>
<text transform="translate(40.6,366.8) scale(1,1.07)" font-size="10.4" text-anchor="end" textLength="19.4" lengthAdjust="spacingAndGlyphs">15.0</text>
<text transform="translate(40.6,317.9) scale(1,1.07)" font-size="10.4" text-anchor="end" textLength="19.4" lengthAdjust="spacingAndGlyphs">17.5</text>
<text transform="translate(40.6,269.1) scale(1,1.07)" font-size="10.4" text-anchor="end" textLength="19.4" lengthAdjust="spacingAndGlyphs">20.0</text>
<text transform="translate(40.6,220.2) scale(1,1.07)" font-size="10.4" text-anchor="end" textLength="19.4" lengthAdjust="spacingAndGlyphs">22.5</text>
<text transform="translate(40.6,171.3) scale(1,1.07)" font-size="10.4" text-anchor="end" textLength="19.4" lengthAdjust="spacingAndGlyphs">25.0</text>
<text transform="translate(40.6,122.5) scale(1,1.07)" font-size="10.4" text-anchor="end" textLength="19.4" lengthAdjust="spacingAndGlyphs">27.5</text>
<text transform="translate(40.6,73.6) scale(1,1.07)" font-size="10.4" text-anchor="end" textLength="19.4" lengthAdjust="spacingAndGlyphs">30.0</text>
<text transform="translate(40.6,24.8) scale(1,1.07)" font-size="10.4" text-anchor="end" textLength="19.4" lengthAdjust="spacingAndGlyphs">32.5</text>
<text transform="translate(76.7,397.2) scale(1,1.07)" font-size="10.4" text-anchor="middle" textLength="38.8" lengthAdjust="spacingAndGlyphs">2019-01</text>
<text transform="translate(170.2,397.2) scale(1,1.07)" font-size="10.4" text-anchor="middle" textLength="38.8" lengthAdjust="spacingAndGlyphs">2019-03</text>
<text transform="translate(266.8,397.2) scale(1,1.07)" font-size="10.4" text-anchor="middle" textLength="38.8" lengthAdjust="spacingAndGlyphs">2019-05</text>
<text transform="translate(363.5,397.2) scale(1,1.07)" font-size="10.4" text-anchor="middle" textLength="38.8" lengthAdjust="spacingAndGlyphs">2019-07</text>
<text transform="translate(461.8,397.2) scale(1,1.07)" font-size="10.4" text-anchor="middle" textLength="38.8" lengthAdjust="spacingAndGlyphs">2019-09</text>
<text transform="translate(558.5,397.2) scale(1,1.07)" font-size="10.4" text-anchor="middle" textLength="38.8" lengthAdjust="spacingAndGlyphs">2019-11</text>
<text transform="translate(655.2,397.2) scale(1,1.07)" font-size="10.4" text-anchor="middle" textLength="38.8" lengthAdjust="spacingAndGlyphs">2020-01</text>
<text transform="translate(365.7,415.1) scale(1,1.07)" font-size="10.6" text-anchor="middle" textLength="29.6" lengthAdjust="spacingAndGlyphs">Month</text>
<text transform="translate(365,10.0) scale(1,1.03)" font-size="13" text-anchor="middle" textLength="40.5" lengthAdjust="spacingAndGlyphs">Atlanta</text>
<text transform="translate(9.2,199.5) rotate(-90)" font-size="10.7" text-anchor="middle" textLength="132" lengthAdjust="spacingAndGlyphs">Average hourly fares (USD)</text>
<path d="M68.7 457.8V826.4M163.4 457.8V826.4M261.3 457.8V826.4M359.2 457.8V826.4M458.7 457.8V826.4M556.6 457.8V826.4M654.5 457.8V826.4M39.5 825.5H684.3M39.5 750.5H684.3M39.5 675.5H684.3M39.5 600.5H684.3M39.5 525.5H684.3" stroke="#e6e6e6" stroke-width="1" fill="none"/>
<path d="M478.6 750L478.8 713.2L479.5 713.2L479.6 749.9L480.2 749.8L480.4 714L481.1 713.9L481.2 749.7L481.8 749.7L482 713.6L482.7 713.6L482.9 749.6L483.4 749.5L483.6 710L484.3 709.9L484.5 749.4L485 749.3L485.2 714.4L485.9 714.4L486.1 749.2L486.6 749.2L486.8 719.1L487.5 719.1L487.7 749.1L488.2 749L488.4 714.4L489.1 714.3L489.3 748.9L489.8 748.9L490 712.1L490.7 712.1L490.9 748.7L491.4 748.7L491.6 709.4L492.3 709.3L492.5 748.6L493 748.5L493.2 710.6L493.9 710.5L494.1 748.4L494.6 748.4L494.8 712.9L495.5 712.8L495.7 748.3L496.3 748.2L496.4 712.9L497.1 712.9L497.3 748.1L497.9 748L498 716.9L498.7 716.9L498.9 747.9L499.5 747.9L499.6 711.2L500.3 711.1L500.5 747.8L501.1 747.7L501.2 709.6L502 709.6L502.1 747.6L502.7 747.5L502.8 713.3L503.6 713.3L503.7 747.4L504.3 747.4L504.4 709.7L505.2 709.7L505.3 747.3L505.9 747.2L506 710.8L506.8 710.8L506.9 747.1L507.5 747L507.7 709L508.4 709L508.5 746.9L509.1 746.9L509.3 716.3L510 716.2L510.1 746.8L510.7 746.7L510.9 714.7L511.6 714.6L511.7 746.6L512.3 746.6L512.5 709.4L513.2 709.3L513.3 746.4L513.9 746.4L514.1 708.1L514.8 708L515 746.3L515.5 746.2L515.7 708.7L516.4 708.7L516.6 746.1L517.1 746.1L517.3 707.1L518 707L518.2 746L518.7 745.9L518.9 708.6L519.6 708.5L519.8 745.8L520.3 745.7L520.5 715.8L521.2 715.7L521.4 745.6L521.9 745.6L522.1 710.6L522.8 710.5L523 745.5L523.5 745.4L523.7 709.9L524.4 709.8L524.6 745.3L525.1 745.2L525.3 711.1L526 711L526.2 745.1L526.8 745.1L526.9 709.8L527.6 709.7L527.8 745L528.4 744.9L528.5 705.9L529.2 705.8L529.4 744.8L530 744.7L530.1 707.5L530.8 707.4L531 744.6L531.6 744.6L531.7 710.5L532.4 710.4L532.6 744.5L533.2 744.4L533.3 708.6L534.1 708.5L534.2 744.3L534.8 744.3L534.9 706L535.7 705.9L535.8 744.1L536.4 744.1L536.5 709.5L537.3 709.4L537.4 744L538 743.9L538.1 706.3L538.9 706.2L539 743.8L539.6 743.8L539.8 707L540.5 706.9L540.6 743.7L541.2 743.6L541.4 704.7L542.1 704.6L542.2 743.5L542.8 743.4L543 712.9L543.7 712.8L543.8 743.3L544.4 743.3L544.6 706.4L545.3 706.3L545.4 743.2L546 743.1L546.2 704L546.9 703.9L547.1 743L547.6 742.9L547.8 706.3L548.5 706.2L548.7 742.8L549.2 742.8L549.4 704.7L550.1 704.6L550.3 742.7L550.8 742.6L551 705.5L551.7 705.4L551.9 742.5L552.4 742.4L552.6 704.2L553.3 704L553.5 742.3L554 742.3L554.2 707.7L554.9 707.6L555.1 742.2L555.6 742.1L555.8 708L556.5 707.9L556.7 742L557.2 742L557.4 702.6L558.1 702.5L558.3 741.9L558.9 741.8L559 706.5L559.7 706.4L559.9 741.7L560.5 741.6L560.6 703.3L561.3 703.2L561.5 741.5L562.1 741.5L562.2 704L562.9 703.9L563.1 741.4L563.7 741.3L563.8 703.1L564.5 702.9L564.7 741.2L565.3 741.1L565.4 705.8L566.2 705.7L566.3 741L566.9 741L567 702.9L567.8 702.8L567.9 740.9L568.5 740.8L568.6 704.2L569.4 704L569.5 740.7L570.1 740.6L570.2 703.4L571 703.2L571.1 740.5L571.7 740.5L571.9 702.6L572.6 702.4L572.7 740.4L573.3 740.3L573.5 699.7L574.2 699.5L574.3 740.2L574.9 740.2L575.1 699.6L575.8 699.5L575.9 740L576.5 740L576.7 705L577.4 704.9L577.5 739.9L578.1 739.8L578.3 705.8L579 705.6L579.2 739.7L579.7 739.7L579.9 702.8L580.6 702.7L580.8 739.6L581.3 739.5L581.5 700.1L582.2 700L582.4 739.4L582.9 739.3L583.1 699.7L583.8 699.6L584 739.2L584.5 739.2L584.7 699.1L585.4 698.9L585.6 739.1L586.1 739L586.3 698.6L587 698.5L587.2 738.9L587.7 738.8L587.9 706.2L588.6 706.1L588.8 738.7L589.3 738.7L589.5 701.1L590.2 701L590.4 738.6L591 738.5L591.1 696.2L591.8 696.1L592 738.4L592.6 738.3L592.7 699.4L593.4 699.2L593.6 738.2L594.2 738.2L594.3 696.9L595 696.8L595.2 738.1L595.8 738L595.9 698.7L596.6 698.5L596.8 737.9L597.4 737.9L597.5 697.8L598.3 697.6L598.4 737.7L599 737.7L599.1 700.9L599.9 700.8L600 737.6L600.6 737.5L600.7 697.7L601.5 697.5L601.6 737.4L602.2 737.4L602.3 697.3L603.1 697.1L603.2 737.3L603.8 737.2L604 694.5L604.7 694.4L604.8 737.1L605.4 737L605.6 696L606.3 695.8L606.4 736.9L607 736.9L607.2 692.4L607.9 692.3L608 736.8L608.6 736.7L608.8 693.3L609.5 693.1L609.6 736.6L610.2 736.5L610.4 699L611.1 698.8L611.3 736.4L611.8 736.4L612 697L612.7 696.9L612.9 736.3L613.4 736.2L613.6 692.6L614.3 692.5L614.5 736.1L615 736L615.2 694.2L615.9 694.1L616.1 735.9L616.6 735.9L616.8 691.9L617.5 691.7L617.7 735.8L618.2 735.7L618.4 694.1L619.1 694L619.3 735.6L619.8 735.6L620 694.3L620.7 694.1L620.9 735.4L621.4 735.4L621.6 696.6L622.3 696.4L622.5 735.3L623.1 735.2L623.2 691.9L623.9 691.8L624.1 735.1L624.7 735.1L624.8 692.9L625.5 692.7L625.7 735L626.3 734.9L626.4 691.3L627.1 691.1L627.3 734.8L627.9 734.7L628 691.1L628.7 690.9L628.9 734.6L629.5 734.6L629.6 690.9L630.4 690.7L630.5 734.5L631.1 734.4L631.2 689.9L632 689.8L632.1 734.3L632.7 734.2L632.8 694.3L633.6 694.1L633.7 734.1L634.3 734.1L634.4 691.5L635.2 691.3L635.3 734L635.9 733.9L636.1 685.5L636.8 685.3L636.9 733.8L637.5 733.7L637.7 687.2L638.4 687L638.5 733.6L639.1 733.6L639.3 685.6L640 685.4L640.1 733.5L640.7 733.4L640.9 687.3L641.6 687.1L641.7 733.3L642.3 733.3L642.5 686L643.2 685.8L643.4 733.2L643.9 733.1L644.1 688.5L644.8 688.3L645 733L645.5 732.9L645.7 686.9L646.4 686.7L646.6 732.8L647.1 732.8L647.3 683.3L648 683.1L648.2 732.7L648.7 732.6L648.9 684.2L649.6 684L649.8 732.5L650.3 732.4L650.5 684.5L651.2 684.3L651.4 732.3L651.9 732.3L652.1 682.2L652.8 682L653 732.2L653.5 732.1L653.7 680.6L654.4 680.4L654.6 732L654.6 732L654.6 686.7L654.6 686.7L654.6 732L654.6 751L654.6 797.8L654.6 797.8L654.6 751L654.6 751L654.4 792.7L653.7 792.7L653.5 751.1L653 751.1L652.8 795.1L652.1 795.1L651.9 751.2L651.4 751.3L651.2 793.5L650.5 793.5L650.3 751.3L649.8 751.4L649.6 792.4L648.9 792.4L648.7 751.5L648.2 751.5L648 790.6L647.3 790.6L647.1 751.6L646.6 751.6L646.4 793.8L645.7 793.8L645.5 751.7L645 751.8L644.8 796L644.1 796L643.9 751.8L643.4 751.9L643.2 791.4L642.5 791.4L642.3 752L641.7 752L641.6 790.4L640.9 790.4L640.7 752.1L640.1 752.1L640 793.6L639.3 793.6L639.1 752.2L638.5 752.3L638.4 793.4L637.7 793.4L637.5 752.4L636.9 752.4L636.8 790.9L636.1 790.9L635.9 752.5L635.3 752.5L635.2 796.2L634.4 796.2L634.3 752.6L633.7 752.7L633.6 798.9L632.8 798.9L632.7 752.7L632.1 752.8L632 792.1L631.2 792.1L631.1 752.9L630.5 752.9L630.4 792.9L629.6 792.9L629.5 753L628.9 753L628.7 790.8L628 790.8L627.9 753.1L627.3 753.2L627.1 793.5L626.4 793.5L626.3 753.3L625.7 753.3L625.5 792.3L624.8 792.3L624.7 753.4L624.1 753.4L623.9 796.6L623.2 796.6L623.1 753.5L622.5 753.6L622.3 797.6L621.6 797.6L621.4 753.6L620.9 753.7L620.7 794.7L620 794.7L619.8 753.8L619.3 753.8L619.1 793.4L618.4 793.4L618.2 753.9L617.7 753.9L617.5 794.1L616.8 794.1L616.6 754L616.1 754.1L615.9 794.1L615.2 794.1L615 754.1L614.5 754.2L614.3 793.2L613.6 793.2L613.4 754.3L612.9 754.3L612.7 796.4L612 796.4L611.8 754.4L611.3 754.4L611.1 799L610.4 799.1L610.2 754.5L609.6 754.6L609.5 793.3L608.8 793.4L608.6 754.7L608 754.7L607.9 792.7L607.2 792.8L607 754.8L606.4 754.8L606.3 792.9L605.6 793L605.4 754.9L604.8 755L604.7 794.8L604 794.8L603.8 755L603.2 755.1L603.1 793.6L602.3 793.6L602.2 755.2L601.6 755.2L601.5 795.1L600.7 795.1L600.6 755.3L600 755.3L599.9 798.7L599.1 798.7L599 755.4L598.4 755.5L598.3 794L597.5 794L597.4 755.6L596.8 755.6L596.6 793.7L595.9 793.8L595.8 755.7L595.2 755.7L595 794.2L594.3 794.3L594.2 755.8L593.6 755.9L593.4 794.7L592.7 794.7L592.6 755.9L592 756L591.8 791.8L591.1 791.8L591 756.1L590.4 756.1L590.2 794.7L589.5 794.7L589.3 756.2L588.8 756.2L588.6 798.7L587.9 798.7L587.7 756.3L587.2 756.4L587 795.6L586.3 795.6L586.1 756.4L585.6 756.5L585.4 791.4L584.7 791.5L584.5 756.6L584 756.6L583.8 792.2L583.1 792.3L582.9 756.7L582.4 756.7L582.2 794.5L581.5 794.5L581.3 756.8L580.8 756.9L580.6 793.2L579.9 793.2L579.7 757L579.2 757L579 797.8L578.3 797.8L578.1 757.1L577.5 757.1L577.4 798.4L576.7 798.4L576.5 757.2L575.9 757.3L575.8 795.4L575.1 795.5L574.9 757.3L574.3 757.4L574.2 793.5L573.5 793.5L573.3 757.5L572.7 757.5L572.6 795.3L571.9 795.4L571.7 757.6L571.1 757.6L571 796.2L570.2 796.3L570.1 757.7L569.5 757.8L569.4 792.2L568.6 792.3L568.5 757.9L567.9 757.9L567.8 796.7L567 796.7L566.9 758L566.3 758L566.2 801.4L565.4 801.4L565.3 758.1L564.7 758.2L564.5 794L563.8 794.1L563.7 758.2L563.1 758.3L562.9 796.2L562.2 796.2L562.1 758.4L561.5 758.4L561.3 793.3L560.6 793.4L560.5 758.5L559.9 758.5L559.7 795L559 795L558.9 758.6L558.3 758.7L558.1 792.7L557.4 792.7L557.2 758.7L556.7 758.8L556.5 800L555.8 800.1L555.6 758.9L555.1 758.9L554.9 798.4L554.2 798.5L554 759L553.5 759L553.3 793.7L552.6 793.8L552.4 759.1L551.9 759.2L551.7 794.5L551 794.6L550.8 759.3L550.3 759.3L550.1 797.7L549.4 797.8L549.2 759.4L548.7 759.4L548.5 797.8L547.8 797.9L547.6 759.5L547.1 759.6L546.9 795.1L546.2 795.2L546 759.6L545.4 759.7L545.3 800.8L544.6 800.9L544.4 759.8L543.8 759.8L543.7 803L543 803.1L542.8 759.9L542.2 759.9L542.1 797.6L541.4 797.7L541.2 760L540.6 760.1L540.5 797.9L539.8 798L539.6 760.1L539 760.2L538.9 796L538.1 796.1L538 760.3L537.4 760.3L537.3 799.1L536.5 799.2L536.4 760.4L535.8 760.4L535.7 798.3L534.9 798.4L534.8 760.5L534.2 760.6L534.1 802L533.3 802.1L533.2 760.7L532.6 760.7L532.4 800.2L531.7 800.2L531.6 760.8L531 760.8L530.8 798L530.1 798.1L530 760.9L529.4 761L529.2 799.2L528.5 799.3L528.4 761L527.8 761.1L527.6 799.7L526.9 799.8L526.8 761.2L526.2 761.2L526 795.8L525.3 795.9L525.1 761.3L524.6 761.3L524.4 796.2L523.7 796.3L523.5 761.4L523 761.5L522.8 801L522.1 801.1L521.9 761.6L521.4 761.6L521.2 803.7L520.5 803.8L520.3 761.7L519.8 761.7L519.6 798.1L518.9 798.2L518.7 761.8L518.2 761.9L518 800.1L517.3 800.2L517.1 761.9L516.6 762L516.4 800L515.7 800L515.5 762.1L515 762.1L514.8 797.5L514.1 797.6L513.9 762.2L513.3 762.2L513.2 798.2L512.5 798.3L512.3 762.3L511.7 762.4L511.6 801.6L510.9 801.7L510.7 762.4L510.1 762.5L510 807.7L509.3 807.8L509.1 762.6L508.5 762.6L508.4 802.8L507.7 802.9L507.5 762.7L506.9 762.7L506.8 801.7L506 801.8L505.9 762.8L505.3 762.9L505.2 803.3L504.4 803.5L504.3 763L503.7 763L503.6 803.1L502.8 803.3L502.7 763.1L502.1 763.1L502 800.1L501.2 800.2L501.1 763.2L500.5 763.3L500.3 806.1L499.6 806.3L499.5 763.3L498.9 763.4L498.7 805.2L498 805.3L497.9 763.5L497.3 763.5L497.1 800.5L496.4 800.6L496.3 763.6L495.7 763.6L495.5 800.8L494.8 801L494.6 763.7L494.1 763.8L493.9 804.9L493.2 805L493 763.9L492.5 763.9L492.3 801.7L491.6 801.8L491.4 764L490.9 764L490.7 803.7L490 803.8L489.8 764.1L489.3 764.2L489.1 804.9L488.4 805L488.2 764.2L487.7 764.3L487.5 807L486.8 807.1L486.6 764.4L486.1 764.4L485.9 804.9L485.2 805.1L485 764.5L484.5 764.5L484.3 804.3L483.6 804.4L483.4 764.6L482.9 764.7L482.7 806.9L482 807L481.8 764.7L481.2 764.8L481.1 807.3L480.4 807.4L480.2 764.9L479.6 764.9L479.5 806.5L478.8 806.7L478.6 765Z" fill="#0072B2" fill-opacity="0.2" stroke="#0072B2" stroke-opacity="0.2" stroke-width="0.45" stroke-linejoin="bevel"/>
<path d="M478.6 741L479 738.8L479.4 740.1L479.8 745.2L480.2 745.1L480.6 742.7L481 743.7L481.4 738.6L481.8 738.5L482.2 736.1L482.6 738.2L483 739.7L483.4 739.9L483.8 737.7L484.2 739L484.6 740.5L485 740.7L485.4 742.1L485.8 743.1L486.2 744.4L486.6 744.4L487 735.5L487.4 736.6L487.8 737.8L488.2 738.8L488.6 736.6L489 737.9L489.4 739.5L489.8 739.7L490.2 737.5L490.6 738.8L491 743.9L491.4 743.8L491.8 741.4L492.2 742.4L492.6 737.3L493 737.2L493.4 734.8L493.8 736.8L494.2 738.4L494.6 738.6L495.1 736.4L495.5 737.7L495.9 739.2L496.3 739.4L496.7 740.8L497.1 741.8L497.5 743.1L497.9 743.1L498.3 734.2L498.7 735.2L499.1 736.5L499.5 737.5L499.9 735.3L500.3 736.6L500.7 738.1L501.1 738.4L501.5 736.2L501.9 737.5L502.3 742.5L502.7 742.5L503.1 740L503.5 741.1L503.9 736L504.3 735.9L504.7 733.5L505.1 735.5L505.5 737.1L505.9 737.3L506.3 735.1L506.7 736.4L507.1 737.9L507.5 738.1L507.9 739.5L508.3 740.5L508.7 741.8L509.1 741.7L509.5 732.9L509.9 733.9L510.3 735.2L510.7 736.2L511.1 734L511.5 735.3L511.9 736.8L512.3 737L512.7 734.9L513.1 736.1L513.5 741.2L513.9 741.2L514.3 738.7L514.7 739.8L515.1 734.6L515.5 734.6L515.9 732.2L516.3 734.2L516.7 735.8L517.1 736L517.5 733.8L517.9 735.1L518.3 736.6L518.7 736.8L519.1 738.2L519.5 739.2L519.9 740.5L520.3 740.4L520.7 731.6L521.1 732.6L521.5 733.9L521.9 734.9L522.3 732.7L522.7 734L523.1 735.5L523.5 735.7L523.9 733.5L524.3 734.8L524.7 739.9L525.1 739.9L525.5 737.4L525.9 738.5L526.3 733.3L526.8 733.3L527.2 730.8L527.6 732.9L528 734.4L528.4 734.7L528.8 732.5L529.2 733.8L529.6 735.3L530 735.5L530.4 736.9L530.8 737.9L531.2 739.2L531.6 739.1L532 730.3L532.4 731.3L532.8 732.6L533.2 733.6L533.6 731.4L534 732.7L534.4 734.2L534.8 734.4L535.2 732.2L535.6 733.5L536 738.6L536.4 738.6L536.8 736.1L537.2 737.2L537.6 732L538 732L538.4 729.5L538.8 731.6L539.2 733.1L539.6 733.4L540 731.2L540.4 732.5L540.8 734L541.2 734.2L541.6 735.6L542 736.6L542.4 737.9L542.8 737.8L543.2 729L543.6 730L544 731.3L544.4 732.3L544.8 730.1L545.2 731.4L545.6 732.9L546 733.1L546.4 730.9L546.8 732.2L547.2 737.3L547.6 737.3L548 734.8L548.4 735.8L548.8 730.7L549.2 730.7L549.6 728.2L550 730.3L550.4 731.8L550.8 732L551.2 729.9L551.6 731.1L552 732.7L552.4 732.9L552.8 734.3L553.2 735.3L553.6 736.6L554 736.5L554.4 727.7L554.8 728.7L555.2 730L555.6 731L556 728.8L556.4 730.1L556.8 731.6L557.2 731.8L557.6 729.6L558 730.9L558.4 736L558.9 736L559.3 733.5L559.7 734.5L560.1 729.4L560.5 729.4L560.9 726.9L561.3 729L561.7 730.5L562.1 730.7L562.5 728.5L562.9 729.8L563.3 731.4L563.7 731.6L564.1 732.9L564.5 734L564.9 735.3L565.3 735.2L565.7 726.4L566.1 727.4L566.5 728.7L566.9 729.7L567.3 727.5L567.7 728.8L568.1 730.3L568.5 730.5L568.9 728.3L569.3 729.6L569.7 734.7L570.1 734.6L570.5 732.2L570.9 733.2L571.3 728.1L571.7 728.1L572.1 725.6L572.5 727.7L572.9 729.2L573.3 729.4L573.7 727.2L574.1 728.5L574.5 730.1L574.9 730.3L575.3 731.6L575.7 732.7L576.1 733.9L576.5 733.9L576.9 725L577.3 726.1L577.7 727.4L578.1 728.3L578.5 726.2L578.9 727.5L579.3 729L579.7 729.2L580.1 727L580.5 728.3L580.9 733.4L581.3 733.3L581.7 730.9L582.1 731.9L582.5 726.8L582.9 726.7L583.3 724.3L583.7 726.4L584.1 727.9L584.5 728.1L584.9 725.9L585.3 727.2L585.7 728.7L586.1 729L586.5 730.3L586.9 731.4L587.3 732.6L587.7 732.6L588.1 723.7L588.5 724.8L588.9 726L589.3 727L589.7 724.9L590.1 726.1L590.5 727.7L591 727.9L591.4 725.7L591.8 727L592.2 732.1L592.6 732L593 729.6L593.4 730.6L593.8 725.5L594.2 725.4L594.6 723L595 725.1L595.4 726.6L595.8 726.8L596.2 724.6L596.6 725.9L597 727.4L597.4 727.6L597.8 729L598.2 730.1L598.6 731.3L599 731.3L599.4 722.4L599.8 723.5L600.2 724.7L600.6 725.7L601 723.5L601.4 724.8L601.8 726.4L602.2 726.6L602.6 724.4L603 725.7L603.4 730.8L603.8 730.7L604.2 728.3L604.6 729.3L605 724.2L605.4 724.1L605.8 721.7L606.2 723.8L606.6 725.3L607 725.5L607.4 723.3L607.8 724.6L608.2 726.1L608.6 726.3L609 727.7L609.4 728.7L609.8 730L610.2 730L610.6 721.1L611 722.2L611.4 723.4L611.8 724.4L612.2 722.2L612.6 723.5L613 725.1L613.4 725.3L613.8 723.1L614.2 724.4L614.6 729.5L615 729.4L615.4 727L615.8 728L616.2 722.9L616.6 722.8L617 720.4L617.4 722.4L617.8 724L618.2 724.2L618.6 722L619 723.3L619.4 724.8L619.8 725L620.2 726.4L620.6 727.4L621 728.7L621.4 728.7L621.8 719.8L622.2 720.8L622.6 722.1L623.1 723.1L623.5 720.9L623.9 722.2L624.3 723.7L624.7 724L625.1 721.8L625.5 723.1L625.9 728.1L626.3 728.1L626.7 725.7L627.1 726.7L627.5 721.6L627.9 721.5L628.3 719.1L628.7 721.1L629.1 722.7L629.5 722.9L629.9 720.7L630.3 722L630.7 723.5L631.1 723.7L631.5 725.1L631.9 726.1L632.3 727.4L632.7 727.4L633.1 718.5L633.5 719.5L633.9 720.8L634.3 721.8L634.7 719.6L635.1 720.9L635.5 722.4L635.9 722.6L636.3 720.5L636.7 721.7L637.1 726.8L637.5 726.8L637.9 724.3L638.3 725.4L638.7 720.3L639.1 720.2L639.5 717.8L639.9 719.8L640.3 721.4L640.7 721.6L641.1 719.4L641.5 720.7L641.9 722.2L642.3 722.4L642.7 723.8L643.1 724.8L643.5 726.1L643.9 726L644.3 717.2L644.7 718.2L645.1 719.5L645.5 720.5L645.9 718.3L646.3 719.6L646.7 721.1L647.1 721.3L647.5 719.2L647.9 720.4L648.3 725.5L648.7 725.5L649.1 723L649.5 724.1L649.9 718.9L650.3 718.9L650.7 716.5L651.1 718.5L651.5 720.1L651.9 720.3L652.3 718.1L652.7 719.4L653.1 720.9L653.5 721.1L653.9 722.5L654.3 723.5L654.3 766L653.9 766.1L653.5 762.4L653.1 763.7L652.7 761.1L652.3 761.2L651.9 762.5L651.5 763.8L651.1 761.3L650.7 761.3L650.3 762.6L649.9 764L649.5 766.4L649.1 766.4L648.7 767.8L648.3 769.1L647.9 761.5L647.5 761.5L647.1 762.9L646.7 764.2L646.3 761.6L645.9 761.7L645.5 763L645.1 764.3L644.7 761.8L644.3 761.8L643.9 768.1L643.5 769.5L643.1 766.9L642.7 766.9L642.3 763.2L641.9 764.6L641.5 762L641.1 762L640.7 763.4L640.3 764.7L639.9 762.1L639.5 762.2L639.1 763.5L638.7 764.8L638.3 767.3L637.9 767.3L637.5 768.6L637.1 770L636.7 762.4L636.3 762.4L635.9 763.7L635.5 765.1L635.1 762.5L634.7 762.5L634.3 763.9L633.9 765.2L633.5 762.6L633.1 762.7L632.7 769L632.3 770.3L631.9 767.8L631.5 767.8L631.1 764.1L630.7 765.4L630.3 762.9L629.9 762.9L629.5 764.2L629.1 765.6L628.7 763L628.3 763L627.9 764.4L627.5 765.7L627.1 768.1L626.7 768.2L626.3 769.5L625.9 770.8L625.5 763.3L625.1 763.3L624.7 764.6L624.3 765.9L623.9 763.4L623.5 763.4L623.1 764.7L622.6 766.1L622.2 763.5L621.8 763.5L621.4 769.9L621 771.2L620.6 768.6L620.2 768.7L619.8 765L619.4 766.3L619 763.7L618.6 763.8L618.2 765.1L617.8 766.4L617.4 763.9L617 763.9L616.6 765.2L616.2 766.6L615.8 769L615.4 769L615 770.4L614.6 771.7L614.2 764.1L613.8 764.2L613.4 765.5L613 766.8L612.6 764.2L612.2 764.3L611.8 765.6L611.4 766.9L611 764.4L610.6 764.4L610.2 770.7L609.8 772.1L609.4 769.5L609 769.5L608.6 765.9L608.2 767.2L607.8 764.6L607.4 764.6L607 766L606.6 767.3L606.2 764.7L605.8 764.8L605.4 766.1L605 767.4L604.6 769.9L604.2 769.9L603.8 771.2L603.4 772.6L603 765L602.6 765L602.2 766.4L601.8 767.7L601.4 765.1L601 765.1L600.6 766.5L600.2 767.8L599.8 765.2L599.4 765.3L599 771.6L598.6 772.9L598.2 770.4L597.8 770.4L597.4 766.7L597 768.1L596.6 765.5L596.2 765.5L595.8 766.8L595.4 768.2L595 765.6L594.6 765.6L594.2 767L593.8 768.3L593.4 770.7L593 770.8L592.6 772.1L592.2 773.4L591.8 765.9L591.4 765.9L591 767.2L590.5 768.5L590.1 766L589.7 766L589.3 767.3L588.9 768.7L588.5 766.1L588.1 766.1L587.7 772.5L587.3 773.8L586.9 771.2L586.5 771.3L586.1 767.6L585.7 768.9L585.3 766.4L584.9 766.4L584.5 767.7L584.1 769L583.7 766.5L583.3 766.5L582.9 767.8L582.5 769.2L582.1 771.6L581.7 771.6L581.3 773L580.9 774.3L580.5 766.7L580.1 766.8L579.7 768.1L579.3 769.4L578.9 766.8L578.5 766.9L578.1 768.2L577.7 769.5L577.3 767L576.9 767L576.5 773.3L576.1 774.7L575.7 772.1L575.3 772.1L574.9 768.5L574.5 769.8L574.1 767.2L573.7 767.3L573.3 768.6L572.9 769.9L572.5 767.3L572.1 767.4L571.7 768.7L571.3 770L570.9 772.5L570.5 772.5L570.1 773.8L569.7 775.2L569.3 767.6L568.9 767.6L568.5 769L568.1 770.3L567.7 767.7L567.3 767.7L566.9 769.1L566.5 770.4L566.1 767.8L565.7 767.9L565.3 774.2L564.9 775.5L564.5 773L564.1 773L563.7 769.3L563.3 770.7L562.9 768.1L562.5 768.1L562.1 769.5L561.7 770.8L561.3 768.2L560.9 768.2L560.5 769.6L560.1 770.9L559.7 773.3L559.3 773.4L558.9 774.7L558.4 776L558 768.5L557.6 768.5L557.2 769.8L556.8 771.2L556.4 768.6L556 768.6L555.6 769.9L555.2 771.3L554.8 768.7L554.4 768.7L554 775.1L553.6 776.4L553.2 773.8L552.8 773.9L552.4 770.2L552 771.5L551.6 769L551.2 769L550.8 770.3L550.4 771.6L550 769.1L549.6 769.1L549.2 770.4L548.8 771.8L548.4 774.2L548 774.2L547.6 775.6L547.2 776.9L546.8 769.3L546.4 769.4L546 770.7L545.6 772L545.2 769.5L544.8 769.5L544.4 770.8L544 772.1L543.6 769.6L543.2 769.6L542.8 775.9L542.4 777.3L542 774.7L541.6 774.7L541.2 771.1L540.8 772.4L540.4 769.8L540 769.9L539.6 771.2L539.2 772.5L538.8 769.9L538.4 770L538 771.3L537.6 772.6L537.2 775.1L536.8 775.1L536.4 776.4L536 777.8L535.6 770.2L535.2 770.2L534.8 771.6L534.4 772.9L534 770.3L533.6 770.4L533.2 771.7L532.8 773L532.4 770.4L532 770.5L531.6 776.8L531.2 778.1L530.8 775.6L530.4 775.6L530 771.9L529.6 773.3L529.2 770.7L528.8 770.7L528.4 772.1L528 773.4L527.6 770.8L527.2 770.8L526.8 772.2L526.3 773.5L525.9 775.9L525.5 776L525.1 777.3L524.7 778.6L524.3 771.1L523.9 771.1L523.5 772.4L523.1 773.8L522.7 771.2L522.3 771.2L521.9 772.6L521.5 773.9L521.1 771.3L520.7 771.3L520.3 777.7L519.9 779L519.5 776.4L519.1 776.5L518.7 772.8L518.3 774.1L517.9 771.6L517.5 771.6L517.1 772.9L516.7 774.3L516.3 771.7L515.9 771.7L515.5 773L515.1 774.4L514.7 776.8L514.3 776.8L513.9 778.2L513.5 779.5L513.1 771.9L512.7 772L512.3 773.3L511.9 774.6L511.5 772.1L511.1 772.1L510.7 773.4L510.3 774.8L509.9 772.2L509.5 772.2L509.1 778.5L508.7 779.9L508.3 777.3L507.9 777.3L507.5 773.7L507.1 775L506.7 772.4L506.3 772.5L505.9 773.8L505.5 775.1L505.1 772.6L504.7 772.6L504.3 773.9L503.9 775.2L503.5 777.7L503.1 777.7L502.7 779L502.3 780.4L501.9 772.8L501.5 772.8L501.1 774.2L500.7 775.5L500.3 772.9L499.9 773L499.5 774.3L499.1 775.6L498.7 773L498.3 773.1L497.9 779.4L497.5 780.7L497.1 778.2L496.7 778.2L496.3 774.5L495.9 775.9L495.5 773.3L495.1 773.3L494.6 774.7L494.2 776L493.8 773.4L493.4 773.5L493 774.8L492.6 776.1L492.2 778.5L491.8 778.6L491.4 779.9L491 781.2L490.6 773.7L490.2 773.7L489.8 775L489.4 776.4L489 773.8L488.6 773.8L488.2 775.2L487.8 776.5L487.4 773.9L487 773.9L486.6 780.3L486.2 781.6L485.8 779L485.4 779.1L485 775.4L484.6 776.7L484.2 774.2L483.8 774.2L483.4 775.5L483 776.9L482.6 774.3L482.2 774.3L481.8 775.7L481.4 777L481 779.4L480.6 779.4L480.2 780.8L479.8 782.1L479.4 774.5L479 774.6L478.6 775.9Z" fill="#0072B2"/>
<path d="M69.1 776h0M68.6 789.7h0M68.9 765.5h0M68.6 769.9h0M69 779.8h0M69 784.8h0M69 775h0M69.3 761.5h0M69.5 766.6h0M69.3 773.1h0M69.2 767.9h0M69.6 758.4h0M69.7 781.8h0M69.6 773.6h0M69.9 765.9h0M70 785.6h0M69.7 771.9h0M69.7 759.5h0M70 776.2h0M69.6 774h0M70 784.5h0M70.2 780.7h0M70.5 774.7h0M70.2 766.6h0M70 786.2h0M70.3 770.9h0M70.5 758.2h0M70.3 782.9h0M70.5 785.7h0M70.4 766.6h0M70.3 782.2h0M70.9 780.8h0M71 777.3h0M70.9 772.9h0M70.8 761.5h0M70.7 775.6h0M71.1 774.5h0M71.4 785.4h0M71.4 784.5h0M71.3 783.9h0M71.2 786.3h0M71.3 758.8h0M71.8 777.9h0M71.4 779.3h0M71.5 773.8h0M71.5 762.8h0M72.1 778.1h0M71.9 779.8h0M72 778.1h0M71.7 776.8h0M72.1 784.3h0M71.9 787.5h0M72.5 761.3h0M72.6 760.1h0M72 782.6h0M72.5 776.4h0M72.2 780.7h0M72.9 771.8h0M72.7 782.3h0M72.8 762.8h0M73.1 767.5h0M73 774.9h0M72.5 783.9h0M73.2 763.1h0M73.2 782.9h0M73 760.7h0M72.9 782h0M73 774.2h0M73.4 763.2h0M73 773.8h0M73.4 784.7h0M73.5 782.7h0M73.7 789.8h0M73.4 777.3h0M73.9 774.4h0M73.6 776.1h0M73.8 759h0M74 774.4h0M74.2 771.3h0M73.9 768h0M74 787.1h0M74.1 771.9h0M74.4 769.8h0M74.2 758.4h0M74.5 760.7h0M74.6 759.6h0M74.6 776.4h0M74.5 779.9h0M74.3 771.2h0M75 767.8h0M74.4 764.3h0M74.6 775.3h0M74.6 766h0M74.6 758.4h0M75.1 761.4h0M74.8 781.9h0M74.8 761.5h0M75.1 762.5h0M75.3 779.7h0M75.3 768.3h0M75.3 764.7h0M75.2 770.5h0M75.6 773h0M75.4 763.8h0M75.5 772.5h0M76 774.1h0M75.6 784.3h0M75.8 789.5h0M76.1 767.3h0M76.4 770.1h0M76.4 771.8h0M75.8 780.2h0M76.3 769.2h0M76 781.9h0M76.5 787.7h0M76.4 761.1h0M76.7 774.3h0M76.5 768.5h0M76.8 771h0M76.6 784.4h0M76.7 782.7h0M76.5 766.4h0M76.7 774.3h0M76.7 777.2h0M77.1 772.2h0M77.2 786.1h0M77.2 773.9h0M77.3 783h0M77.4 789.2h0M77.2 788.7h0M77.2 765.6h0M77.2 768.8h0M77.3 789h0M77.4 783h0M77.4 785.6h0M77.7 773.9h0M77.7 784h0M77.9 761.9h0M77.6 758.3h0M78 772h0M78 760.2h0M77.8 784.9h0M77.8 784.7h0M78.1 763.5h0M78.3 781.2h0M78.4 773.6h0M78.7 769.4h0M78.7 768.3h0M78.9 777.5h0M78.4 762.6h0M78.9 761.5h0M78.4 773.4h0M79 778.5h0M78.6 773.4h0M78.6 772.4h0M78.7 785.7h0M79.4 767.2h0M79.4 761.1h0M79.2 779.8h0M79.1 765.5h0M79.1 767.2h0M79.3 778h0M79.2 764.5h0M79.8 779.4h0M79.9 789.1h0M79.9 774.8h0M79.7 784.7h0M79.5 787.6h0M80.3 789.1h0M80.2 770.2h0M80.3 769.6h0M80.3 782.9h0M80.2 784.9h0M80.5 785.1h0M80.7 783.3h0M80.2 784.6h0M80.1 763.3h0M80.8 788.9h0M80.4 764.8h0M80.9 783.5h0M81 786.5h0M81 769.8h0M81.1 786.7h0M80.9 787.2h0M80.8 769.8h0M81.4 770.2h0M81 781.7h0M81 788.9h0M80.9 773.3h0M81.7 789h0M81.3 780.6h0M81.6 781.1h0M81.5 788.8h0M81.7 766.3h0M81.4 787.8h0M81.5 777.5h0M81.5 765.2h0M81.7 768.6h0M82.3 784.2h0M81.8 773.8h0M82.1 769.6h0M81.8 784.5h0M82.3 786.4h0M82.6 789.7h0M82.5 782.2h0M82.5 766.9h0M82.4 779.3h0M82.6 773.5h0M82.5 761.8h0M83 780h0M82.5 767.3h0M83.1 773.2h0M82.8 771.1h0M83.2 782.9h0M82.9 759.8h0M83.3 771.6h0M83.4 782.2h0M83.2 766.7h0M83 774h0M83.5 786.2h0M83.3 771h0M83.6 776.1h0M83.5 772.1h0M83.8 773.6h0M83.7 763.5h0M83.4 767.7h0M83.6 765.2h0M84.1 763.1h0M83.7 771.4h0M84.2 775.7h0M83.9 789h0M84.3 784.7h0M84.3 788.4h0M84.6 768.7h0M84.5 777.6h0M84.7 782.2h0M84.5 760.8h0M84.7 769.4h0M84.7 775.3h0M84.9 776.5h0M84.9 774.8h0M84.7 775.5h0M85 783.6h0M85.1 785.1h0M85 772.5h0M84.8 763h0M85.3 762.7h0M84.9 787h0M85.2 763.4h0M85.5 771.9h0M85.1 760.2h0M85.7 780.9h0M85.3 767.1h0M85.9 766.2h0M85.9 764.9h0M85.5 784.2h0M85.6 785.9h0M85.5 783.2h0M85.8 785.5h0M86.2 762.7h0M86.1 758.5h0M86.1 774.6h0M86 759.7h0M86.5 784.6h0M86.5 766.9h0M86.2 788.6h0M86.1 778.8h0M86.3 781.4h0M86.6 766.6h0M86.9 761h0M87 784.6h0M86.9 771.9h0M86.8 780.2h0M87.2 767h0M87.1 774.8h0M87 764h0M87 767h0M87.3 784.5h0M87.6 787.4h0M87.2 761.1h0M87.1 770.5h0M87.1 779.3h0M87.4 765.9h0M88 768.2h0M87.3 771.2h0M87.8 780h0M87.7 770.6h0M87.9 772.5h0M87.6 759.2h0M87.9 783.9h0M88.5 789.1h0M88.1 767.1h0M88.4 760.4h0M88.1 763.2h0M88 781h0M88.4 765h0M88.4 772h0M88.3 759.5h0M88.4 765.9h0M88.6 773.1h0M89 765.7h0M89.1 767.8h0M88.6 788.8h0M88.7 761.2h0M89.3 780.9h0M88.7 789.5h0M89.5 772.7h0M89.5 765.2h0M89.7 779.1h0M89.4 774.7h0M89.3 759.5h0M89.2 761.1h0M89.7 779.2h0M89.9 765.9h0M89.6 778.5h0M89.5 759h0M90 762.1h0M89.6 779h0M89.9 773.5h0M90.4 762.3h0M89.9 758.1h0M90 787.4h0M90.3 785.9h0M90.4 762.2h0M90.6 775h0M90.2 775.2h0M90.2 760.7h0M90.7 768.6h0M90.6 772.9h0M90.5 777.9h0M90.8 767.2h0M90.6 785.2h0M90.5 776.8h0M90.8 777.3h0M90.8 769.9h0M90.8 778.2h0M91.3 779.5h0M91.3 767.3h0M91.2 769.6h0M91 768.8h0M91.6 786.4h0M91.6 765.4h0M91.9 759h0M91.4 769.9h0M91.5 773.7h0M91.4 760.5h0M91.5 780.3h0M92.1 782.7h0M91.7 782.9h0M92 762.6h0M92.1 789.2h0M92.3 782.9h0M92.4 758.8h0M92.1 779.8h0M92.3 771.7h0M92.7 789h0M92.2 773.1h0M92.5 772.1h0M92.3 785.4h0M92.4 758.3h0M92.9 778.8h0M92.5 774.3h0M92.6 760.4h0M93.1 764.5h0M92.7 784.3h0M93.4 759.3h0M93.4 784.2h0M92.9 786.7h0M93 778.9h0M93.2 776h0M93.8 768.7h0M93.2 760.1h0M93.4 789.3h0M93.5 789.2h0M93.6 778.8h0M93.8 777.5h0M93.9 777h0M94 774h0M94.2 775.7h0M93.8 781.4h0M93.8 770.3h0M94.3 786.7h0M94.3 788.9h0M94.6 759.6h0M94.6 759.6h0M94.5 768.5h0M94.4 759.8h0M94.2 787.7h0M94.3 777.2h0M94.9 765.8h0M94.8 775.3h0M94.6 775.8h0M95 788.7h0M94.8 775.3h0M95.3 766h0M95.1 773.4h0M95.5 786.6h0M95.2 760.9h0M95.7 776.3h0M95.2 777.2h0M95.1 777.9h0M95.5 786.8h0M95.9 761.5h0M95.5 784.7h0M96.1 772h0M95.9 761.4h0M96.2 778.3h0M96 781.4h0M95.7 784.1h0M96.2 778.2h0M96.4 780.9h0M96.5 767.9h0M95.9 760.7h0M96.2 760.1h0M96.8 776.2h0M96.8 762.7h0M96.1 776.8h0M96.4 766.7h0M96.6 773h0M96.4 781.2h0M96.8 761.9h0M97 762.5h0M97.1 775.1h0M97.1 769.7h0M97 768h0M96.9 789.6h0M97.4 763.4h0M97.6 758.7h0M97.4 760h0M97.1 779.7h0M97.6 779.9h0M97.3 786.6h0M97.7 785.8h0M97.6 776.9h0M97.8 788h0M97.5 785.5h0M97.5 771.4h0M98.1 769.5h0M97.6 764h0M98 759.6h0M98.3 774.6h0M98.3 776.4h0M98.2 760.8h0M98.4 782.2h0M98.7 773.8h0M98.1 760.9h0M98.4 769.7h0M98.3 775.5h0M98.3 758.5h0M98.4 778.3h0M98.9 767.9h0M99.2 759.5h0M98.9 783.6h0M99 766.2h0M99.2 774.2h0M99 789.8h0M99.1 781.3h0M99.4 771.4h0M99.6 769.2h0M99.2 779.4h0M99.3 776.2h0M99.2 751.9h0M99.9 747.9h0M100 787.4h0M99.6 775.6h0M99.5 783.9h0M99.6 759.3h0M99.8 787.9h0M100.2 772.1h0M99.9 775.4h0M100.3 780.4h0M100 772.8h0M100 744.1h0M100.5 768.7h0M100.3 781h0M100.6 770.3h0M100.4 767.1h0M101 775.2h0M100.9 786.7h0M101.1 779.2h0M100.5 771.1h0M100.6 775.1h0M101.3 780.5h0M101.2 751.7h0M101.5 779.2h0M101.4 749.3h0M101.5 781.7h0M101.3 782.3h0M101.5 781.1h0M101 760.7h0M101.6 783.3h0M101.9 773.5h0M101.8 777.4h0M102 785.1h0M102.1 761.7h0M101.5 764.6h0M102.3 743.1h0M101.8 768.6h0M102.3 785.1h0M101.8 752.5h0M102 750.7h0M102.5 775.9h0M102.4 777.6h0M102.1 762.7h0M102.8 768.2h0M102.8 765.7h0M102.4 741.2h0M102.4 786.9h0M102.8 741.3h0M102.8 765.6h0M102.9 768.2h0M103.1 730.9h0M102.8 786.3h0M102.9 764.6h0M102.9 758.5h0M102.8 788.3h0M102.8 788h0M103.5 762.8h0M103.7 751h0M103.3 758.3h0M103.5 776.1h0M103.2 758.4h0M103.3 730.1h0M103.3 767.2h0M103.4 765.9h0M103.7 767h0M103.8 760.1h0M103.7 766h0M103.8 760.8h0M104.3 776.6h0M104.5 763.1h0M104.5 757.9h0M104.2 784.4h0M104.2 753.6h0M104.8 764.9h0M104.2 703.2h0M104.4 759.6h0M104.7 755.4h0M104.8 764h0M104.5 787.1h0M105.1 759.4h0M105.2 759.6h0M104.9 775h0M104.7 784.3h0M104.8 720.2h0M104.8 762.7h0M105.2 758.6h0M105.6 766.6h0M105.1 760.4h0M105.7 787.2h0M105.3 762.4h0M105.5 777.2h0M105.5 788.4h0M105.3 740.6h0M105.7 754.1h0M105.5 783.6h0M105.7 784.5h0M105.7 775.1h0M106.4 753.6h0M105.8 761.8h0M106.3 756.5h0M106.4 771.1h0M106.2 733.4h0M106.5 763.7h0M106.6 780h0M106.4 773.8h0M106.9 768.2h0M106.9 759.6h0M106.4 758.6h0M106.5 768.9h0M107.2 787.4h0M107 751.6h0M107 769.2h0M107 764h0M107.3 761.9h0M107.1 711.2h0M107.1 782.1h0M107 787.1h0M107 787.9h0M107.6 773h0M107.8 762.4h0M107.5 757.7h0M107.7 770.6h0M107.4 745h0M108 760.7h0M107.9 786.7h0M108 786h0M107.9 764.4h0M107.8 787.4h0M108.2 774.4h0M108.1 774.3h0M107.9 759.3h0M108.1 757.7h0M108.4 780.3h0M108.8 769.7h0M108.6 764.8h0M108.2 780.4h0M108.9 764.2h0M108.4 744h0M108.7 758.3h0M108.9 781.3h0M108.7 786.9h0M108.8 779.5h0M109.3 766.4h0M109.3 780.6h0M109 748.9h0M109.2 782.9h0M109.3 777.3h0M109.5 772.6h0M109.2 780.1h0M109.8 764.4h0M109.8 722.2h0M110 781.6h0M109.8 762.5h0M109.7 761.3h0M110.2 783.3h0M109.6 764h0M110 783.3h0M110 763.9h0M110 779.7h0M110.3 781.6h0M110.4 771.8h0M110.2 762.9h0M110.6 779h0M110.5 763.4h0M110.5 721.7h0M110.8 779.5h0M110.3 757.6h0M110.5 768.5h0M110.9 767.7h0M110.6 761.8h0M110.5 783.8h0M111.1 775h0M110.9 713.7h0M111.5 765.2h0M111.1 771.5h0M110.9 772.2h0M111.6 776.9h0M111.4 764.7h0M111.7 755.5h0M111.2 764.9h0M111.3 770.4h0M111.6 768.6h0M111.7 776.3h0M111.6 786.7h0M111.9 753.6h0M112 784.8h0M111.8 754.7h0M112.2 742.9h0M112 779.8h0M112.5 765h0M112 774.7h0M111.9 774.1h0M112.4 765.8h0M112.3 770.6h0M112.7 775.8h0M112.5 746.6h0M113 778h0M112.6 762.9h0M112.6 776.3h0M112.5 762.5h0M113.1 752.6h0M113.2 780.2h0M112.8 776.8h0M113 732.9h0M113.2 764.3h0M113.1 787.4h0M113 786.3h0M113.1 763h0M113.1 785.2h0M113.9 766.1h0M113.4 777.6h0M113.8 768.2h0M113.8 772.6h0M113.7 752.9h0M114 755.8h0M114.2 779.9h0M113.8 778h0M114.4 765.5h0M114.5 744.9h0M113.8 769.4h0M114 775.1h0M114.5 765.3h0M114.5 764.7h0M114.2 786.8h0M114.3 780.9h0M114.8 758.7h0M114.5 754.5h0M114.4 784.4h0M114.5 754h0M115.2 777.9h0M114.9 755.1h0M114.8 783.2h0M114.7 758.8h0M115.2 786.5h0M115.5 758.7h0M115 770.4h0M115.6 762h0M115.6 768.7h0M115.1 757.4h0M115.5 766.1h0M115.9 767.2h0M115.6 764.4h0M115.8 769.2h0M115.5 781.7h0M115.9 786.7h0M115.6 787.2h0M116.3 756h0M116 753.4h0M115.7 766.8h0M116.3 781.7h0M115.9 768.2h0M116.3 698.8h0M116.8 771.4h0M116.7 746.3h0M116.2 770.7h0M116.5 764.9h0M116.9 758.1h0M116.5 777.2h0M116.5 768.7h0M116.9 714.7h0M116.5 741.7h0M116.9 752.4h0M116.7 768.8h0M117.2 759h0M117.4 774.5h0M117.4 763.3h0M117.1 766.8h0M117.4 736.7h0M117.5 757.5h0M117.5 739.8h0M117.4 773.3h0M118 768.9h0M117.7 760.3h0M117.6 710.3h0M117.8 760.6h0M117.8 731.5h0M118.3 764.1h0M117.7 756.2h0M118 768.1h0M118.4 788.1h0M118 772.4h0M118 770.6h0M118.4 770.9h0M118.7 764.5h0M118.2 751.9h0M118.2 759.6h0M118.6 787.3h0M118.5 765.5h0M118.7 756.9h0M119 786.7h0M119.1 779.1h0M119.3 784h0M119 786.7h0M119.2 764h0M118.9 766.5h0M119.4 767.4h0M119.2 758.2h0M119.1 758.2h0M119.1 763.1h0M119.5 764.8h0M119.8 767.5h0M119.5 769.7h0M120.1 739.5h0M119.7 752h0M119.6 767.4h0M119.6 785.9h0M119.8 780.1h0M120 766.3h0M120.3 763.8h0M119.9 759.2h0M120.5 788.3h0M120.1 766.7h0M120.6 782.7h0M120.7 764.4h0M120.3 778.2h0M120.4 769.9h0M120.4 780.3h0M121 749.2h0M120.4 719.7h0M121.1 764h0M121.2 764h0M120.7 777h0M120.8 783.7h0M121.4 771.4h0M121.2 782.3h0M121.6 766.8h0M121.3 784.3h0M121.7 766h0M121.4 788.4h0M121.6 766.8h0M121.8 765.4h0M121.6 787.4h0M121.5 757.8h0M122 756.4h0M121.6 730.1h0M121.9 782.6h0M121.8 787.8h0M121.9 767.1h0M122.1 767.2h0M122.3 785.6h0M122.5 779.4h0M122 741.2h0M122.5 761.3h0M122.5 779.1h0M122.2 765.7h0M122.2 760.1h0M122.6 734.7h0M123.1 751.1h0M122.7 779.4h0M123.1 785.7h0M122.8 785.2h0M123.2 780h0M122.8 779.1h0M122.9 784.1h0M123.6 775.3h0M123.2 763h0M123.4 775.8h0M123.4 766.5h0M123.1 785.1h0M123.2 781.9h0M123.9 761h0M123.8 776.9h0M123.6 741.7h0M123.7 757.7h0M123.5 770.7h0M123.6 774h0M123.8 761.9h0M124.2 765.6h0M124.4 783.9h0M124.5 787.3h0M124.4 784.3h0M124.6 780.1h0M124.8 765.2h0M124.1 751.5h0M124.6 788.3h0M124.9 786.1h0M124.9 750.4h0M124.6 782h0M124.5 788.1h0M124.5 731.6h0M125.1 759.9h0M124.8 769.5h0M125.1 783.5h0M125.2 778.8h0M125.3 778.4h0M125.5 761.7h0M125.4 766.7h0M125.3 773.3h0M125.2 760h0M125.7 775.5h0M125.8 753.1h0M125.9 778.5h0M126 760.4h0M125.8 760.7h0M126.2 771.2h0M125.7 777.1h0M125.8 771.3h0M126.4 778h0M126.4 767.4h0M126.6 729h0M126.3 758.6h0M126.5 765.5h0M126.4 763h0M126.4 787.7h0M126.2 745h0M126.5 761.8h0M126.8 762.5h0M126.8 746.6h0M127 764.4h0M127.1 755.2h0M126.8 778.5h0M127.4 758.7h0M127.1 783.5h0M126.9 781.6h0M127.5 778.5h0M127.6 764.3h0M127.7 772.6h0M127.7 755.9h0M127.5 788.4h0M127.7 787.1h0M127.8 787.4h0M127.7 768.4h0M127.5 783.7h0M127.9 754.5h0M127.9 780.8h0M128.1 775.9h0M128.2 787.2h0M128.3 770h0M128.2 782.2h0M128.6 778.1h0M128.1 751.3h0M128 764.8h0M128.4 768.2h0M128.5 750.3h0M128.6 762h0M128.5 761.2h0M129 783.1h0M128.6 779h0M128.6 764h0M129.1 771.1h0M129 749.2h0M129 766h0M129.1 738h0M128.9 776.6h0M129.1 784.2h0M129.6 767.6h0M129.4 722h0M129.5 774.9h0M129.3 771.3h0M129.8 788.1h0M129.6 768.1h0M130 780.9h0M129.8 786.7h0M130 775.4h0M130 762.9h0M129.9 788.1h0M130 722.2h0M130.4 761.1h0M130 763h0M130.2 754.2h0M130.5 718.6h0M130 761.5h0M130.2 781.3h0M130.5 784.4h0M130.8 759.6h0M130.9 768.6h0M130.9 762.3h0M130.7 764.4h0M130.6 773.1h0M130.6 759.6h0M130.8 747.7h0M130.6 764h0M131.5 762h0M131.1 760.3h0M131.3 761h0M131.7 754.4h0M131.1 756.6h0M131.4 772.3h0M131.8 762.4h0M131.2 771.7h0M131.4 720.4h0M131.7 757h0M131.9 765.9h0M132 771.1h0M131.8 762.7h0M131.7 747.6h0M132.3 760.7h0M131.7 775.8h0M132.2 774.3h0M132.3 743.8h0M132.5 777h0M132.7 765.8h0M132.6 767h0M132.2 785.9h0M132.7 780.6h0M132.8 785h0M132.6 744.2h0M132.8 771.6h0M132.9 727.1h0M133 756.8h0M132.7 782.1h0M133.3 765.7h0M133.2 781.2h0M133.2 745h0M133.3 767.1h0M133.6 760.4h0M133.2 761.7h0M133.6 763.3h0M133.3 783.2h0M133.2 780h0M133.4 770.6h0M133.3 780.7h0M133.9 762.7h0M134 765.3h0M134 777.9h0M134.2 758.8h0M133.8 783.5h0M134.2 776.4h0M134 769.8h0M134.5 759.7h0M134.4 771h0M134.3 787.6h0M134.3 711.8h0M134.4 787h0M134.8 782.5h0M134.8 760.6h0M134.6 767.7h0M134.7 783.7h0M134.5 749.8h0M135.3 752.2h0M134.9 771h0M135.1 784.1h0M135.4 758.2h0M135.1 774.8h0M135.1 762.9h0M135.5 764.6h0M135.2 781.4h0M135.5 752h0M135.6 784.8h0M135.5 760.9h0M135.4 765.2h0M135.5 767.7h0M135.7 786.3h0M135.9 777.1h0M135.7 785.3h0M136.4 785.8h0M136.2 766.4h0M136.2 764h0M135.8 762.8h0M136.5 787.5h0M136.2 765.8h0M136.3 785.1h0M136.8 754h0M136.5 785.8h0M136.4 749.6h0M136.8 742.7h0M136.5 761.4h0M136.7 775.2h0M136.6 698.9h0M136.7 743.8h0M137.3 787.7h0M136.6 787.6h0M137.3 721h0M137.4 772.6h0M137 746.3h0M137.5 768.2h0M137.6 765.1h0M137.8 771.7h0M137.9 744.6h0M137.8 778.8h0M137.3 772h0M137.4 779h0M137.7 753.3h0M137.7 760.6h0M138 783.1h0M137.8 776.7h0M137.9 720.3h0M138 764.6h0M138.3 772.1h0M138 759.4h0M138.4 762.4h0M138.7 766.4h0M138.1 755.8h0M138.5 759.3h0M138.7 763.8h0M138.9 769.6h0M138.8 729.7h0M138.9 780.4h0M139.2 774.1h0M139.3 764.4h0M138.6 770.5h0M138.9 777.5h0M138.8 780.6h0M138.8 766.3h0M139.1 775.3h0M139 748.5h0M139.7 759.2h0M139.8 761.2h0M139.9 783.7h0M140 782.7h0M139.3 770.7h0M140 777.1h0M139.8 770.1h0M139.8 759.8h0M140 703h0M140.1 765.6h0M139.7 774.5h0M140.2 782.5h0M140.1 774h0M139.9 762.3h0M140.4 761.3h0M140.3 782.3h0M140.5 776.3h0M140.5 764.1h0M140.4 752.8h0M140.9 786.5h0M140.6 768.4h0M140.9 756h0M141.2 781.7h0M141.1 776.9h0M140.9 786.3h0M140.9 777.9h0M140.8 759.6h0M141.3 763.8h0M141 732.2h0M141.2 751.5h0M141.4 769.3h0M141.7 767.9h0M141.8 771.3h0M141.2 768.7h0M141.7 779.5h0M141.7 748.2h0M142.1 761h0M141.8 765.7h0M141.8 775.2h0M141.8 754.7h0M142.2 757.8h0M142.1 754.7h0M141.8 736.4h0M142.6 783.3h0M142 767.7h0M142.4 784.7h0M142.3 785.1h0M142.4 783.2h0M142.2 761h0M142.8 743.3h0M142.6 765h0M143.1 777.6h0M143.2 786.6h0M142.7 774.4h0M142.7 765h0M142.8 756h0M143.4 766.4h0M143.3 782.4h0M143.5 731.3h0M143.2 783.9h0M143.5 769.9h0M143.2 767.1h0M143.7 769.3h0M143.2 766.1h0M143.4 772h0M143.8 785.3h0M143.7 768.1h0M143.7 767.3h0M144.1 781.7h0M143.9 781h0M144.4 769.7h0M144.4 772.5h0M144.4 765.4h0M144 781.6h0M144.1 776h0M144.5 776.5h0M144.7 763.9h0M144.5 777.6h0M145 785.6h0M144.5 758.1h0M144.5 767.8h0M144.5 787.1h0M144.9 774.2h0M144.6 751.6h0M145 773.2h0M144.7 780.6h0M145.1 759.7h0M145.5 777.4h0M145.1 763.3h0M145.7 776.5h0M145.4 786.9h0M145.4 775.3h0M145.7 764.9h0M145.7 783.7h0M145.9 769.6h0M145.5 780.7h0M145.8 764.2h0M145.8 777.5h0M145.8 764.6h0M145.6 769.7h0M146.1 775.3h0M146.1 779.5h0M146.6 767.4h0M146.2 777.6h0M146.5 756.8h0M146.3 758.5h0M146.4 770.4h0M146.4 779.5h0M146.3 758h0M146.7 780.8h0M147 773.6h0M146.5 765.5h0M146.6 786.5h0M147.1 783.9h0M146.6 780.2h0M147.3 749.7h0M147.1 787.4h0M146.9 781.8h0M147.5 774.4h0M147.5 782.3h0M147.3 772.2h0M147.3 767.2h0M147.6 761.6h0M147.8 787.6h0M147.4 755.4h0M147.4 755.3h0M147.7 765.8h0M147.5 765.5h0M147.7 758.2h0M148.3 765.3h0M147.7 761.6h0M147.9 761.8h0M148.5 761.9h0M148.4 784.2h0M148.5 745h0M148.7 780.1h0M148.8 757.9h0M148.2 765.5h0M148.3 784.8h0M148.5 736.6h0M149 770.9h0M148.6 785.6h0M148.7 783.1h0M148.6 766.7h0M148.9 758.2h0M149 774.6h0M149 754.4h0M149.6 778.7h0M149 764.9h0M149 767.4h0M149.7 774.3h0M149.6 775.4h0M149.4 760.8h0M149.6 778.4h0M149.9 713.2h0M149.8 787.8h0M149.4 775.8h0M150.2 759.5h0M150.2 754.6h0M149.8 744.2h0M150.3 765.7h0M150 739.7h0M150 787.1h0M150.6 757h0M150.7 755.8h0M150.5 783.3h0M150.3 763.6h0M150.3 769.2h0M150.8 765.1h0M150.7 747.9h0M150.9 780.1h0M150.8 767h0M151.2 743.1h0M151.3 776.6h0M151.3 758.1h0M151.4 781.9h0M150.9 758.6h0M151 783.6h0M151.2 774.2h0M151.2 782.2h0M151.5 761.1h0M151.7 715h0M151.2 747.6h0M151.6 775.3h0M151.8 788h0M152 742.1h0M152.1 764.5h0M151.9 758.9h0M151.6 761.2h0M151.9 726h0M152.3 756.1h0M152.2 771.7h0M152.3 776.4h0M152.6 782.9h0M152.2 760.5h0M152.2 774.3h0M152.7 786.7h0M152.7 760.7h0M152.4 756.5h0M152.4 750.2h0M153 760.8h0M152.8 758.7h0M152.9 761h0M152.8 757.8h0M153.2 780.4h0M153.1 787.3h0M152.8 782h0M153.2 766.2h0M153.3 778.6h0M153.2 769.2h0M153.6 760.5h0M153.8 762.6h0M153.8 769.1h0M153.3 784.3h0M153.3 776.1h0M153.6 780h0M153.6 769.6h0M154.1 764.1h0M153.8 779.4h0M153.7 761.9h0M153.9 779.6h0M154.3 751.7h0M154.2 768.5h0M154.3 756h0M154.3 780h0M154.3 767.2h0M154.3 776.8h0M154.4 753.5h0M154.4 767.3h0M154.8 750.4h0M154.4 774.9h0M154.9 783.3h0M154.9 786.3h0M155.2 758h0M154.7 752.7h0M154.9 758.8h0M155.3 758.3h0M155.2 786.7h0M155.3 772.4h0M155.3 702.9h0M155.1 777.2h0M155.5 765.2h0M155.5 776.4h0M155.3 768.5h0M155.4 767.4h0M155.8 760.1h0M155.5 737.7h0M155.9 779.9h0M156.1 777.8h0M156.4 781.4h0M156.3 762.8h0M156.4 783.1h0M156.3 745.6h0M156.3 740.4h0M156.2 778.4h0M156.1 782.9h0M156.1 759.9h0M156.9 756.7h0M156.9 766.5h0M156.9 783.9h0M156.4 770.5h0M156.8 781.2h0M157.1 769.1h0M157 762.6h0M157 766.7h0M157.4 749.7h0M157.2 758.3h0M157.2 783.8h0M156.9 754h0M157 763.1h0M157.6 768.7h0M157.6 772.4h0M157.5 778h0M157.7 779.4h0M157.9 784.5h0M157.5 778.1h0M157.5 772.8h0M157.7 773.3h0M157.7 765.7h0M158.4 779.4h0M158.3 767.3h0M157.9 762.5h0M158.1 780.8h0M158.4 782.2h0M158.1 765.2h0M158.7 753.6h0M158.3 771.8h0M158.7 768.1h0M158.9 749.6h0M158.8 778.9h0M159 765.9h0M158.9 766.4h0M158.5 772h0M159.2 724.4h0M159.3 787.7h0M158.9 746.2h0M159.3 768.9h0M158.9 772.6h0M159.2 746.9h0M159.1 757.1h0M159.1 761.7h0M159.4 759.4h0M159.9 766.5h0M159.3 752.2h0M160 767.7h0M160.1 779.8h0M159.6 782.2h0M159.5 773.7h0M160.4 758.9h0M160 776.8h0M160.5 787.6h0M160 769.3h0M160.4 764.1h0M160.3 775.7h0M160.5 744.2h0M160.7 760.1h0M160.7 765.8h0M160.7 769.2h0M161 751.7h0M161 781.6h0M160.5 768.9h0M160.6 771.8h0M161 784.6h0M160.8 766h0M160.8 770.7h0M161.3 776.2h0M161.2 784.2h0M161.3 719.9h0M161.5 762.5h0M161 769.1h0M161.4 767.7h0M161.2 757.2h0M161.5 769.6h0M161.4 787.4h0M161.5 788.1h0M162.1 755.8h0M161.7 744.6h0M162.1 765.3h0M162.1 773h0M161.9 781.9h0M161.7 761.4h0M162.1 772.4h0M162.7 760.9h0M162.2 762.6h0M162.4 766h0M162.2 760.1h0M162.9 750.9h0M162.4 776.4h0M162.8 766.3h0M163.1 787.1h0M163.1 744h0M162.6 764h0M163.3 781.6h0M163.1 763.7h0M162.8 783.4h0M163.4 769.1h0M163.5 780.3h0M163.4 768.7h0M163.5 769h0M163 769.5h0M163.5 760.7h0M163.8 771.7h0M163.7 772.9h0M163.4 753.9h0M164.1 752.3h0M164.2 764.3h0M163.5 785.9h0M163.8 736.6h0M164.1 781.7h0M164.4 744.9h0M164.4 782.9h0M164.2 763h0M164.2 762.8h0M164.6 765.4h0M164.8 785.1h0M164.6 762.9h0M164.3 764.2h0M164.7 751.7h0M164.7 766.3h0M164.9 757.2h0M164.6 773.5h0M164.6 769.3h0M165 772.1h0M165.3 763.6h0M165.4 746.1h0M165.4 778.4h0M165.5 764h0M165.1 765.9h0M165.4 781.6h0M165.7 773.2h0M165.7 762.8h0M165.7 774.1h0M165.9 741.7h0M165.6 782.4h0M165.6 770.7h0M165.9 783.8h0M165.5 763.7h0M165.6 761.9h0M166.2 776.5h0M166.4 769.6h0M166.5 766.7h0M166 775.5h0M166.2 756.9h0M166.4 732.5h0M166.7 786.3h0M166.5 773.3h0M166.9 776.3h0M166.6 786.1h0M166.7 768.8h0M166.9 761.4h0M166.7 784.8h0M166.8 760.4h0M167.3 738.6h0M166.8 785.6h0M166.9 759.4h0M167.5 759.9h0M167.2 786.5h0M167.4 788h0M167 724.7h0M167.7 756.4h0M167.5 724.6h0M167.2 786.4h0M167.4 785h0M167.4 760h0M167.5 768.1h0M168 737.7h0M167.8 768.1h0M168.1 761.2h0M168.2 787.2h0M168.1 749.1h0M168.2 753.3h0M168.3 787.7h0M168 784h0M168 787.8h0M168.3 788.2h0M168.5 781.5h0M168.2 762.3h0M168.4 760.2h0M169 785.1h0M168.5 759.8h0M169 733.8h0M169 773h0M168.9 781.1h0M169.3 774.5h0M169.2 775.8h0M169.1 778.8h0M168.8 776h0M169.2 766.8h0M169.7 786.2h0M169.5 788.2h0M169.3 764.3h0M169.4 752.3h0M169.7 731h0M169.8 767.2h0M169.6 766.3h0M169.9 741h0M170 788.2h0M170.2 752.9h0M170.1 772.5h0M170 745.1h0M170.5 786.7h0M170 780.6h0M170.7 761.9h0M170 770.1h0M170.8 775.3h0M170.3 749.4h0M170.9 738.7h0M170.3 772.6h0M170.8 758.9h0M170.4 776h0M170.7 759.5h0M171.2 788.1h0M170.7 767.2h0M171.2 782.1h0M170.8 770h0M170.8 768.5h0M170.8 776.9h0M171.2 778.9h0M171.4 761.2h0M171.4 771.1h0M171.4 784.7h0M171.5 775h0M171.7 768h0M172 762.8h0M171.7 753.9h0M171.6 776.7h0M171.7 739.4h0M172.2 776.3h0M172.2 744.8h0M171.8 754.4h0M172.3 760h0M172.3 777.4h0M172.7 763.8h0M172.4 784.3h0M172.1 752.3h0M172.2 760.6h0M172.8 756.7h0M173 746.4h0M172.8 745.4h0M172.9 780.8h0M172.6 755.9h0M173.3 770.1h0M173.1 734h0M172.8 771.9h0M172.7 771.6h0M173.2 762.8h0M172.8 768.3h0M173.1 764.8h0M173.6 763.7h0M173.1 779.1h0M173.6 746.3h0M173.9 782.7h0M173.7 768.8h0M173.5 767.1h0M174.1 753.7h0M173.4 780.1h0M173.6 753.1h0M174.2 763.3h0M174.4 768.1h0M173.7 755.7h0M173.8 779.6h0M173.9 746.4h0M174 779.8h0M174.5 785.5h0M174.5 753.7h0M174.2 730.9h0M174.7 785.4h0M174.9 766.6h0M175 758.6h0M174.8 774h0M175.2 743.1h0M174.8 778.5h0M174.8 778.5h0M175.4 777.7h0M175.3 748.5h0M175.4 780.8h0M175.3 763.4h0M175.1 752.2h0M175.7 726.2h0M175.1 768.6h0M175.8 785.3h0M175.2 764.9h0M175.3 779.3h0M175.9 784.3h0M175.4 770.5h0M175.5 756h0M176 757.3h0M176.3 758.3h0M176 763.7h0M175.9 759.3h0M176.5 756.7h0M175.9 759.1h0M176.2 778h0M176.3 771.3h0M176.5 748.2h0M176.8 759h0M176.6 751.6h0M176.2 765.9h0M176.8 775.5h0M176.6 784.1h0M177 767.4h0M176.8 756.6h0M176.9 779.7h0M177 761.2h0M177.4 754.7h0M177.3 781.8h0M177 760.5h0M177.2 734.3h0M177.2 769.2h0M177.7 779.2h0M177.2 774.7h0M177.7 787.6h0M177.3 771.9h0M177.7 761h0M177.9 757h0M177.7 760.7h0M178.1 767.4h0M178.1 694.8h0M177.8 727h0M178.5 781h0M177.8 774.3h0M177.9 752h0M178 779.1h0M178.5 766.9h0M178.1 785.8h0M178.7 759h0M178.5 753.2h0M178.9 785.4h0M179 779.2h0M179.1 743.6h0M178.5 780.2h0M178.6 758.2h0M179 778.9h0M179 762.3h0M179.4 761.3h0M179.5 779.6h0M179.1 777.1h0M179.3 778.3h0M179.5 783.7h0M179.8 767.4h0M179.8 769.8h0M179.5 754.6h0M179.9 753.6h0M180 784.1h0M180 786.5h0M179.8 684.2h0M179.5 762.8h0M179.7 763.2h0M180.2 785.5h0M179.8 783.5h0M180.1 752.9h0M180 757.5h0M180 754.5h0M180.3 750h0M180.7 782.1h0M180.9 753.3h0M180.3 725.8h0M180.5 783h0M180.6 764.9h0M180.5 783.1h0M180.5 785.7h0M181.3 755.2h0M181.3 744.6h0M181.2 757.8h0M181 731.2h0M181.3 777.2h0M181.5 783.6h0M181.1 753.2h0M181 768.7h0M181.3 776.8h0M181.6 763.2h0M181.6 775.6h0M181.8 762.7h0M181.8 709h0M181.6 782.3h0M181.8 771.9h0M181.6 780.6h0M182.1 765.8h0M182.1 729.5h0M182.3 763h0M182.4 762.5h0M182.4 767.7h0M182.1 710h0M182.4 747.9h0M182.8 757.2h0M182.8 770.7h0M182.2 779.9h0M182.3 777h0M182.6 777.5h0M182.6 776.5h0M182.8 776.6h0M183.3 762.5h0M182.9 783.3h0M182.9 758.7h0M182.8 759.8h0M183.5 774h0M183.5 775.2h0M183.7 726.4h0M183.3 769.7h0M183.1 773.1h0M183.2 757.4h0M183.7 784.4h0M183.4 756.8h0M183.8 771.6h0M183.4 723.1h0M184 782.8h0M184.1 769h0M184.1 767.3h0M183.8 773.5h0M184.2 782.8h0M184.6 757.3h0M184.3 780.5h0M184.4 748.4h0M184.1 786.5h0M184.8 785.5h0M184.5 780.7h0M184.5 753.3h0M184.4 760.5h0M184.9 766.3h0M185 767.2h0M184.6 784.8h0M184.8 757h0M184.7 748.5h0M184.9 762.5h0M185.3 770.7h0M184.9 760.1h0M185.2 774.5h0M185.5 708.9h0M185.7 755.9h0M185.5 782.7h0M185.2 777.8h0M185.7 778.1h0M185.7 753h0M185.6 761.9h0M185.7 744h0M185.8 783h0M186 718.8h0M186.4 758.1h0M186.2 743h0M186.2 769.7h0M186.2 767.1h0M186 720.1h0M186 782h0M186.4 760.3h0M186.7 769.7h0M186.6 758.3h0M186.4 755.2h0M186.9 765.9h0M186.3 781.3h0M186.7 784.6h0M186.9 774.5h0M187.3 754.1h0M187.1 779.9h0M187 718.3h0M186.9 774h0M187 763h0M187.5 786.9h0M187.7 786.6h0M187.3 759.2h0M187.6 759.3h0M187.6 765.6h0M187.6 735.8h0M187.5 783.9h0M188.1 761h0M187.9 783.2h0M188 763.3h0M188.1 778.4h0M187.6 779h0M188.2 768.4h0M188.2 767h0M187.8 782h0M188 758.3h0M188.3 765.3h0M188.1 739.9h0M188.9 767.3h0M188.7 766.7h0M188.7 784.1h0M188.9 766.4h0M188.5 776.3h0M189 756.3h0M189.2 696.4h0M188.9 771.4h0M189.3 775.7h0M189.2 760.9h0M189 783h0M189.1 779.6h0M189.5 780.7h0M189.1 765.4h0M189.7 787.7h0M189.3 772.5h0M189.2 773.9h0M189.9 785.7h0M190 761.4h0M190.1 763.9h0M190 761h0M189.9 770h0M190.3 787h0M189.9 761.3h0M190.4 769.5h0M190.3 775.8h0M189.9 773.8h0M190.6 784.5h0M190.6 771.5h0M190 777h0M190.5 782.4h0M190.6 776.7h0M190.6 721.9h0M191 774.4h0M190.8 779.4h0M191.1 769.3h0M190.7 767.1h0M191.3 759.6h0M191.3 770.7h0M191.3 785.1h0M190.8 761.4h0M191.1 731.8h0M191.2 766.1h0M191.4 751.1h0M191.2 787.3h0M191.7 780.2h0M191.3 759.4h0M191.6 780.3h0M191.4 778.8h0M191.6 749h0M191.5 746.2h0M191.9 782.5h0M192.2 783.4h0M192 762.9h0M192 777.8h0M192.5 759.8h0M192.4 746.8h0M192.6 752.4h0M192.2 784.4h0M192.3 759.7h0M192.5 768.7h0M192.5 777.7h0M192.8 778h0M192.6 783.9h0M192.4 758.9h0M193.2 731.9h0M193 767.8h0M193.1 751h0M192.9 784.2h0M192.8 724.7h0M193.1 778.8h0M193.2 757.8h0M193.1 752.8h0M193.7 756.5h0M193.5 770.6h0M193.4 742h0M193.5 740.5h0M193.9 740.2h0M193.8 756.7h0M193.9 780h0M193.6 781.7h0M194.2 723.6h0M193.6 771.4h0M193.8 787.1h0M194.4 738.8h0M194.1 706.2h0M194.5 753.6h0M194.7 767.8h0M194.2 778.9h0M194.3 752.1h0M194.9 768.8h0M194.2 786.2h0M194.6 783.7h0M194.8 772.8h0M194.5 764.9h0M194.6 736.1h0M194.6 743.5h0M195.3 755.9h0M195.4 787.2h0M195.3 747.3h0M195.3 767.1h0M195.5 769h0M195.5 771.2h0M195.5 756.2h0M195.5 787.2h0M195.6 785.7h0M195.4 756.5h0M196 778.2h0M195.6 787.5h0M196.1 781.6h0M196 748.4h0M195.9 771.8h0M195.8 787.9h0M195.7 774.6h0M196.3 785.4h0M196.2 766.5h0M195.9 752.2h0M196.4 761.9h0M196.7 732h0M196.2 735.2h0M196.2 776.8h0M196.2 760.8h0M196.5 783.8h0M197.1 756.1h0M196.9 787.5h0M196.5 756h0M197.1 777h0M197.1 777.2h0M196.8 756h0M197.1 773.5h0M197.5 785.7h0M197.6 769.2h0M197.6 772.6h0M197.5 753.6h0M197.7 765.7h0M197.9 778h0M197.6 749.8h0M197.6 770.2h0M197.4 769.3h0M198 787.2h0M197.7 786.9h0M197.9 780.2h0M197.9 768.5h0M198 769.5h0M198.4 771.3h0M198.1 783.8h0M198.1 767.1h0M198.5 767.4h0M198.3 777.4h0M198.6 758.9h0M198.9 782.6h0M198.4 773h0M198.3 787.3h0M198.4 759.3h0M198.5 750h0M198.6 787h0M198.8 741h0M199.1 767.3h0M198.7 754.2h0M199.3 763.2h0M198.8 777.7h0M199.5 760h0M199.5 779.9h0M199.4 752.5h0M199.6 773.4h0M199.8 748.1h0M199.3 777.7h0M200 761h0M199.4 766.8h0M199.4 774.3h0M200.1 777.9h0M199.8 782.5h0M200.2 784.4h0M199.7 738.2h0M200.4 785h0M200.4 772.1h0M200.6 763.1h0M200.6 764.8h0M200.6 780.6h0M200.5 772.9h0M200.6 786.5h0M200.2 778.9h0M200.8 767.1h0M200.9 752.7h0M200.4 739.8h0M201 769.3h0M201 785.6h0M200.6 773.4h0M200.8 761h0M201.2 763.1h0M200.9 776.8h0M201.2 757.5h0M201.5 736.3h0M201.2 779.6h0M201.7 767.9h0M201.5 747.7h0M201.4 770.1h0M201.8 763.8h0M201.4 760.6h0M201.9 760.1h0M201.7 732.8h0M201.6 706.1h0M201.7 782.6h0M202.4 758.8h0M201.8 755.7h0M202.3 780.1h0M202.2 754.8h0M202.6 749.7h0M202.3 756.9h0M202.8 774.8h0M202.3 774.7h0M202.7 770.2h0M202.3 762.7h0M202.8 732.5h0M202.9 742.1h0M202.5 745.8h0M202.5 776.5h0M203 787.7h0M203.4 771.3h0M203.5 762.4h0M203.5 784.2h0M203.1 766.6h0M203.3 759.5h0M203.6 770.4h0M203.8 754.9h0M203.3 785.1h0M203.7 763.6h0M203.7 770.2h0M203.9 779.1h0M203.9 759.5h0M203.9 774.5h0M203.7 777.1h0M203.8 747.7h0M204.3 779.7h0M203.8 760.4h0M204.3 754.1h0M203.9 758.3h0M204.5 787.4h0M204.8 762.5h0M204.1 757.7h0M204.7 782h0M204.3 766.8h0M204.4 751.1h0M204.7 743.4h0M205.1 771.9h0M205.2 779.4h0M205.1 762.9h0M204.7 775.2h0M205.4 779.7h0M205 776.6h0M205.4 728.6h0M205.6 750.3h0M205.5 763.7h0M205.4 758.2h0M205.3 731.8h0M205.3 719.4h0M205.3 770.6h0M206 754.7h0M205.7 780.5h0M205.8 778.6h0M206.3 783.1h0M206.2 775.8h0M205.9 779.1h0M206.4 788.4h0M206.2 762.5h0M206.2 759.6h0M206.6 766.7h0M206.6 760h0M206.6 757.4h0M206.4 758h0M206.5 765.6h0M206.8 765.7h0M206.3 763.2h0M207 763.4h0M206.7 780.8h0M206.6 758.7h0M206.9 782.1h0M206.7 715.3h0M206.8 767.5h0M206.7 785.9h0M207.5 782.2h0M207.1 779.2h0M207.6 754.8h0M207.2 769.6h0M207.5 755.9h0M207.3 744.7h0M207.5 783.9h0M207.8 769.5h0M207.5 781h0M208 763.4h0M207.8 759.4h0M208.1 768.1h0M207.6 756.8h0M208.5 762.9h0M207.8 755.4h0M208.4 757h0M208.2 767h0M208.4 734.2h0M208.4 783.4h0M208.5 744.5h0M208.3 771.5h0M208.5 746.6h0M208.5 726.1h0M209.1 758.7h0M208.7 770.7h0M208.9 788.1h0M208.7 778.2h0M209.2 759.9h0M209.5 788.2h0M208.9 740.6h0M209.4 779.9h0M209.5 759.2h0M209.5 785.7h0M209.5 747.3h0M209.5 782.3h0M209.6 781.2h0M209.8 742.7h0M209.7 756.6h0M209.5 762.6h0M210.2 782.8h0M209.6 785.6h0M210 777.8h0M209.8 765.8h0M209.7 786.7h0M210.1 745h0M209.8 764.2h0M210.4 766.9h0M210.7 786.5h0M210.1 787.9h0M210.4 788.4h0M210.9 724.1h0M210.2 762.4h0M211 779.4h0M210.7 764.6h0M210.7 779h0M210.6 770.5h0M211.3 786.7h0M211.2 779.4h0M210.9 785.1h0M211.1 760.8h0M211 782.2h0M211.5 773.8h0M211 767.4h0M211 753.6h0M211.3 788.3h0M211.6 774.1h0M211.6 780.3h0M211.8 759.6h0M212.1 758.9h0M211.9 771.7h0M212.1 761.7h0M211.7 742.6h0M212.2 743.6h0M212.3 744.5h0M212 768.3h0M211.9 779.4h0M212.2 752.3h0M212.5 780.4h0M212.8 761.1h0M212.1 744.5h0M212.2 768.3h0M212.5 758.8h0M212.5 744.5h0M212.4 779.3h0M212.9 757.6h0M213.1 772.5h0M213.3 769.3h0M213.4 774.7h0M213.2 771.7h0M213 774h0M213.5 773.9h0M213 769.1h0M213 768.9h0M213.5 769.9h0M213.4 772.9h0M213.2 768.3h0M213.5 771.5h0M213.6 764.8h0M213.7 762.6h0M213.6 774.7h0M213.6 776.2h0M213.6 771.6h0M214.2 770.8h0M214.2 750.2h0M214.5 756.8h0M214.2 770.8h0M214.5 760.5h0M214.7 786.1h0M214.6 786.8h0M214.4 769.9h0M214.3 755.6h0M214.4 759.8h0M214.6 733.8h0M215.1 772.1h0M214.8 772.7h0M214.9 774.8h0M214.6 758.6h0M215.2 749.1h0M214.8 760.9h0M215.4 751.5h0M215.3 754.5h0M215.1 775.3h0M215.1 758.6h0M215.8 750.7h0M215.8 778.3h0M215.5 781.9h0M215.8 762.2h0M215.6 752.5h0M216.1 754.6h0M215.7 753.6h0M215.9 782.5h0M216.3 782h0M216.1 760.1h0M215.7 774.3h0M215.9 776.2h0M216.1 741.6h0M215.9 760.8h0M216.1 762.3h0M216.7 713.9h0M216.6 747.9h0M216.3 766.6h0M216.3 773.8h0M216.4 763.8h0M216.8 783h0M217 759.4h0M216.5 751.9h0M217 764.8h0M217.2 787.3h0M216.9 783.1h0M217 736.3h0M217.3 751.6h0M217.3 730h0M217.6 727h0M217.4 752h0M217.1 749.1h0M217.3 751.5h0M217.3 760.7h0M217.6 748.2h0M217.7 758h0M218 783.1h0M217.7 771.9h0M218.1 771.8h0M217.9 780.7h0M218.3 784h0M217.8 779.3h0M218.1 756.1h0M218.6 779.7h0M218.4 756.3h0M218.5 753.2h0M218.1 758.2h0M218.5 757.1h0M218.4 764.9h0M218.6 788h0M219 767.1h0M218.8 742.1h0M219.1 721h0M219.1 773.7h0M218.9 779.8h0M219 739.7h0M219.2 761.6h0M219.3 784.8h0M219.4 768.8h0M219.6 756.6h0M219.4 763.7h0M219.5 769.4h0M219.6 769.4h0M219.9 757.7h0M219.6 784.2h0M220.1 759.6h0M219.6 785.4h0M219.7 782.7h0M220.1 788h0M220.4 772.1h0M220.1 787.6h0M220.2 786h0M220 754.6h0M220.1 780.5h0M220 744.5h0M220.7 781.1h0M220.8 776.4h0M220.3 778.6h0M220.6 765.4h0M220.9 776.2h0M221.1 783.2h0M221.1 764.1h0M220.8 757.6h0M221.2 767.2h0M220.8 767.5h0M220.9 784.2h0M220.9 771.7h0M221.1 774.3h0M221.3 730.6h0M221.1 777.1h0M221.5 759.6h0M221.5 772.9h0M221.2 764.9h0M221.5 779.5h0M221.3 776h0M221.7 751.9h0M221.7 782.2h0M222.3 768.7h0M221.6 727.3h0M222.2 714.1h0M222.2 743.5h0M221.9 740.8h0M222.2 778.5h0M222 769.5h0M222.6 787.5h0M222.8 769.6h0M222.6 779.5h0M222.4 760.1h0M222.8 785.1h0M222.7 725.7h0M222.4 725.2h0M223.2 763.8h0M222.9 775.8h0M222.7 785.6h0M222.8 762.5h0M222.9 784.2h0M223.2 770.7h0M223.2 757.9h0M223.4 771.3h0M223.6 759.2h0M223.3 766.4h0M223.2 719.9h0M223.8 784.4h0M223.8 738.3h0M223.6 763.3h0M224.1 742.5h0M224 759.5h0M223.7 769.9h0M223.7 775.7h0M223.7 734h0M224.5 773.2h0M223.9 757.4h0M224.5 770.6h0M224.1 724.3h0M224.2 781h0M224.2 741.1h0M224.8 785.3h0M224.8 774.4h0M225 757.7h0M224.7 737.7h0M224.4 784.9h0M224.7 760.2h0M224.9 752.2h0M225.2 753.9h0M224.9 760.9h0M225.2 771.2h0M225.2 743.6h0M225.5 763.7h0M225.6 752.8h0M225.5 703.4h0M225.5 774.3h0M225.4 695.3h0M225.8 757.8h0M225.5 732.9h0M225.8 758.9h0M225.9 766.3h0M226 736.4h0M225.8 765.4h0M225.8 782.3h0M226.2 770h0M226 788.3h0M226.3 757.3h0M226.2 769.1h0M226.4 753.9h0M226.2 768.1h0M226.5 764.6h0M226.5 766.9h0M226.5 757.2h0M226.9 765.6h0M226.9 776.1h0M227 770.8h0M227.1 768.5h0M227.2 773.2h0M226.6 777.7h0M226.9 782.5h0M227.3 736.9h0M227.5 742.4h0M227.2 762.8h0M227 768.7h0M227.4 771.7h0M227.1 748.3h0M227.4 771.6h0M227.3 776.4h0M228 746.7h0M227.5 741.5h0M227.9 767.9h0M228.1 769.3h0M227.8 761.9h0M228.1 763.5h0M228 788h0M228.3 763.1h0M228 771.1h0M227.9 778.2h0M227.9 781.1h0M228.6 764.5h0M228.6 763.2h0M228.8 778.8h0M228.8 747.6h0M229 779.1h0M228.8 776.5h0M228.8 755.2h0M229.2 775.9h0M228.7 774.9h0M228.6 758h0M229.1 763.4h0M228.9 785.2h0M229 758.4h0M229.3 777h0M229.3 786.2h0M229.5 777.4h0M229.1 783.1h0M229.3 742.5h0M229.3 765.4h0M230 742h0M229.5 761h0M229.6 756.9h0M229.5 750.4h0M229.7 750.8h0M229.6 728.8h0M230.3 744.9h0M230 778.2h0M230.6 784.2h0M230.1 764.6h0M230.7 786.5h0M230.2 778.8h0M230.3 781.3h0M230.7 749.1h0M230.4 768.4h0M230.9 770.8h0M230.4 762.6h0M231.1 767.1h0M230.6 753.9h0M231.3 758.2h0M231.3 767.8h0M231.1 787.5h0M230.8 776h0M231.2 756.8h0M231.5 749.5h0M231.1 771.4h0M231.6 763.8h0M231.6 773h0M231.3 781.8h0M231.8 771.6h0M231.7 783.9h0M231.3 701.6h0M232 735.1h0M231.9 784.2h0M232.1 787.2h0M232.3 759.7h0M231.7 758.1h0M232 728.7h0M232.1 784.5h0M232.4 756.6h0M232.6 748.9h0M232.2 732.7h0M232.5 781.5h0M232.9 786.2h0M232.4 751.1h0M232.4 781.2h0M233 764.5h0M232.9 781.5h0M233.2 767.3h0M233.2 761.5h0M233.2 775.3h0M232.9 758.9h0M233.1 771.3h0M233.5 783.2h0M233.1 760.6h0M233.1 787.8h0M233.7 783.3h0M233.2 775.5h0M233.4 785.3h0M233.7 776.6h0M233.6 780.3h0M233.6 786.8h0M233.5 784.9h0M234.3 757.1h0M233.6 745h0M234.4 757.2h0M233.8 781.1h0M234 763.8h0M234.4 757.3h0M234.2 760.3h0M234 778.2h0M234.5 771.7h0M234.7 743.6h0M234.9 783.1h0M234.3 773.6h0M234.9 764h0M234.7 767.3h0M235.2 760.7h0M235.2 757.7h0M234.9 775h0M235.1 762.1h0M234.8 716.9h0M235 747.2h0M235.2 748.9h0M235.5 760.6h0M235.3 757.5h0M235.4 771.9h0M235.3 781.2h0M235.2 775.7h0M236 740.4h0M235.4 780.2h0M236.1 747.1h0M235.9 776h0M235.9 770.8h0M235.7 776.2h0M236.4 770.3h0M236.3 751.9h0M236.3 760.5h0M236.6 764.4h0M236.5 782.6h0M236 751.8h0M236.8 785.9h0M236.8 749.5h0M236.7 764.8h0M236.8 780.2h0M236.3 783.7h0M236.5 759.6h0M236.4 738.2h0M237 777.7h0M236.6 767.7h0M236.8 765h0M237.1 755.2h0M237.5 776.9h0M237.3 777.9h0M237.4 740.4h0M237.5 711.2h0M237.2 783.9h0M237.1 785.4h0M237.5 772.7h0M237.8 766.4h0M237.4 761.7h0M237.8 785.5h0M237.7 770.5h0M238.3 758.3h0M237.7 758.2h0M238 779h0M237.8 774.5h0M237.9 754.5h0M238.2 724.8h0M238 771.6h0M238.6 774.8h0M238.7 781h0M238.7 787h0M238.3 765.2h0M238.8 758.8h0M238.9 748.8h0M238.5 763.1h0M238.9 743.2h0M239.2 718.1h0M238.9 764.4h0M239.3 759.3h0M239.3 772.4h0M239.5 787.8h0M239.6 735.6h0M239.1 788.5h0M239.7 774.3h0M239.3 773.6h0M239.9 780.4h0M239.5 784.4h0M239.8 787.2h0M240 787.1h0M239.4 771.7h0M240 774.1h0M239.9 786.4h0M240.2 728.7h0M240 778.4h0M239.8 757.3h0M240.4 767.1h0M240 782.3h0M240.5 707.5h0M240.7 777.5h0M240.7 773.2h0M240.6 762.1h0M240.9 695.2h0M240.9 778.6h0M240.4 769.8h0M240.4 743.3h0M240.9 729.6h0M240.8 766.7h0M241.1 784.4h0M241.2 761.4h0M241.4 774.4h0M240.9 751.4h0M241.4 775.2h0M241.1 756h0M241.2 750.4h0M241.3 785.1h0M241.3 763.3h0M241.8 752.3h0M241.4 763.5h0M242.1 741.3h0M241.8 756.5h0M241.8 763h0M242.2 745.8h0M242 747.9h0M241.7 774.4h0M242.4 769h0M242.4 726.1h0M242.6 758.7h0M242.5 754.4h0M242.2 763.3h0M242.1 783.8h0M242.3 778h0M242.2 735.9h0M242.3 757.7h0M242.6 755.8h0M242.8 787h0M243 738.4h0M243.2 778.8h0M242.8 787.5h0M242.9 755h0M243.4 784.3h0M243.3 776.6h0M243 764.6h0M242.9 776.5h0M243.2 782.6h0M243.8 780.8h0M243.1 766.7h0M243.5 784.9h0M244 769.2h0M244 776.8h0M243.7 775.8h0M243.5 772.4h0M244.1 686.6h0M244.3 783.4h0M244.4 747.6h0M243.9 758.1h0M244 761.3h0M244.6 767.7h0M244.4 786.3h0M244 775.7h0M244.7 756.2h0M244.9 729.9h0M244.2 763.5h0M244.9 765.6h0M244.9 771.9h0M244.8 779.5h0M244.9 763.9h0M244.8 788.1h0M244.9 780.9h0M244.7 749.8h0M245.3 741.6h0M245.4 701.1h0M245.1 750h0M245.5 737.1h0M245.5 776.7h0M245.7 764.5h0M245.3 781.1h0M245.5 759.8h0M245.7 778.5h0M245.9 777.5h0M245.5 761.1h0M245.9 784.3h0M246.1 762.5h0M245.6 762.6h0M246.3 780.4h0M246.1 763.6h0M246.3 764.5h0M246.2 779h0M246.2 778.3h0M246.6 783.4h0M246.2 787.2h0M246.3 759.9h0M246.7 760.2h0M246.5 757.5h0M246.7 767.9h0M247.1 759.8h0M247.1 775.9h0M247.1 769.6h0M246.8 780.3h0M247.1 778.2h0M247.2 788.3h0M246.8 776.6h0M246.9 776.4h0M247.7 756.6h0M247.6 765.7h0M247.7 709.8h0M247.1 760.6h0M247.9 755.5h0M247.3 774.5h0M247.5 783.6h0M247.8 764.8h0M247.7 775.7h0M247.6 689.7h0M248.2 729.6h0M247.8 784.4h0M248.3 731.5h0M247.9 775.3h0M248.6 760.4h0M248.3 778.5h0M248.6 712.8h0M248.7 761.7h0M248.2 758.3h0M248.8 758.9h0M248.8 746.3h0M248.5 777.8h0M248.8 748.2h0M248.5 734.6h0M248.6 755.7h0M249 761.7h0M249.1 760.5h0M249.4 700.2h0M249 756h0M249.6 749.8h0M249.3 771.6h0M249.5 755.1h0M249.1 727.2h0M249.3 760.7h0M249.2 770.9h0M249.6 781.1h0M249.7 739h0M249.9 780.7h0M250.2 755.2h0M250.1 769.8h0M250.3 747.8h0M250.1 776.3h0M250.3 755.4h0M250.4 745.6h0M250 769.1h0M250.2 783.1h0M250.3 750.9h0M250.5 751.3h0M250.6 752.1h0M250.8 775.1h0M250.7 751.3h0M250.5 755.7h0M251.1 776.4h0M250.9 719.1h0M251.2 750.8h0M251.2 782.2h0M251 753.9h0M251.5 757.6h0M251.2 727.8h0M250.9 750.4h0M251.3 759.7h0M251.3 756h0M251.2 785.6h0M251.5 679.7h0M252 781.5h0M251.3 753.2h0M252.1 739.1h0M251.9 750.5h0M251.9 755.1h0M252 746h0M252 733.5h0M252.2 759.4h0M252 775.5h0M251.9 763.4h0M252.5 729.1h0M252.5 772.9h0M252.3 770.9h0M252.2 748.1h0M252.3 753.1h0M253 738.7h0M252.4 788.3h0M253 745.3h0M252.7 764.2h0M253.2 772.4h0M253.1 760.2h0M252.9 734.1h0M253.2 785.1h0M253.2 773.5h0M253.4 746.9h0M252.9 741.3h0M253.7 736.4h0M253.2 770.1h0M253.5 777h0M253.7 747h0M253.8 757.3h0M253.4 785.3h0M254.1 768h0M254.1 784.5h0M253.7 747.2h0M253.7 757.6h0M254 724.2h0M253.9 754.1h0M254.3 752.8h0M254.1 757.5h0M254.5 716.4h0M254.6 718.1h0M254.5 746.6h0M254.7 766.2h0M254.7 732.5h0M254.5 754.5h0M254.4 776.8h0M254.8 714.6h0M255.2 763h0M255 764.3h0M254.8 751.7h0M255.4 774.9h0M255.1 746.2h0M255.5 762.5h0M255.2 761.7h0M255 767.5h0M255.3 749.9h0M255.7 766.5h0M255.7 777.6h0M255.2 773.3h0M255.8 777.6h0M255.5 775.7h0M255.7 755.3h0M255.8 762.5h0M255.5 744.6h0M256.3 757h0M256.3 766.8h0M255.8 749.7h0M255.8 769.5h0M256.3 745.7h0M256.1 774.7h0M256.6 756.6h0M256.2 757.8h0M256.3 715.3h0M256.8 776.1h0M256.8 721.9h0M256.7 760.7h0M256.5 758.2h0M256.4 752.1h0M256.9 773.2h0M257 782.3h0M256.8 759.3h0M257.4 781.8h0M256.9 767.4h0M257.3 739.8h0M257.3 778.9h0M257.3 786.2h0M257.3 774.1h0M257.8 767.8h0M257.2 723.3h0M257.6 754.1h0M257.6 773.5h0M258 750h0M258.1 736.5h0M257.7 763.5h0M258.2 768.9h0M258.4 746.6h0M258.1 753h0M258.2 756h0M258 759.6h0M258.6 775.6h0M258.4 754.4h0M258.5 764.4h0M258.2 785.6h0M258.9 741.2h0M258.7 751.7h0M258.8 762.4h0M258.6 784.3h0M259.2 771.6h0M259.2 775.4h0M258.7 753.1h0M259.4 768.1h0M259.2 764h0M259.2 786.2h0M258.9 757.6h0M259 752.4h0M259.7 755h0M259.6 782.4h0M259.9 755h0M259.2 759.1h0M259.6 750h0M259.5 759h0M259.9 764.3h0M260 774.4h0M259.7 779.5h0M260.3 755.3h0M260.3 757.7h0M260.2 771.3h0M260.3 782.4h0M260.6 753.5h0M260 758.8h0M260.5 773.7h0M260.8 779.6h0M260.3 777h0M260.8 680.3h0M260.8 732.5h0M260.8 770.2h0M261.1 769.8h0M261 782.3h0M260.9 778.1h0M261 757.6h0M260.7 746.5h0M260.8 773h0M261.6 772.3h0M261.5 756h0M261.3 739.9h0M261.5 758.7h0M261.4 755.3h0M261.7 764.4h0M261.9 772h0M261.3 737.2h0M262 781.4h0M262 712.4h0M262 757.5h0M262.2 774.6h0M262.3 774.3h0M262 753.2h0M261.8 755.9h0M262.4 780.6h0M262.1 788h0M262.2 784h0M262.2 740.6h0M262.5 773.8h0M262.5 758.2h0M262.8 788.2h0M262.9 744h0M262.3 783.7h0M263 782.8h0M263.1 762.4h0M263 784.6h0M262.7 758h0M263.2 753.4h0M263.4 786.5h0M262.9 762.8h0M263.5 754.7h0M263.3 759.4h0M263.3 744.1h0M263.3 730.7h0M263.4 721.7h0M263.7 759h0M263.9 780.5h0M263.3 727.3h0M263.9 711.1h0M263.6 750.2h0M264 752.1h0M264 766.1h0M263.9 729.2h0M264.2 756.5h0M263.8 747.1h0M264.4 742.6h0M264.7 782.1h0M264.5 754.4h0M264.4 775.5h0M264.7 780h0M264.9 762.1h0M264.6 750.2h0M265.1 785.8h0M265 761.5h0M264.7 746.7h0M264.7 766.3h0M264.6 753.4h0M265.2 788.2h0M264.7 775.8h0M264.8 741.6h0M265.4 756.7h0M265.7 756.1h0M265.6 778.1h0M265.7 783.3h0M265.3 737.7h0M265.5 781.9h0M266 782.3h0M265.4 781.3h0M265.8 776.2h0M265.6 753.2h0M266 785.1h0M265.8 715.9h0M266.2 766.9h0M266.2 785.9h0M266.1 758.3h0M266.4 764.1h0M266.3 755.2h0M266.1 754.8h0M266.4 773h0M266.6 775h0M266.7 779.1h0M266.9 736h0M267.1 753.1h0M267.2 710.1h0M266.6 742.4h0M266.9 760.9h0M267.1 787.2h0M266.7 762.2h0M266.9 771.6h0M267.5 758.1h0M267.6 774.2h0M267.4 771.3h0M267.5 769h0M267.4 774.5h0M267.8 734.7h0M267.9 758.5h0M267.4 766h0M267.8 762.2h0M267.9 788.3h0M268.2 763.5h0M267.7 784.6h0M267.7 764.2h0M268.1 787.5h0M268.5 748.2h0M267.9 762.7h0M268.5 759.9h0M268.5 772.9h0M268.8 760.5h0M268.2 784.1h0M268.4 767.1h0M269 766.4h0M268.9 779h0M268.6 783.5h0M269 762.1h0M269.1 785.1h0M269 771.9h0M268.7 760.3h0M268.7 757.1h0M269 768.3h0M269.4 782.5h0M269.4 760.9h0M269 741.8h0M269.3 784.4h0M269.7 748.3h0M269.4 759.6h0M269.5 767.7h0M269.9 776.9h0M270.1 730.7h0M269.7 760h0M270.1 773.1h0M269.7 783.7h0M270.1 785.3h0M270.4 759.2h0M270.3 779.3h0M270 760.5h0M270.4 774.2h0M270.3 768.8h0M270.7 768.5h0M270.1 770.2h0M270.2 758.7h0M270.9 779.5h0M270.3 781.9h0M271 786.8h0M270.5 763.9h0M270.6 749.6h0M270.8 689h0M271.1 762.5h0M271.4 762.6h0M271.4 786h0M270.8 751.3h0M270.9 759.1h0M271 769.3h0M271.4 770.6h0M271.6 758h0M271.8 679h0M271.3 765.1h0M271.5 784.2h0M271.7 757.3h0M272.2 774.7h0M271.8 764.6h0M272.3 775.9h0M272 782.3h0M271.8 764h0M272.1 751.1h0M272.4 762.9h0M272.3 786.3h0M272.1 761.7h0M272.6 764.7h0M272.6 757.9h0M272.5 754.8h0M272.5 757.4h0M272.4 759.8h0M272.3 760.9h0M272.6 763.1h0M272.5 773.1h0M272.8 749.5h0M273.2 766.6h0M273.3 756h0M273.1 781.6h0M273.1 770.7h0M273.5 757.1h0M273.2 776.3h0M273.2 772.1h0M273.2 762h0M273.4 764.2h0M273.4 754h0M273.7 778.6h0M273.8 761.5h0M274 772.2h0M273.7 721.6h0M274.3 707.9h0M273.9 788.1h0M274 760.1h0M274.2 747.1h0M274.5 760.8h0M274.4 778.1h0M274.7 783.8h0M274.4 773.8h0M274.3 767.6h0M274.9 773.3h0M274.8 756.3h0M274.9 785.9h0M274.6 763.6h0M274.4 775.9h0M274.8 767.1h0M275.3 779.5h0M275.3 742.8h0M274.9 753.2h0M275.3 781h0M275.6 762.7h0M275.3 781.5h0M275.5 746.8h0M275.6 783.7h0M275.8 772h0M275.9 773.1h0M276 771.7h0M275.5 762.1h0M275.4 735h0M275.8 769.6h0M276.3 769.1h0M275.9 736.4h0M276 762.9h0M275.7 744.2h0M276.5 777.8h0M275.9 766.3h0M276.6 774.8h0M276.4 780h0M276.4 761.1h0M276.6 776.2h0M276.4 783.9h0M276.5 776.9h0M276.7 774.6h0M276.5 759.7h0M277.2 760.4h0M277.2 775.8h0M276.9 750.6h0M277.3 774.8h0M277 759.4h0M277.1 782.7h0M277.4 753.7h0M277.3 757.4h0M277.2 749.4h0M277.1 744.1h0M277.5 786.9h0M277.8 780h0M277.4 760.3h0M278 759.1h0M277.5 778.1h0M277.4 760.1h0M277.6 774.1h0M277.9 699.2h0M278.2 773.7h0M278 760.3h0M278.1 775.7h0M278.1 781.7h0M278.4 774.7h0M278.5 780.3h0M278.5 788.3h0M278.6 757.1h0M278.2 778.8h0M278.8 779.7h0M278.7 759.3h0M278.4 778.1h0M279.1 764.7h0M278.6 778.2h0M279.3 775.8h0M279.1 690.4h0M278.8 780.8h0M278.9 782.5h0M278.9 762.1h0M279.6 786.2h0M279.3 772.4h0M279.5 763h0M279.3 783.6h0M279.9 777.9h0M279.8 761.2h0M279.6 778.6h0M279.7 745h0M279.7 763.5h0M280.1 764.4h0M279.8 781.4h0M280.3 774.1h0M280.1 763.7h0M280.3 726.6h0M279.9 776.5h0M280.4 744.8h0M280.2 760.7h0M280.1 755.6h0M280.5 771.9h0M280.3 758.4h0M280.7 786.2h0M280.4 778.6h0M281.1 757.1h0M280.7 783.7h0M280.7 755.5h0M280.7 767.9h0M281.4 705h0M280.9 750.1h0M281.2 776.1h0M281.6 783.7h0M281.4 780h0M281.4 786.7h0M281.3 763.5h0M281.1 729.8h0M281.2 782.8h0M281.5 781.6h0M281.5 757h0M281.7 773.6h0M281.7 772.8h0M281.8 785.1h0M281.9 771.6h0M281.6 743.7h0M282.4 767.2h0M282 735.3h0M282.5 775.7h0M282.2 746.6h0M282 755.2h0M282.7 744.9h0M282.7 760h0M282.6 777h0M282.8 764.6h0M283 752.4h0M282.9 786.8h0M282.6 779.7h0M283.3 757h0M283 746.2h0M282.8 786.5h0M282.8 777.9h0M283.5 784.6h0M283 776h0M283.1 775h0M283.1 764.6h0M283.8 768.4h0M283.8 765.4h0M283.6 768.9h0M283.9 777.1h0M283.5 703.6h0M283.6 773h0M284.1 751.8h0M283.6 785.1h0M284.1 737.6h0M284.2 771.4h0M284.5 781h0M284.1 763.3h0M284.6 757.4h0M284.1 767h0M284.5 755.5h0M284.1 754.3h0M284.1 760.3h0M284.5 719.9h0M284.3 777.5h0M284.5 783h0M284.5 753.9h0M284.7 783.6h0M284.9 779.1h0M285 777h0M285.1 760.2h0M285.1 759.8h0M285.1 752.3h0M285.3 773.3h0M285.2 767.1h0M285.2 762.8h0M285.5 782.4h0M285.8 731.9h0M285.4 762.9h0M286 727.3h0M285.6 752.1h0M285.7 740.6h0M285.8 708.3h0M285.6 778.3h0M286 772.1h0M286 756.3h0M286.1 777.3h0M286.1 746.2h0M286.1 756.8h0M286.5 765.1h0M286.4 767.4h0M286.7 739.8h0M286.3 769.1h0M286.5 779.4h0M286.9 768.3h0M287 778.7h0M286.6 774.8h0M287.1 779h0M287.1 783.5h0M286.8 703h0M287.2 683.4h0M287.3 741.3h0M287.5 713h0M287.1 694.8h0M287.5 721h0M287.8 730.8h0M287.4 756.1h0M287.7 751.5h0M288 773.2h0M287.3 786.8h0M288 754.4h0M288.1 759.3h0M288 786h0M288.1 753.1h0M288.2 750.2h0M288.4 735.6h0M287.7 771.7h0M288.1 776.6h0M288.5 763.9h0M288.3 727.4h0M288.1 730.3h0M288.1 764.4h0M288.2 722.9h0M288.3 757.6h0M288.7 754.4h0M288.7 781.3h0M288.9 738.1h0M289.1 747.7h0M289 749.7h0M288.9 769.5h0M288.7 741h0M288.9 782.1h0M289.4 753.6h0M289.3 695.8h0M289.4 768.3h0M289.6 777.8h0M289.1 787.8h0M289.8 729.1h0M289.9 779.1h0M289.6 770.4h0M289.8 777.2h0M289.8 769.1h0M289.6 728.5h0M290.3 707.4h0M289.9 749h0M289.9 775.7h0M290.3 777.1h0M290.3 719.9h0M290.5 766h0M290.2 757.9h0M290.7 720.8h0M290.3 762.4h0M290.4 757.3h0M290.2 763.4h0M290.4 759.6h0M290.7 736.2h0M290.6 758h0M290.7 749.7h0M291.1 774.1h0M291 784.7h0M290.7 724.3h0M290.9 770.3h0M291.4 756.4h0M291.4 787.6h0M291.6 764.7h0M291.2 776.5h0M291.7 772.9h0M291.4 765.2h0M291.3 768.8h0M291.5 755.5h0M292 759h0M291.9 759.2h0M292.1 714.7h0M292.2 764.3h0M292.2 766.1h0M291.9 749.4h0M292.1 680.8h0M292.2 767.9h0M292.6 739.4h0M292 723.9h0M292.8 773.6h0M292.2 759.2h0M292.3 788.1h0M292.7 759.5h0M292.8 783.5h0M292.5 774.2h0M292.8 737.2h0M293 777.8h0M293.1 784h0M292.6 759.5h0M292.9 736.9h0M293 777.4h0M293.3 787.9h0M293 739h0M293.3 759.2h0M293.6 787.9h0M293.3 766.3h0M293.9 776.2h0M293.8 767.3h0M293.5 764.1h0M293.7 754.1h0M293.7 771.8h0M294 756.2h0M293.8 741.3h0M294 765.8h0M293.9 765.2h0M294.4 726.8h0M293.8 753.6h0M294.1 726.9h0M294.2 754h0M294.6 727.7h0M294.1 771.3h0M294.3 778.9h0M294.7 785.8h0M294.9 749.6h0M294.6 748.2h0M294.7 779.6h0M294.6 769.9h0M294.8 758.7h0M294.6 782.3h0M295 746h0M295.3 764.2h0M295.3 761.3h0M295 776.4h0M295.6 711.1h0M295.1 780.3h0M295.6 785.3h0M295.5 786.4h0M296 761.1h0M295.8 788.4h0M296 752.1h0M296.1 769.2h0M295.8 759.4h0M295.8 772.2h0M296.4 759.7h0M295.9 692.4h0M296.3 781.4h0M296.6 775h0M296.7 754.8h0M296.3 769.5h0M296.8 784.9h0M296.5 767.3h0M296.7 777.1h0M297 758.2h0M296.9 771.7h0M296.4 751.8h0M296.7 764.4h0M296.8 778.9h0M296.8 753.8h0M297.1 735.5h0M296.9 780.7h0M296.8 759.6h0M297.1 761.4h0M297 746.1h0M297.3 711.8h0M297.4 779.8h0M297.8 751.8h0M297.5 781.2h0M297.5 769.6h0M297.6 785.1h0M297.7 783.7h0M297.4 721h0M298 745h0M298.2 761.2h0M298.3 776.1h0M298.5 777h0M298.5 768.5h0M298.4 746.1h0M298.7 771.8h0M298.1 782.8h0M298.3 757.4h0M298.4 747.3h0M298.3 757.4h0M298.7 767.7h0M298.7 755.3h0M298.7 717h0M299.2 771.4h0M299 729.9h0M299.1 747.4h0M299.2 778h0M299 777.7h0M299.2 770.3h0M299.4 725h0M298.9 783h0M299.3 777.9h0M299.1 771.9h0M299.8 786.6h0M299.9 773.2h0M299.4 780.2h0M299.4 772.2h0M299.4 769.3h0M299.7 779.9h0M299.9 758.8h0M300 786.6h0M299.8 776.9h0M300.2 785h0M300 769.4h0M300.2 754.5h0M300.2 766.6h0M300.3 786.7h0M300.5 777.8h0M300.3 785.7h0M300.5 767.1h0M300.7 773.5h0M300.5 735.2h0M300.9 784.1h0M300.6 761.8h0M301 764.7h0M300.8 785.2h0M300.8 776.3h0M300.8 761.1h0M301.3 781.9h0M301.3 765.1h0M301.3 769.3h0M301.2 764.3h0M301.3 767.8h0M301.8 778.1h0M301.5 781.7h0M302 760.3h0M302 778h0M301.5 780.3h0M301.7 768.4h0M301.8 774h0M301.6 784.6h0M302.2 785.2h0M302 757.4h0M301.8 776.1h0M302 771.4h0M302 740.1h0M302.5 762.8h0M302.2 761h0M302.1 784h0M302.5 773.2h0M302.8 774.8h0M302.8 740.5h0M302.7 761.6h0M302.7 764.2h0M302.9 784.3h0M303.1 774.8h0M303.2 787.9h0M303 770.6h0M303 786.1h0M303.4 763.1h0M303.5 767.7h0M303.3 767.8h0M303.2 766.6h0M303.4 712.4h0M303.7 756.2h0M303.3 780.8h0M303.3 786.8h0M303.6 673.8h0M304 782.4h0M304.1 761.1h0M303.9 771.3h0M303.8 761.9h0M303.8 763.1h0M304.1 784.6h0M303.8 765.1h0M304.7 757.4h0M304.4 769.9h0M304.8 780h0M304.3 784.5h0M304.6 783.2h0M304.3 788h0M304.6 788.4h0M304.9 748.6h0M304.6 772h0M304.8 759.5h0M305 753.1h0M305.4 762h0M304.8 758.7h0M305.4 772.8h0M305 731.6h0M305.1 766.8h0M305.3 772.3h0M305.2 787.6h0M305.6 723.5h0M305.5 787.1h0M305.7 761.1h0M305.7 765.7h0M305.9 762h0M305.9 785.6h0M305.6 765.7h0M305.8 697.9h0M306 771.5h0M305.8 781.6h0M305.8 771.6h0M306.5 750.3h0M306.4 723.6h0M306.5 775.4h0M306.3 786h0M306.3 759h0M306.5 764.1h0M306.3 754.8h0M306.6 757h0M306.4 776.4h0M306.6 769.1h0M306.7 754.4h0M306.9 770.6h0M307.2 774.5h0M307.4 773.9h0M307.1 787.2h0M307.6 759.8h0M307.7 753.7h0M307.1 754.6h0M307.5 778.8h0M307.3 780.3h0M307.7 753.2h0M307.3 762.9h0M307.4 760.1h0M307.7 782.7h0M307.6 758.4h0M307.7 756.4h0M308.3 771.4h0M308.2 708.3h0M307.8 785.2h0M308.1 735.1h0M308 756.8h0M308.4 764.9h0M308.5 785.1h0M308.1 677.1h0M308.7 752.9h0M308.4 770.9h0M308.9 774.1h0M308.7 770.2h0M308.8 769.9h0M309.1 784.7h0M308.7 779.8h0M308.9 757.9h0M309.3 713.4h0M309.1 783.9h0M309.2 765.5h0M309.5 761.9h0M309.7 777h0M309.4 762h0M309.4 755.6h0M309.8 759.4h0M309.4 753.4h0M309.7 760.5h0M310.1 784.6h0M309.7 767.5h0M309.6 756.6h0M309.6 761.5h0M309.7 782.6h0M310.1 769.2h0M310.3 769.5h0M309.9 762.7h0M310.5 780.4h0M310.6 757.8h0M310.8 776h0M310.1 767.5h0M310.4 742.8h0M310.9 781.6h0M310.9 779.7h0M311 756.7h0M310.9 748.9h0M310.5 771.7h0M310.7 756.3h0M311.1 764h0M311 744.3h0M311.5 761.8h0M311.4 769.3h0M311.5 785.4h0M311.1 735.3h0M311.5 764.8h0M311.2 784.5h0M311.8 747h0M311.9 773.9h0M312 778h0M311.3 786.8h0M311.6 778.1h0M312.1 774.8h0M312.3 774h0M311.7 765.2h0M312.2 761.9h0M312.2 785.8h0M312.3 765h0M312.5 780.8h0M312.5 765.7h0M312.5 758.4h0M312.6 779h0M312.7 758.1h0M312.3 753.2h0M312.5 759.5h0M312.5 767.6h0M312.6 701h0M313 778.7h0M313.1 780h0M313.3 781.3h0M313.4 770.8h0M313.2 759.2h0M312.8 779.8h0M313.3 780.7h0M313.6 763.2h0M313.4 747.3h0M313.2 740.7h0M313.8 760.7h0M313.2 761.6h0M313.3 776.9h0M313.4 787.8h0M313.8 760.1h0M314.2 746.7h0M314.3 781.8h0M314.1 739.7h0M314.1 763.5h0M313.8 758.1h0M314.3 787.5h0M314 766.5h0M314.3 767h0M314.6 776.5h0M314.4 774.7h0M314.8 759.9h0M314.9 763.3h0M314.3 767.4h0M315.1 762.3h0M314.4 787.9h0M314.7 772h0M314.9 782.3h0M315.3 772.2h0M315 774.3h0M314.8 765.8h0M315.1 780.2h0M315.4 785.4h0M315.2 777.7h0M315.6 781.1h0M315.4 770.4h0M315.9 766.8h0M316 738.5h0M315.7 777.5h0M315.8 765.5h0M315.7 756.4h0M315.8 755.1h0M315.9 769.5h0M315.7 772.7h0M316.1 786.3h0M316 759.9h0M316.5 787.8h0M316.4 779.3h0M316 758.2h0M316.3 759.4h0M316.7 768.6h0M316.6 760.2h0M316.7 786.6h0M316.7 786.4h0M316.4 755.5h0M316.5 760.5h0M317 740.2h0M317.1 784h0M316.8 779.4h0M317 775.4h0M317 786.4h0M317.4 760.2h0M316.9 752.4h0M317.5 768.1h0M317.5 785.5h0M317.2 773.2h0M317.9 722.4h0M317.7 780h0M317.8 705.2h0M317.4 763.5h0M317.8 766.1h0M317.5 779.7h0M317.7 761.1h0M317.9 778.3h0M318.2 774.3h0M318.2 768.5h0M318.5 761.1h0M318.5 723.9h0M318.3 764h0M318.1 776.2h0M318.3 732.1h0M318.8 773.6h0M318.7 760.4h0M318.6 772.6h0M318.4 758.1h0M318.9 760.9h0M319.1 753.6h0M319 771.6h0M319.1 763.7h0M318.7 776.3h0M319.2 787.3h0M319.6 783.7h0M319.6 774.3h0M319.2 766.9h0M319.6 778.3h0M319.6 771.8h0M319.5 783.7h0M319.3 773.9h0M320 773.5h0M320.1 774.9h0M319.7 724.4h0M319.9 773.6h0M320 764.4h0M320.2 751.5h0M320.1 772.5h0M320.5 775.7h0M320.6 779.9h0M320.6 748.8h0M320.4 786.3h0M320.6 781.9h0M320.4 756.7h0M320.9 784.2h0M320.6 753.6h0M320.7 735.5h0M321 747.1h0M320.6 772.1h0M320.6 767.2h0M321.1 770.7h0M321.4 768.4h0M321.4 762.5h0M321.3 759h0M321 782.7h0M321.5 771.4h0M321.3 772.3h0M321.6 775.7h0M321.2 750.3h0M321.6 760.9h0M321.3 754.2h0M321.3 743.6h0M322.1 764.6h0M321.5 758.5h0M322.2 787.9h0M322.3 750.5h0M322.1 780.1h0M322.2 760.3h0M322.2 755.5h0M322.1 755.3h0M322.3 769.1h0M322.3 769.8h0M322.1 776.5h0M322.6 779.3h0M322.5 715.4h0M322.7 764h0M322.7 763h0M323 769.9h0M323 751.6h0M323.2 768.9h0M323.3 768.2h0M322.9 758.5h0M323.5 781.5h0M323.5 778.9h0M323 779h0M323 745.3h0M323.2 787.7h0M323.8 773h0M323.7 760.4h0M323.2 768.4h0M323.4 754.6h0M323.6 713.2h0M323.7 757.3h0M324 763.1h0M323.6 761.3h0M324.3 773.7h0M324.2 761.5h0M323.8 770h0M323.9 747.9h0M324.3 771.2h0M324.6 782.2h0M324.5 746.2h0M324.8 786.7h0M324.5 758.9h0M324.2 770.9h0M324.9 767.4h0M324.8 774.4h0M325.1 759.7h0M324.7 733.5h0M324.9 749.2h0M325.3 781.2h0M324.7 743.2h0M325 771.9h0M325.4 754.4h0M325.4 764.2h0M325.4 771.4h0M325.5 785.1h0M325.4 775.7h0M325.8 764.5h0M325.3 761.2h0M325.3 779.6h0M325.7 729.4h0M325.8 758h0M325.6 698.7h0M325.9 783.1h0M326 765.4h0M326.4 788.1h0M325.8 744.6h0M326.2 730.3h0M326.3 737.1h0M326.1 739.2h0M326.4 762.6h0M326 699.9h0M326.9 762.8h0M326.3 780.2h0M326.5 783.1h0M326.8 785.6h0M326.6 778.2h0M327.1 763h0M326.7 761.3h0M326.8 776.7h0M326.7 779.7h0M327.1 752.6h0M327 772.3h0M327.1 784.3h0M327.6 719.7h0M327.3 777.7h0M327.3 741h0M327.1 781.6h0M327.4 747.2h0M327.3 764.5h0M328 771.8h0M327.5 769h0M328.2 785.1h0M328.1 760.7h0M328.2 764.9h0M328.3 778.3h0M328.1 777.1h0M328 764.3h0M327.9 752.3h0M328.1 713.8h0M328.3 761h0M328.2 786.3h0M328.4 749.1h0M328.5 756h0M328.4 785.6h0M328.6 774.3h0M328.9 774.8h0M328.9 760.7h0M329.3 763.5h0M329.2 754.5h0M329 774h0M329.3 779.5h0M329.1 756.5h0M329.2 768h0M329.5 706.4h0M329.3 756.9h0M329.6 717.3h0M329.8 758.1h0M329.9 776.7h0M329.9 767.8h0M330 767.6h0M329.4 771.5h0M330.1 764.2h0M330.1 762.1h0M329.7 760.4h0M330.4 767.2h0M330.2 751.6h0M330.5 760.8h0M330.4 783.3h0M330.1 787.3h0M330.2 775.3h0M330.1 758.3h0M330.5 759.4h0M330.3 735.3h0M330.4 775.7h0M330.6 768.1h0M331.1 784.5h0M330.7 779.1h0M330.8 787.9h0M330.8 760.1h0M330.9 772.7h0M331.4 716.2h0M331 788.2h0M331.2 757h0M331.5 761.2h0M331.2 733.3h0M331.7 783.7h0M331.4 765.1h0M331.3 769.7h0M331.5 760.3h0M331.7 752.3h0M332 777.5h0M331.8 742.8h0M331.5 773.4h0M332 771.4h0M332.1 775.6h0M332.2 776.7h0M331.9 762.3h0M332.2 783.7h0M332.1 776.1h0M332.2 765h0M332.4 757.1h0M332.2 764.7h0M332.7 754h0M333 766.8h0M332.4 783.2h0M333 758.6h0M332.9 768.8h0M332.9 786.6h0M333.1 772.1h0M332.9 745.3h0M333.1 773.3h0M333.1 787.1h0M333.4 761.1h0M333.2 730h0M333.4 787.3h0M333.3 756.9h0M333.2 770.3h0M333.5 702.3h0M333.4 785.1h0M333.4 757.3h0M333.5 762.5h0M334.2 781.6h0M333.9 776.7h0M333.8 729.5h0M333.7 779.9h0M334.1 761.8h0M334.3 741.2h0M334.5 741.5h0M334.7 773.8h0M334.8 773.9h0M334.6 775.7h0M334.7 758.6h0M334.2 768.9h0M334.5 784.6h0M334.8 784.7h0M334.4 782.8h0M334.7 757.8h0M335.3 783.6h0M334.8 788h0M334.8 762.1h0M335 787.9h0M335.4 761.5h0M335.2 768.6h0M335 785.6h0M335.5 771.4h0M335.7 786h0M335.7 758.8h0M335.3 771.7h0M335.4 788.2h0M335.6 783.9h0M336 775h0M335.9 760.9h0M336 758.9h0M335.7 786.4h0M335.9 778.9h0M336.1 767h0M336.5 779.5h0M336 787h0M336.6 740.2h0M336.8 769.5h0M336.6 758.4h0M336.5 785.7h0M336.5 758.2h0M336.3 776.1h0M336.5 770.1h0M336.5 775.5h0M336.9 781.9h0M336.7 760.7h0M337.3 763.8h0M337 762.5h0M337.2 758.6h0M337.1 754.9h0M337.4 773.7h0M337.1 754.2h0M337.8 786.6h0M337.1 781.1h0M337.3 780.4h0M337.6 773.4h0M337.7 776.9h0M337.8 785.8h0M337.7 775h0M337.8 756.4h0M338 756.4h0M337.7 761.8h0M338.4 767.1h0M338.4 771.3h0M337.9 779.8h0M338.3 784.4h0M338.3 779h0M338.5 768.4h0M338.5 759.2h0M338.4 768.2h0M339 776.6h0M338.9 780.4h0M338.7 787.6h0M338.4 783.6h0M339.3 770h0M339.2 752.9h0M338.9 762h0M338.7 747.9h0M339.1 782.7h0M339 779.5h0M339.7 775.6h0M339.7 765.4h0M339.2 785.3h0M339.8 779h0M339.6 759.6h0M339.6 756.6h0M339.4 757.6h0M339.7 782.5h0M340 762.2h0M339.9 785.1h0M340 759.3h0M339.9 774.5h0M340.4 729.6h0M339.8 760.7h0M340 780.6h0M340.2 764.2h0M340.5 760.8h0M340.7 776.9h0M340.6 727.8h0M340.2 779.7h0M340.9 766h0M340.3 764.4h0M340.8 785.4h0M341 781.6h0M340.7 769h0M340.8 767.4h0M341.3 755.3h0M341.2 785.6h0M340.8 775.3h0M341.1 783.1h0M341 785.5h0M341.2 773h0M341.2 771.4h0M341.3 769.2h0M341.5 776.5h0M341.9 771.4h0M341.9 753.3h0M341.6 751.3h0M341.7 752.4h0M341.8 772.8h0M342.2 756.7h0M341.8 781.6h0M342 759.9h0M342.1 781.4h0M342.2 786.1h0M342.5 775.8h0M342.5 784.8h0M342.4 774.1h0M342.1 766.1h0M342.9 757.9h0M342.3 767h0M342.7 773.2h0M342.9 776h0M342.7 753.4h0M342.8 780.3h0M342.9 753.4h0M342.9 771.6h0M343 785.1h0M342.9 773.6h0M343 786.4h0M343.5 768.9h0M343.7 779.4h0M343.6 770h0M343.4 754.1h0M343.5 700.3h0M343.2 770.2h0M343.4 772.1h0M343.6 787.3h0M344 778.1h0M343.6 758.6h0M344.1 787.1h0M343.7 767.1h0M344.3 727.4h0M344 776.5h0M343.8 773.2h0M344.3 761h0M344.5 765h0M344.6 757.3h0M344.8 731.9h0M344.3 768.3h0M344.7 759.2h0M344.7 767.4h0M344.8 770.4h0M345 787.7h0M344.7 765.8h0M344.9 787.1h0M345.3 764.6h0M345.4 744.3h0M345 776.2h0M345.5 774.5h0M345.4 781.7h0M345.6 730.6h0M345.6 781.7h0M345.5 768h0M345.3 770.5h0M345.6 766.2h0M345.7 762.3h0M346 778.1h0M346.1 771.4h0M345.6 781.7h0M345.9 785.9h0M346.3 782.2h0M346 684.6h0M346.2 778.5h0M346 776.9h0M345.9 774.1h0M346.1 787.2h0M346.7 771.8h0M346.6 784.1h0M346.5 780.3h0M346.9 767.3h0M347 763.4h0M346.8 776.4h0M346.5 752.7h0M346.9 785.7h0M346.7 784.8h0M346.8 734.3h0M347.3 769.1h0M347.2 762.4h0M347.4 775.4h0M347 772.4h0M347.2 741.7h0M347.2 719.2h0M347.2 776h0M347.4 774.8h0M347.6 759.4h0M348 786.1h0M347.7 765.7h0M348.2 782.7h0M348 774.5h0M347.8 764.7h0M348.3 780.5h0M347.9 780.8h0M348.2 780.7h0M347.9 786.2h0M347.9 775.3h0M348.3 783.8h0M348.7 761.6h0M348.9 746.6h0M349 788h0M348.5 782.7h0M348.9 783.9h0M348.5 760.6h0M348.5 764h0M348.9 713.6h0M348.9 760h0M348.9 784.9h0M349.2 767.5h0M349.5 770.7h0M349.6 762.7h0M349 772.1h0M349.6 755.9h0M349.5 744.2h0M349.4 787.2h0M349.8 778h0M350 783.7h0M349.6 781.7h0M349.5 777.8h0M349.5 776.2h0M350 729.1h0M349.7 765.4h0M350.4 771.2h0M350.5 771.8h0M350.2 771.6h0M350.5 752.7h0M350.2 785.8h0M350.2 765.2h0M350.1 766.9h0M350.9 757.9h0M350.5 780.6h0M350.8 786h0M350.9 751.5h0M350.9 761.5h0M350.5 779h0M350.8 765.6h0M350.9 772.7h0M350.8 737.3h0M350.8 773.8h0M350.8 771.7h0M351.5 768.6h0M351.4 750.3h0M351.5 760.1h0M351.1 753.6h0M351.4 782h0M351.2 770.5h0M351.7 775.5h0M351.8 768h0M351.9 768h0M351.8 782.3h0M352.1 763.6h0M351.7 786.7h0M352.3 776.4h0M352.3 784.2h0M352.2 777.9h0M352 778.1h0M352.5 766.3h0M352.3 785.9h0M352.3 771.5h0M352.4 768.9h0M352.9 754h0M352.7 745h0M352.4 783.3h0M353 767.2h0M353 751.9h0M352.9 745.2h0M353.3 784.9h0M353.3 775.2h0M353.4 768.1h0M352.9 768.4h0M353 788.3h0M353.6 776.2h0M353.5 764h0M353.4 768.4h0M353.4 763.9h0M353.3 786.6h0M353.5 770.2h0M353.7 761.7h0M353.7 773.9h0M353.8 783.6h0M353.9 774.9h0M354 777.4h0M354.2 784h0M353.8 775.7h0M354.1 765.8h0M354 769.2h0M354 787h0M354.7 785.7h0M354.4 770h0M354.3 783.8h0M354.4 748.5h0M354.5 748.6h0M354.8 742.4h0M355 788.2h0M354.8 776.3h0M354.6 787.3h0M355.3 743.5h0M355.3 781h0M355.2 778.1h0M355.3 687.6h0M355.4 749.7h0M355.5 782.5h0M355.2 763.3h0M355.5 770.7h0M355.2 755.1h0M355.7 777.3h0M355.4 771.1h0M355.6 780.6h0M356.2 770.8h0M356 780.9h0M355.8 747.1h0M356.4 760.3h0M356.1 784.4h0M356.5 778.4h0M356.2 773.4h0M355.9 748.9h0M356.6 776h0M356.5 787.7h0M356.6 778h0M356.2 777.9h0M356.3 752.2h0M356.4 781.1h0M357.1 778.9h0M356.4 776.4h0M357.1 774.9h0M357.2 770.8h0M356.8 753.1h0M356.7 761.3h0M357.4 761.1h0M357 773h0M357.4 747.7h0M357.5 763.5h0M357.5 772.3h0M357.7 765.8h0M357.5 769.1h0M357.8 781.5h0M357.5 778.3h0M357.8 746.4h0M357.4 786.4h0M358 751h0M357.6 784.4h0M358 777.6h0M357.7 746.8h0M358 774h0M357.9 770.6h0M358.5 769.5h0M358.7 756.9h0M358.2 766.6h0M358.5 767.2h0M358.4 778.8h0M358.6 788.3h0M358.8 770.8h0M359.1 773h0M358.5 778.5h0M358.9 781.5h0M359.2 768.3h0M358.9 750.7h0M358.7 763.6h0M358.8 755.8h0M359 775.7h0M359.1 761.9h0M359.6 765.5h0M359.2 763.7h0M359.4 773.9h0M359.2 770h0M359.3 782.3h0M359.4 787.4h0M360 780.8h0M359.9 781h0M359.6 782h0M360 765.9h0M360.4 764.4h0M360.3 758.4h0M360.2 761.2h0M360.1 779.5h0M359.9 764.7h0M360.7 769.6h0M360.7 766.8h0M360.9 787h0M360.9 782.5h0M360.7 780.9h0M360.3 771h0M360.9 775.3h0M360.5 757.3h0M361.1 783.8h0M360.7 778.3h0M360.9 787.4h0M361.3 753.4h0M360.8 756.6h0M361.2 784.4h0M361.6 769.3h0M361.3 786h0M361.1 779.9h0M361.9 779.9h0M361.4 774.9h0M361.8 778.2h0M361.9 780.9h0M361.8 784.5h0M362.2 736.4h0M361.9 770.4h0M361.8 786.3h0M362.3 787h0M362.3 766.2h0M361.9 787.6h0M362.3 766.9h0M362.4 754.5h0M362.6 788.2h0M362.2 757.4h0M362.8 779.3h0M362.7 787.2h0M362.6 769.1h0M362.7 763h0M362.5 754.6h0M363 762.6h0M362.9 763.3h0M362.8 764.3h0M363.3 764.5h0M363.3 762.1h0M362.8 771.2h0M363.6 763.9h0M363.1 753.8h0M363.1 778.6h0M363 741h0M363.5 784.7h0M363.2 781.1h0M363.4 769.3h0M363.5 768.6h0M363.9 761.8h0M363.6 779h0M363.7 783.6h0M364.3 784.2h0M364.4 769.2h0M364.1 788.1h0M363.9 751.8h0M364.4 774.4h0M364 780.3h0M364.6 777.1h0M364.5 771.7h0M364.3 786h0M364.3 788.3h0M364.4 754.6h0M364.8 783.1h0M364.5 764.6h0M365.1 758.4h0M364.8 762.9h0M365 749.2h0M364.6 768.2h0M365.2 761.9h0M364.8 781h0M365.4 768.6h0M365.3 733.7h0M365.4 773.5h0M365.6 762h0M365.7 765.1h0M365.8 759.3h0M365.5 767.3h0M366.1 769.8h0M366.1 772.7h0M366.2 766.5h0M366.3 760.7h0M366.1 772h0M366.4 765.4h0M366.1 780.9h0M366 764.2h0M366.3 779.2h0M366.5 759.9h0M366 779.6h0M366.5 770.1h0M366.9 764h0M366.8 772.8h0M366.8 776.5h0M366.8 774.4h0M367.2 756.5h0M366.6 776.6h0M367 704.6h0M367.2 779.1h0M367.2 775.8h0M367.2 775.3h0M367.1 777.4h0M367.2 738.9h0M367.3 783.4h0M367.1 778.8h0M367 784.1h0M367.9 764.5h0M367.9 768.5h0M367.3 785.7h0M368 770.5h0M368 763.7h0M367.5 772.6h0M367.8 760.2h0M367.8 787.8h0M367.7 750.9h0M368 780.8h0M368.3 780.2h0M368.3 746.1h0M368.4 781h0M368.3 776.7h0M368.5 783.3h0M368.2 782.3h0M368.3 768.5h0M368.6 778.3h0M368.6 771.4h0M368.8 772h0M368.9 773.4h0M368.8 757.8h0M369.4 772.8h0M368.9 777.2h0M369.3 776.2h0M369 776.3h0M369.3 755h0M369.4 778.4h0M369.3 769.4h0M369.3 770h0M369.6 772.5h0M369.7 760.7h0M369.7 774.3h0M369.9 784.7h0M369.8 780.8h0M370.1 772.5h0M370.1 766.7h0M370.1 761.8h0M370 775.1h0M370 767.4h0M370.1 779h0M370.4 777.2h0M370.2 785.8h0M370.7 770.8h0M370.7 765.2h0M370.3 763.9h0M370.8 777.3h0M370.5 781.6h0M370.7 765h0M371.1 771.9h0M371 761.2h0M371.2 742.6h0M371.2 781.4h0M370.8 787.9h0M371.1 770.7h0M371.4 786.2h0M370.9 779.5h0M371.6 785h0M371.4 765.1h0M371.1 759.5h0M371.4 780.9h0M371.9 782h0M371.6 787.4h0M371.6 775.8h0M371.4 786.7h0M371.5 755.9h0M372 777.5h0M371.6 763.9h0M371.7 762.8h0M371.9 787.2h0M372.4 779.8h0M372.2 787.1h0M372 759.8h0M372.4 773h0M372.2 771.2h0M372.6 766.2h0M372.9 765.9h0M372.3 782.2h0M372.6 770.2h0M372.9 782.6h0M372.5 765.5h0M372.8 778.4h0M373.2 761.6h0M372.9 757.3h0M372.9 766.8h0M373 780.2h0M373.1 750.8h0M373.1 709.5h0M373 767.9h0M373.7 786.9h0M373.4 767.5h0M373.7 770.1h0M374 775.9h0M373.5 758.7h0M373.8 766.9h0M374 771h0M374.1 773h0M374.2 783.6h0M373.9 726.1h0M374.2 759.2h0M374.1 779.5h0M374.1 788h0M373.9 763.4h0M374.1 755.2h0M374.4 772h0M374.9 777.6h0M374.9 757.4h0M375 768.9h0M374.7 784.2h0M375 764.2h0M374.6 782.2h0M375.2 733.5h0M374.6 767h0M374.7 781.8h0M374.8 785.7h0M374.9 769.1h0M375 772.6h0M375.6 772.8h0M375.1 782.6h0M375.8 773.2h0M375.5 759.6h0M375.9 772.4h0M375.8 776.2h0M375.8 763.4h0M376.1 779.7h0M376.2 775.7h0M375.8 765.1h0M376.1 770h0M376.2 767.4h0M376.3 781.3h0M375.9 765.1h0M376.5 768.4h0M376.1 773.6h0M376.3 760.3h0M376.6 764.3h0M376.7 750.8h0M376.9 780h0M376.9 761.4h0M377 783.3h0M377.1 762.8h0M376.5 778.4h0M376.7 740.3h0M377.2 773.5h0M377.4 774.4h0M377.3 779.3h0M376.9 772.2h0M377.6 782.4h0M377.6 762.3h0M377.1 773.2h0M377.4 779.8h0M377.7 788.4h0M377.6 768.2h0M377.6 779.9h0M377.5 736.3h0M377.9 774.9h0M377.5 776.4h0M377.6 779.1h0M377.6 739.2h0M378.3 765.2h0M377.7 770.1h0M378.1 758.4h0M378.3 780.8h0M378.3 760.1h0M378.5 788h0M378.3 778.6h0M378.8 786.2h0M378.4 788.4h0M378.9 785.4h0M378.5 785.8h0M378.8 781.2h0M378.7 786h0M378.6 777.2h0M379.2 762h0M379.3 731.1h0M379.2 773.9h0M379.1 781.7h0M379.5 775.4h0M379 773.1h0M379.4 773.9h0M379.2 764.1h0M379.5 780.8h0M379.3 772.5h0M379.8 778.3h0M379.5 777.3h0M379.8 786.4h0M379.8 770.8h0M380.2 772.7h0M380.3 780.1h0M379.9 777.7h0M380.4 747.6h0M379.8 779.2h0M380.7 761.5h0M380.2 763.1h0M380.6 768.3h0M380.6 769.8h0M380.5 761.6h0M380.6 746.6h0M380.4 779.7h0M381 773.7h0M380.6 778.6h0M381.1 755.6h0M380.8 780.8h0M381.2 767.1h0M381.3 779.6h0M381.2 779.1h0M381.2 768h0M381.5 776.3h0M381 780.1h0M381 774.1h0M381.8 770.6h0M381.5 782.6h0M381.8 771.7h0M381.4 772.7h0M381.6 776.4h0M381.9 772.7h0M381.6 769.5h0M381.6 764.6h0M381.8 780.7h0M382.4 758.1h0M382.3 773h0M382.5 748.7h0M382.2 772h0M382.2 750.1h0M382.3 758.8h0M382.5 766.9h0M382.8 741.2h0M382.5 782.5h0M383 775.4h0M382.6 765.7h0M382.7 780.3h0M382.8 764.1h0M383.1 764h0M382.8 776.9h0M383.3 715.9h0M382.9 770h0M383.2 747.8h0M383.6 775.2h0M383.4 772.5h0M383.4 781.2h0M383.1 785.7h0M383.5 760h0M383.7 779.6h0M383.4 772.8h0M383.8 787.3h0M384.1 751.8h0M384 776.5h0M384.2 763.8h0M384.1 725.4h0M384 772.8h0M384.4 764.7h0M384.5 787h0M384.3 733.3h0M384.2 781.5h0M384.3 739.5h0M384.5 786.9h0M384.9 783.6h0M384.9 769.1h0M384.5 724.1h0M384.6 780.3h0M384.7 786h0M384.7 776h0M385.3 771.9h0M385.4 774.9h0M384.8 773.3h0M384.9 762.5h0M385.5 760.6h0M385 776.8h0M385.2 782.5h0M385.6 773.9h0M385.3 765.6h0M385.7 784.5h0M385.7 762.2h0M385.9 771.4h0M385.8 779.2h0M386 778.5h0M386 766.5h0M386.3 752.6h0M386.2 759.5h0M386 777.8h0M386.4 787.8h0M386.1 727.3h0M386.3 774.9h0M386.3 788.2h0M386.3 788.5h0M386.8 769.4h0M386.5 785h0M386.6 755.5h0M386.9 776.4h0M386.4 782.2h0M386.7 753.2h0M387.2 780.5h0M387.2 782.4h0M387.2 779.9h0M386.8 778.7h0M387.2 753.9h0M387.5 774.9h0M387.6 774.3h0M387.2 776.1h0M387.1 787.3h0M387.2 781.5h0M387.7 761h0M387.5 786.6h0M387.6 776.5h0M388.1 761.1h0M387.9 750.2h0M388.1 788.2h0M387.9 777.8h0M388.2 785.9h0M387.8 784.2h0M388.4 788h0M388.1 761h0M388.1 763.2h0M388.5 763.2h0M388.5 766.6h0M388.9 758.9h0M388.6 769.5h0M388.9 735.4h0M388.6 749.3h0M388.7 752.4h0M388.9 777h0M389.2 785.4h0M389.1 761.4h0M388.6 779.1h0M389.4 765.1h0M389.5 766.7h0M388.9 760.7h0M389.6 779.4h0M389.6 762.9h0M389.5 778.4h0M389.6 777.9h0M389.8 764.7h0M389.5 780.8h0M389.8 771.2h0M389.8 772.1h0M390 754h0M390 773h0M390.1 766.6h0M390.3 782.4h0M390 772.7h0M389.8 763h0M390.4 778.4h0M390.6 781.3h0M390.7 785.6h0M390.2 768h0M390.3 782.7h0M390.8 781.8h0M391 739.6h0M390.5 779.1h0M390.7 763.7h0M390.5 767h0M390.9 766.7h0M390.9 779.4h0M391.2 783.5h0M391.1 762.1h0M390.8 765.1h0M391.6 780.3h0M391.1 766.6h0M391.8 782.1h0M391.7 779.9h0M391.5 778.7h0M391.8 767.1h0M391.4 772.6h0M391.6 764.6h0M392 779.1h0M391.5 771.6h0M392.2 764.5h0M392.2 781.2h0M392 765.8h0M392.4 774.5h0M392.3 786.8h0M392.2 785.3h0M392.2 777.4h0M392.5 772.1h0M392.1 772.9h0M392.8 770.6h0M392.5 772.1h0M392.3 758.2h0M392.4 784h0M393 773.5h0M392.8 776.6h0M393.1 775.1h0M393 770.2h0M393.3 781.8h0M393.2 764.7h0M393.5 775.6h0M393.4 758.6h0M393.4 772.6h0M393.5 745.6h0M393.3 786.7h0M393.4 751.8h0M393.6 773h0M393.3 766.9h0M393.7 771.6h0M394 778.1h0M393.7 774.1h0M393.8 761.5h0M393.9 787.9h0M393.8 784h0M393.8 749.4h0M394.3 783.2h0M394 777.8h0M393.9 776h0M394.2 762h0M394.5 758.8h0M394.7 772h0M394.3 773h0M394.5 775.3h0M394.7 786.6h0M394.5 763.8h0M394.9 780.9h0M394.5 780.5h0M394.6 759.8h0M394.8 752.9h0M395 788h0M395.4 778.3h0M394.9 784.6h0M394.9 776.2h0M395.6 777.8h0M395.8 705.5h0M395.6 780.7h0M395.4 770.2h0M395.5 771.5h0M395.8 780.5h0M395.6 774.6h0M395.5 776.6h0M396 770.5h0M395.6 779.7h0M396.2 773.5h0M396.1 776.9h0M396.1 759h0M396.6 776.1h0M396.5 787.1h0M396.4 765.7h0M396.3 735h0M396.3 767.9h0M396.8 762h0M396.8 782.8h0M396.9 759.2h0M396.4 773.8h0M396.6 779.6h0M397.3 759.9h0M397.2 760.6h0M396.9 771.2h0M397.2 778.8h0M396.9 778.7h0M397 775.5h0M397.4 746.4h0M397.2 760.9h0M397.1 782.4h0M397.6 778h0M398 750.6h0M397.4 770.9h0M397.5 766.6h0M398 711.6h0M397.5 783.1h0M397.6 723.7h0M398.2 774.4h0M397.7 732.9h0M398.1 746.1h0M397.9 782.2h0M398.5 768h0M398.4 771.7h0M398.2 752.4h0M398.2 766.8h0M398.3 777.4h0M398.5 788.3h0M398.6 757.9h0M398.9 707.3h0M398.4 773.8h0M398.8 783.1h0M398.5 779h0M398.9 770.2h0M398.7 757.2h0M398.9 752.9h0M398.9 781.5h0M399.3 781.6h0M399.5 782h0M399.5 772.2h0M399.4 774.3h0M399.9 772.6h0M399.3 777.6h0M399.9 781.7h0M399.3 749.5h0M400.1 770.8h0M400.2 770.6h0M400.1 761.9h0M400.3 769h0M400.3 776.2h0M399.8 784h0M400.2 766.7h0M400.3 778.7h0M400.6 767.7h0M400.3 772.8h0M400.5 778.6h0M400.9 761.6h0M400.7 769.6h0M400.5 778.1h0M400.5 761.2h0M401 782.4h0M400.9 750.6h0M400.8 768.2h0M401.2 758h0M400.9 779.6h0M400.8 781.9h0M401.1 777.4h0M401.6 768h0M401.6 782.9h0M401.4 708.8h0M401.1 750.6h0M401.6 765.9h0M401.2 776.3h0M401.4 769.1h0M401.7 768h0M401.9 787.8h0M401.9 755.3h0M401.5 775.1h0M401.9 760.8h0M402.3 774.8h0M402.4 770.8h0M402.3 786.2h0M401.9 764.8h0M402.1 765.2h0M402.6 779.1h0M402.2 770.8h0M402.6 776.3h0M403 770.4h0M402.6 762.1h0M402.5 770.7h0M402.9 780.2h0M402.8 764.4h0M403.1 773.8h0M402.9 768.9h0M403.3 776.8h0M403 758.6h0M403 770.2h0M403.6 767.4h0M403.6 746.5h0M403.8 771h0M403.7 766.2h0M403.5 783.2h0M404 776.8h0M403.5 767.4h0M403.9 769.3h0M403.5 771.4h0M404.1 783h0M403.6 781.9h0M404.4 781.2h0M403.9 780.7h0M404 774.3h0M403.8 764.2h0M403.9 785.9h0M404.7 735.3h0M404.7 780.7h0M404.5 769.6h0M404.4 765.4h0M404.3 750.4h0M404.7 769.9h0M405.1 775h0M405.2 779.1h0M404.8 763.4h0M405.2 773.6h0M405.1 777.5h0M405.1 788.3h0M405.5 734.8h0M405.4 772.4h0M405.1 779.2h0M405.3 731.1h0M405.6 787.8h0M405.3 734.1h0M405.3 758h0M405.6 760.6h0M405.7 764.2h0M406 786.1h0M405.7 763.6h0M405.9 765.2h0M406.2 767h0M406.3 777.9h0M406.1 777.5h0M405.8 778h0M406.5 766.6h0M406.5 766.2h0M406.6 757.1h0M406.1 743.1h0M406.8 735.8h0M406.6 774.2h0M406.4 769.8h0M407.1 761h0M406.7 774.1h0M407 770h0M406.8 762.5h0M406.6 783.3h0M407 769.6h0M407.1 769.1h0M407.5 779.2h0M407 770.7h0M407.1 785.9h0M407.3 757.9h0M407.2 774.1h0M407.6 765h0M407.7 785.6h0M407.6 775.7h0M407.5 775.3h0M407.6 780.9h0M408 777.7h0M408.1 766.1h0M407.8 762h0M407.7 784.7h0M407.8 773.8h0M407.8 768.7h0M408 780.8h0M408 772.1h0M408.4 781.5h0M408.7 762.8h0M408.6 781.2h0M408.9 760.7h0M409 767.3h0M408.4 768.3h0M408.8 763.9h0M409.2 785.1h0M408.8 786.6h0M408.7 776.4h0M409.2 741.2h0M409.4 776.4h0M409 779.1h0M409.5 782.1h0M409.3 773.5h0M409.5 759.5h0M409.4 777.4h0M409.9 758.1h0M409.6 782.3h0M409.7 786.5h0M409.7 776.5h0M409.5 763.1h0M409.7 775.6h0M409.6 757.9h0M410.3 759h0M410.2 780.5h0M410.3 786.7h0M409.9 786.1h0M410 770.6h0M410.6 782.1h0M410.4 784.4h0M410.3 781.6h0M410.9 779.6h0M410.6 771.4h0M410.3 775.1h0M410.3 754.2h0M410.9 767.5h0M410.9 765.7h0M411 762.9h0M410.9 757.4h0M411 760.2h0M410.9 761.2h0M410.8 775.3h0M410.9 788.2h0M411.2 770.1h0M411.7 774.8h0M411.3 781.9h0M411.5 781.3h0M411.4 770h0M411.3 784.2h0M412 768.9h0M412 769.8h0M412.1 786.1h0M412.3 755.8h0M412.1 751.1h0M411.7 770.7h0M412.2 776.6h0M412.2 767h0M411.9 784.1h0M412.6 772.3h0M412.6 761.5h0M412.1 760.5h0M412.6 782h0M412.8 777.8h0M412.4 766.7h0M413.1 780.5h0M413.1 776.9h0M412.9 757.2h0M413.2 774.6h0M413.3 768.5h0M413.3 774h0M413.2 763h0M413.5 772.2h0M413 769.1h0M413.2 787.5h0M413.7 779.5h0M413.7 784.1h0M413.6 729.8h0M413.9 770.4h0M414 786.2h0M413.8 779.1h0M413.8 763.4h0M414.2 765.7h0M414 758.7h0M413.9 781.8h0M414.2 772.7h0M414.4 774.7h0M414.2 764.1h0M414.6 773h0M414.1 784.5h0M414.3 768.6h0M414.4 765.9h0M414.4 775.2h0M414.2 756.2h0M415 776.7h0M414.5 779.7h0M414.8 783.3h0M415.2 772.2h0M415.1 787h0M415 786.8h0M415 772.6h0M415.3 770.1h0M415.3 763.9h0M415.6 769.1h0M415 768.2h0M415.3 773.5h0M415.6 766.5h0M415.7 775.5h0M415.5 769h0M415.6 755h0M415.5 780.9h0M415.5 778.5h0M415.5 760.1h0M415.7 760.2h0M416 782.3h0M415.7 763h0M416.3 784.1h0M415.9 786.5h0M415.9 772.8h0M416.1 778.5h0M416.4 774.3h0M416.2 770.8h0M416.6 787.3h0M416.9 780.1h0M416.6 763.4h0M416.3 778.3h0M416.7 761.7h0M416.8 763.9h0M417.1 764h0M416.6 773.5h0M417.2 762.9h0M417.5 767.4h0M417 774.3h0M417.3 777.3h0M417 758.6h0M417.6 769.6h0M417.3 774.5h0M417.7 777.5h0M417.8 726h0M417.9 778.9h0M417.5 776.3h0M418 764.9h0M417.6 786.4h0M417.9 771.7h0M417.9 753.2h0M418 775h0M417.9 768.1h0M418.4 780.4h0M418.4 782.3h0M418.6 755.5h0M418.2 768.6h0M418.6 765.6h0M418.3 743.4h0M418.7 779.4h0M418.3 762.9h0M419.1 753.5h0M418.9 783.4h0M418.9 784.2h0M419.2 780.4h0M418.8 763.7h0M419.1 778h0M418.9 757.6h0M419 783.2h0M419 733.7h0M418.9 771.1h0M419.4 766.3h0M419.2 760.7h0M419.2 763.7h0M419.9 781.6h0M419.7 786.4h0M420 787.3h0M419.7 775.5h0M420.1 771.5h0M419.6 770.5h0M419.7 760.9h0M420 761.9h0M419.9 766.1h0M419.9 770.3h0M420.6 763.2h0M420.6 765.1h0M420.1 772.8h0M420.4 788.3h0M420.2 764h0M420.8 783.9h0M421 762.4h0M420.6 778.4h0M420.4 760.2h0M420.9 756.6h0M420.8 766.3h0M420.8 788.2h0M421.3 772.2h0M421.5 782.7h0M421.5 768.6h0M421.6 748.4h0M421.2 768.8h0M421.7 761h0M421.1 767.7h0M421.8 776.6h0M421.3 756.4h0M421.5 734.2h0M421.5 784.6h0M421.7 781.6h0M422 738.1h0M421.8 763.1h0M422.1 762.8h0M421.9 739.8h0M422.3 769.5h0M422.2 784.1h0M422.2 755.3h0M422.6 779.4h0M422.8 773.2h0M422.4 787.6h0M422.7 776h0M422.5 777h0M422.3 785.5h0M422.8 760h0M422.5 788.1h0M422.6 777h0M423.3 770.1h0M423.3 774.1h0M423.1 784.4h0M423.5 768.1h0M422.9 757.9h0M423.1 784.8h0M423.3 777.6h0M423.6 748.3h0M423.4 721.1h0M423.5 780.7h0M424 783.6h0M423.9 762.7h0M424.1 786.7h0M424 746.8h0M424.1 759.6h0M423.8 778h0M423.8 723.5h0M424 768.1h0M423.9 771.6h0M424.5 769.4h0M424.3 786h0M424.6 766.3h0M424.7 761h0M424.8 751.6h0M424.6 780.6h0M424.8 785.5h0M424.5 768.7h0M424.7 781.4h0M425 778.1h0M425.1 785.3h0M424.8 779.1h0M424.8 767.1h0M424.9 774.8h0M425.5 757.9h0M425.6 780.1h0M425.2 777.4h0M425.2 768.7h0M425.1 745.7h0M425.9 786.3h0M425.6 772.6h0M425.7 777h0M425.3 770.6h0M426 772.5h0M425.8 765.8h0M425.8 788.2h0M426.1 772.2h0M426.4 771.4h0M425.9 780.8h0M425.8 691h0M426.2 775.3h0M426.2 785h0M426.7 783.1h0M426.6 757h0M426.7 776.3h0M426.4 786.2h0M426.7 774.2h0M427.1 774.2h0M426.9 779.2h0M426.4 744.7h0M426.9 738.7h0M426.8 772.2h0M426.9 759.5h0M426.9 779.3h0M427 771.3h0M426.9 778h0M427.4 781.1h0M427 788.4h0M427.3 781.8h0M427.5 760.5h0M427.9 787.1h0M427.5 773.6h0M427.9 785.3h0M427.9 781.2h0M428.2 763.6h0M428.2 774.3h0M427.9 769.8h0M427.8 763.9h0M427.9 762.4h0M428 766.6h0M428.2 775h0M428.1 786.2h0M428.7 782.7h0M428.6 762.4h0M428.8 772.1h0M428.3 778.3h0M428.5 777.9h0M429 783.7h0M428.7 773.7h0M428.9 763.3h0M429.1 764h0M429.1 788.3h0M429.2 770.6h0M429.5 768.2h0M429.1 764h0M429.5 723.1h0M429.1 774.6h0M429.6 765h0M429 767.3h0M429.1 773.1h0M429.2 761.9h0M429.6 770.4h0M430 763.5h0M429.7 761.6h0M429.6 785h0M430.2 758.6h0M430.1 776.9h0M429.9 775.4h0M429.8 771.9h0M430.2 785.9h0M430.2 771.1h0M430.1 777.6h0M430.6 766.4h0M430.4 785.5h0M430.5 773.3h0M430.4 768.8h0M430.5 749.2h0M431 775.4h0M430.8 774.4h0M430.8 739h0M430.6 781.2h0M431 776.4h0M430.8 770.9h0M431.5 730.5h0M431.5 762.8h0M431.4 782.2h0M431.5 776.1h0M431 780.6h0M431.6 771.9h0M431.4 779.5h0M431.5 751h0M431.9 743.9h0M431.5 755.4h0M432.1 749.8h0M432.1 755.5h0M431.6 767.2h0M432.1 770.5h0M432.2 781.3h0M431.8 777.3h0M432.3 764.8h0M432.3 774.4h0M432.6 783.3h0M432.5 786.6h0M432.6 740.1h0M432.6 772.8h0M432.8 743.8h0M432.8 784.8h0M432.5 775.7h0M432.4 770.7h0M432.5 785.9h0M433.2 772.1h0M432.9 762.6h0M433.1 785.7h0M432.8 775.3h0M433.3 777.6h0M433 758.1h0M433.6 771.5h0M433.6 776.3h0M433.1 774h0M433.8 708.3h0M433.7 771.1h0M433.6 762.4h0M434 758.4h0M433.6 773.5h0M433.7 764.5h0M433.7 776.5h0M433.9 769.7h0M434 781.4h0M433.8 785.3h0M434 783.4h0M434 756.5h0M434.7 725.9h0M434.8 782.6h0M434.5 773h0M434.4 765.2h0M434.4 784.4h0M434.3 786.9h0M434.8 788h0M434.7 776.2h0M435 762.5h0M434.7 765.7h0M434.7 757.7h0M435.2 775.3h0M434.9 783.9h0M435.3 774.1h0M435 774.4h0M435.1 768.2h0M435.5 729.3h0M435.4 763.5h0M435.6 774h0M435.6 772.7h0M435.8 766.9h0M435.9 777.9h0M436.2 787.2h0M435.9 761.5h0M435.7 780h0M435.7 772.2h0M436.1 765.3h0M435.8 779.7h0M436.5 773.3h0M436.1 785.4h0M436.6 769.8h0M436.7 778.8h0M436.5 774.7h0M436.3 760.3h0M436.7 770.9h0M436.7 766.3h0M436.6 764.6h0M436.8 787.4h0M437.2 768.2h0M436.7 719.8h0M437 769.5h0M436.9 770.2h0M436.8 777.3h0M437.5 774.9h0M437.1 785.7h0M437.1 765.7h0M437.2 756.5h0M437.5 768.5h0M437.7 774.9h0M437.5 778.8h0M437.4 787.9h0M438.1 773.5h0M438 786.1h0M437.8 763.2h0M438.1 702.3h0M438.3 788h0M438 785.4h0M437.9 778.8h0M438.5 771.1h0M438.3 785.3h0M438.1 763.7h0M438.8 776.3h0M438.5 762.7h0M438.8 785.7h0M438.4 780.3h0M438.5 772.2h0M438.6 764h0M438.5 777.8h0M439.2 767.3h0M438.6 773.1h0M438.8 768.2h0M439.3 773.6h0M439 776.6h0M439.4 762h0M439 774.6h0M439 768.8h0M439.6 786.9h0M439.8 749.8h0M439.2 764.5h0M439.9 769.1h0M439.4 763.5h0M439.3 785.6h0M439.7 761.9h0M439.7 761h0M439.8 784.6h0M439.9 787.3h0M440 774.9h0M440 784.2h0M440.3 769.1h0M440.5 763.5h0M440.1 784.1h0M440.1 779h0M440.6 763.3h0M440.3 784.1h0M440.4 777.6h0M440.6 760.6h0M441 747.2h0M440.5 778.9h0M440.9 755.4h0M441 770.8h0M441 764.5h0M440.8 784.2h0M441.1 776.1h0M441.1 785.6h0M440.9 764.3h0M441.5 771.7h0M441.3 703.1h0M441.1 760.4h0M441.7 780.7h0M441.4 785h0M441.7 777.6h0M441.7 722.9h0M441.8 785.3h0M441.7 774.7h0M442.1 774.3h0M442.3 778.8h0M442 781.7h0M442.3 785.5h0M442.3 759.8h0M442 779.1h0M442.3 784.2h0M442.3 775.7h0M442.6 774.1h0M442.4 779.9h0M442.9 779.7h0M442.5 772.3h0M442.6 730.9h0M442.5 773.3h0M443.2 781.8h0M442.6 785.2h0M442.7 750.6h0M443 785.7h0M443.1 767.3h0M443.6 778h0M443.1 773.1h0M443.5 767.5h0M443.1 762.8h0M443.9 757.4h0M443.9 782.6h0M443.3 765.5h0M443.9 775.6h0M444.1 770.9h0M444 763.7h0M443.8 775.9h0M443.6 787h0M443.7 760.3h0M444.1 774.5h0M444.5 784.6h0M444.2 783.7h0M444.5 780h0M444 778.4h0M444.2 772.9h0M444.3 771.1h0M444.8 779.5h0M444.4 787h0M444.6 771h0M444.9 762.7h0M445.1 763.4h0M444.6 772h0M445.3 775.3h0M445.4 770.9h0M444.9 762.2h0M445.1 750.1h0M444.9 788.1h0M445.2 732.4h0M445.6 771.9h0M445.7 758.6h0M445.1 768.1h0M445.9 767.8h0M445.2 788.1h0M445.4 758.4h0M445.6 772.8h0M446.2 767.7h0M446.2 786.1h0M445.6 763.8h0M445.8 746.5h0M446.4 787.8h0M446.2 763.6h0M446.1 774.6h0M446.6 769.6h0M446 766h0M446.8 761.7h0M446.1 762.9h0M446.8 785.6h0M446.9 765.1h0M446.6 768.4h0M446.9 773.8h0M446.7 769.2h0M447.2 743.7h0M447.2 767.5h0M446.8 786.5h0M447.5 765.4h0M446.9 771.6h0M447 761.4h0M447 784h0M446.9 709.3h0M447.7 786.6h0M447.6 787.2h0M447.7 773.4h0M447.3 768.6h0M447.9 760.6h0M447.8 781.7h0M447.4 739.4h0M447.8 760.2h0M448.3 787.5h0M447.7 765.2h0M448.3 774.3h0M448 784.6h0M447.9 768h0M448.6 770.4h0M448.7 775.1h0M448.3 781.6h0M448.5 780h0M448.6 767h0M448.9 770.1h0M448.9 778.4h0M448.7 768.6h0M448.9 779.9h0M449.2 769.4h0M448.6 771.6h0M449.2 781.6h0M449.4 769.9h0M449.1 765.1h0M449.2 760.7h0M449.6 775.1h0M449.2 777.6h0M449.1 780.3h0M449.4 782.7h0M449.7 731.6h0M449.5 768.3h0M449.6 773h0M449.4 741.7h0M449.6 781.6h0M449.6 778.2h0M450.1 762h0M450 762.7h0M449.9 705.3h0M450.3 785.9h0M450.1 749.5h0M450.4 747.9h0M450.1 760.7h0M450.2 784.7h0M450.4 774.5h0M450.8 718.6h0M450.9 769.6h0M450.5 767.8h0M450.4 766.4h0M450.6 768h0M451.3 776.8h0M451 761.3h0M451.3 757.3h0M450.7 766.4h0M451.3 781.5h0M451.1 772h0M451 763.6h0M451.6 756.6h0M451.1 769.8h0M451.8 784.5h0M451.3 766.3h0M452 731.7h0M451.5 759.3h0M451.8 760.8h0M451.9 769.8h0M451.6 782.8h0M451.7 773.8h0M451.8 778.6h0M452.1 759.1h0M451.9 765.4h0M452.5 774.5h0M452.6 739.6h0M452.4 784.7h0M452.5 774h0M452.3 783.4h0M452.9 774.8h0M452.9 781.3h0M452.8 767.6h0M452.9 742.9h0M452.6 733.8h0M452.9 778.6h0M452.8 782h0M453.1 745.3h0M453 773.8h0M453.3 760.3h0M453.3 759.8h0M453 759.2h0M453.3 775.9h0M453.1 774h0M453.5 725.9h0M453.6 759.4h0M453.9 765.6h0M453.8 672.4h0M453.8 769.7h0M453.5 787.5h0M453.7 787.2h0M454.1 745.3h0M454.2 772.9h0M454.1 783.3h0M454.1 779h0M454.6 775h0M454.3 759.6h0M454.4 772.1h0M454.7 787h0M454.7 778.4h0M454.8 741.8h0M454.5 762.3h0M454.3 696.7h0M455.1 761.7h0M454.9 787.3h0M455.3 773.7h0M455.2 763.8h0M454.7 756.6h0M455.1 708.2h0M455.3 732.8h0M455.2 786.2h0M455.3 749.6h0M455.3 755.9h0M455.1 750.1h0M455.5 769.5h0M455.3 772.2h0M456 774h0M455.8 782.3h0M455.8 731.2h0M455.6 759.9h0M456.1 780.6h0M456.1 785.9h0M456 765.2h0M456 779.6h0M455.8 760.2h0M456.5 760.6h0M456.4 765.2h0M456.5 761.1h0M456.4 769.2h0M456.7 751.4h0M456.3 778.6h0M456.5 756.9h0M457 708.7h0M457.1 757.6h0M457 755h0M456.7 785.6h0M456.8 763.3h0M457.4 719.6h0M456.7 758.2h0M457.2 784.1h0M456.9 758.5h0M456.9 768h0M457 757h0M457.7 788.2h0M457.8 770.9h0M457.4 748h0M458 723.2h0M457.9 721h0M458.1 723.1h0M457.9 748h0M458.2 781.3h0M458.3 760.8h0M458.1 764.4h0M458.1 763.1h0M458.1 781.9h0M458.5 749.4h0M458.3 759.7h0M458.1 780.8h0M458.7 734h0M458.2 711.9h0M458.5 774.7h0M458.8 785.5h0M458.5 779.4h0M458.8 773.9h0M458.7 782.4h0M458.8 756.6h0M459.3 786.1h0M459.4 768.4h0M459 770.1h0M459.2 780.7h0M459.1 778.6h0M459.4 757.7h0M459.7 760.1h0M459.2 756.8h0M459.6 762.4h0M459.8 760.4h0M459.4 758.7h0M460 753.6h0M459.8 779h0M460 768.6h0M459.8 748.4h0M459.6 773.5h0M460 762.1h0M459.9 760.7h0M460.2 765.7h0M460.3 761.3h0M460.1 739.3h0M460.2 727.9h0M460.4 730.7h0M460.8 739.4h0M460.7 778.6h0M460.7 784.9h0M460.6 735.9h0M461 731.6h0M460.9 758.1h0M460.7 781.4h0M461.2 769.1h0M461 757.4h0M460.9 779.5h0M461.2 757.9h0M461.3 773.9h0M461.5 755.6h0M461.2 782.5h0M461.4 769.3h0M461.7 741.9h0M461.7 737.3h0M461.5 750.5h0M461.6 770h0M461.9 766.5h0M461.9 778.3h0M461.6 755.3h0M461.8 777.3h0M461.8 784.4h0M462 718h0M462.6 750.2h0M462.4 755.8h0M462.2 788.2h0M462.2 788.1h0M462.2 747.5h0M462.7 782.6h0M462.8 764.7h0M462.4 775.8h0M462.4 775h0M462.7 781.4h0M462.5 761.8h0M462.8 778.9h0M462.8 757.7h0M463.3 759.7h0M463.3 730.4h0M463.1 720.8h0M463.3 768.4h0M463.4 776.9h0M463 769.5h0M463.5 784.2h0M463.2 772.3h0M463.3 781.2h0M463.4 741.8h0M463.8 742.9h0M464.1 748h0M463.8 756.6h0M463.6 766.8h0M464 766.2h0M463.9 750.2h0M464.4 763.6h0M463.9 739.4h0M464.3 751.6h0M464.2 771.4h0M464.1 734.9h0M464.3 673.1h0M464.6 751h0M464.3 707.5h0M464.6 742.8h0M465 744.3h0M464.9 779.8h0M464.8 756h0M464.7 719.4h0M465 768.1h0M465.3 738.4h0M465.1 763.8h0M465.2 679.9h0M465.6 741.8h0M465.3 780h0M465.7 728.3h0M465.2 787.5h0M465.6 727.1h0M465.2 757.3h0M465.5 748.5h0M465.5 777.7h0M465.8 747h0M465.6 680.9h0M465.8 759.6h0M466.2 751.6h0M465.7 742.6h0M466 737.4h0M466.5 768.4h0M466.4 777.6h0M466.4 776.9h0M466.3 744.6h0M466.3 764.8h0M466.2 753.1h0M466.7 764.2h0M466.9 785.6h0M466.7 759.9h0M466.9 747.1h0M466.5 758.8h0M466.8 764h0M467.4 746.2h0M467.1 781.5h0M466.9 743.2h0M467.1 783.2h0M467.5 779.5h0M467.5 724.8h0M467.1 759.4h0M467.7 777.3h0M467.8 766.6h0M467.9 760.8h0M468 759.5h0M467.4 762.9h0M467.7 767.2h0M467.5 780.4h0M468.2 753.6h0M467.7 756.9h0M467.8 758.3h0M468.4 775.4h0M467.9 764.1h0M468.7 757.5h0M468.5 768.9h0M468 745.7h0M468.1 760.2h0M468.6 741.9h0M468.6 776.7h0M468.3 756.4h0M469.1 786.3h0M469 752.4h0M469.2 782.2h0M469.2 761.6h0M469.3 748.9h0M469 777.7h0M468.9 701.9h0M469.3 761.8h0M469.4 760.2h0M469.3 744.8h0M469.4 776.3h0M469.5 758.1h0M469.4 759h0M469.9 763.2h0M470 762.9h0M470 787.2h0M469.8 760.2h0M470.2 758.5h0M469.6 758h0M469.9 783.3h0M469.9 773h0M469.8 729.8h0M470.6 762h0M469.9 785.9h0M470.3 720.4h0M470.8 785.4h0M470.8 773.4h0M470.5 736.8h0M470.5 766.4h0M471 787.5h0M470.9 786h0M471.1 786.7h0M471.1 738h0M470.6 773.3h0M471.1 769.5h0M471.5 771.7h0M471.3 788h0M471 773.8h0M471.4 753.2h0M471.5 782.8h0M471.4 744.9h0M471.9 750.5h0M471.4 777.9h0M471.3 752.7h0M471.7 769.6h0M471.8 719.8h0M471.8 776.9h0M472.3 758.6h0M471.9 758.2h0M472.4 760.2h0M471.7 759.8h0M471.8 771h0M472.3 754.1h0M472.5 774h0M472.4 760.4h0M472.1 780.8h0M472.4 773.7h0M472.8 762.3h0M472.8 733.4h0M472.7 770.9h0M472.7 779.7h0M473 758.1h0M473.2 755.9h0M473.2 681.7h0M472.9 757.1h0M473.4 776.4h0M473 739.6h0M473.4 762h0M473.5 741h0M473.5 778h0M473.8 735.2h0M473.8 735.6h0M473.6 783.3h0M474 761.7h0M473.5 755.1h0M473.9 781.3h0M473.6 767.3h0M473.8 780.8h0M473.8 771.6h0M474 754.5h0M474.5 754h0M473.9 770.8h0M474.1 762.6h0M474.1 783.9h0M474.3 775.7h0M474.8 765.8h0M474.3 780.9h0M474.7 759.5h0M474.4 771.4h0M474.6 778.2h0M475.1 746.2h0M475.1 759.1h0M475.2 771.3h0M475.3 755.9h0M474.8 781.6h0M474.9 781.8h0M475.4 777.1h0M474.9 787.1h0M475.1 779.2h0M475.6 738h0M475.7 766.8h0M475.5 733.8h0M475.7 758.3h0M475.7 758.8h0M475.4 742.8h0M475.5 762.5h0M475.7 763.1h0M476.3 721h0M475.8 776.9h0M476.1 774.7h0M476.2 769.8h0M476.2 777.4h0M476.3 757.4h0M476.6 734.6h0M476.5 739.8h0M476.7 771.7h0M476.2 783.8h0M476.3 775h0M476.3 782.3h0M476.7 766.3h0M476.9 743.4h0M476.8 769.3h0M476.9 746.9h0M477.1 775.1h0M476.9 761.6h0M477.5 722.7h0M477.6 757.1h0M477 721.7h0M477.2 720h0M477.1 777.1h0M477.8 712.8h0M477.3 768.9h0M477.5 759.8h0M477.6 758.7h0M477.6 757.6h0M477.6 786.6h0M478 757.4h0M477.8 765.5h0M478 758.5h0M477.9 778.9h0M478 788.5h0M478.3 776.7h0M478 783.6h0M478.4 753.2h0M478.8 769.2h0M478.7 727.5h0M478.7 756.2h0M478.9 772.1h0M478.3 779.2h0M478.3 766.5h0M479.1 786.9h0M478.9 764.9h0M479 768.5h0M478.8 776h0M479.1 723.1h0M479.5 778h0M479.2 779.4h0M479.6 766.2h0M69 573.3h0M69 626.4h0M69 740h0M74 754h0M102.8 485h0M102.8 545h0M101 574.4h0M102.8 577.2h0M104.6 635.5h0M117.5 642h0M168.8 537.4h0M168.8 550h0M168.8 563.5h0M170.5 623.6h0M162.9 638.2h0M225 626.4h0M248.4 612h0M253 643.8h0M260.7 655.5h0M248.4 668h0M282 475.4h0M327.6 527.6h0M386.8 561.6h0M331.5 626.4h0M288 637.3h0M288 651.7h0M292.6 654.5h0M290.8 667.4h0M408.9 638h0M472 644.7h0M462.5 654.5h0M463.5 660.4h0M477.2 668.1h0M387.5 663.2h0M320.9 660.4h0M327.6 661.5h0M325.8 672h0M331.5 670.2h0M257.5 670.2h0M260 673.7h0M296.8 673.7h0M308.3 676.2h0M309 681.4h0M331.5 677.2h0M331.5 686h0M344 679h0M344 680.7h0M365.4 674.8h0M395.6 675.8h0M409.6 680.7h0M410.3 689.5h0M137.4 679.8h0M131.4 681.9h0M126.2 688.2h0M140.2 689.2h0M106.3 685.7h0M101.4 688.5h0M180.3 690.6h0M209.6 693.7h0M248.4 682.2h0M252.9 675.6h0M258.8 670.4h0M439 686h0M443.2 687.8h0M467 682.8h0M468.1 686h0M466.1 684.9h0M476.1 694.4h0M474 697.5h0M472.1 703.2h0M453.8 702.3h0M463.4 709.6h0M468.2 708.7h0M460.4 692.6h0M443.1 687.7h0M183.5 794.5h0M416 791.8h0M475.5 793.5h0" stroke="#000" stroke-width="4.2" stroke-linecap="round" fill="none"/>
<rect x="39.5" y="457.8" width="644.8" height="368.59999999999997" fill="none" stroke="#404040" stroke-width="1.1"/>
<path d="M68.7 826.4v3.4M163.4 826.4v3.4M261.3 826.4v3.4M359.2 826.4v3.4M458.7 826.4v3.4M556.6 826.4v3.4M654.5 826.4v3.4M39.5 825.5h-3.4M39.5 750.5h-3.4M39.5 675.5h-3.4M39.5 600.5h-3.4M39.5 525.5h-3.4" stroke="#404040" stroke-width="1" fill="none"/>
<text transform="translate(31.8,830) scale(1,1.07)" font-size="10.4" text-anchor="end" textLength="10.6" lengthAdjust="spacingAndGlyphs">10</text>
<text transform="translate(31.8,755) scale(1,1.07)" font-size="10.4" text-anchor="end" textLength="10.6" lengthAdjust="spacingAndGlyphs">20</text>
<text transform="translate(31.8,680) scale(1,1.07)" font-size="10.4" text-anchor="end" textLength="10.6" lengthAdjust="spacingAndGlyphs">30</text>
<text transform="translate(31.8,605) scale(1,1.07)" font-size="10.4" text-anchor="end" textLength="10.6" lengthAdjust="spacingAndGlyphs">40</text>
<text transform="translate(31.8,530) scale(1,1.07)" font-size="10.4" text-anchor="end" textLength="10.6" lengthAdjust="spacingAndGlyphs">50</text>
<text transform="translate(68.2,841.3) scale(1,1.07)" font-size="10.4" text-anchor="middle" textLength="38.8" lengthAdjust="spacingAndGlyphs">2019-01</text>
<text transform="translate(162.9,841.3) scale(1,1.07)" font-size="10.4" text-anchor="middle" textLength="38.8" lengthAdjust="spacingAndGlyphs">2019-03</text>
<text transform="translate(260.8,841.3) scale(1,1.07)" font-size="10.4" text-anchor="middle" textLength="38.8" lengthAdjust="spacingAndGlyphs">2019-05</text>
<text transform="translate(358.7,841.3) scale(1,1.07)" font-size="10.4" text-anchor="middle" textLength="38.8" lengthAdjust="spacingAndGlyphs">2019-07</text>
<text transform="translate(458.2,841.3) scale(1,1.07)" font-size="10.4" text-anchor="middle" textLength="38.8" lengthAdjust="spacingAndGlyphs">2019-09</text>
<text transform="translate(556.1,841.3) scale(1,1.07)" font-size="10.4" text-anchor="middle" textLength="38.8" lengthAdjust="spacingAndGlyphs">2019-11</text>
<text transform="translate(654,841.3) scale(1,1.07)" font-size="10.4" text-anchor="middle" textLength="38.8" lengthAdjust="spacingAndGlyphs">2020-01</text>
<text transform="translate(361.6,453.0) scale(1,1.03)" font-size="13" text-anchor="middle" textLength="38.4" lengthAdjust="spacingAndGlyphs">Boston</text>
<text transform="translate(361.7,860.0) scale(1,1.07)" font-size="10.6" text-anchor="middle" textLength="29.6" lengthAdjust="spacingAndGlyphs">Month</text>
<text transform="translate(9.2,643.7) rotate(-90)" font-size="10.7" text-anchor="middle" textLength="132" lengthAdjust="spacingAndGlyphs">Average hourly fares (USD)</text>
</svg>
</body></html>
